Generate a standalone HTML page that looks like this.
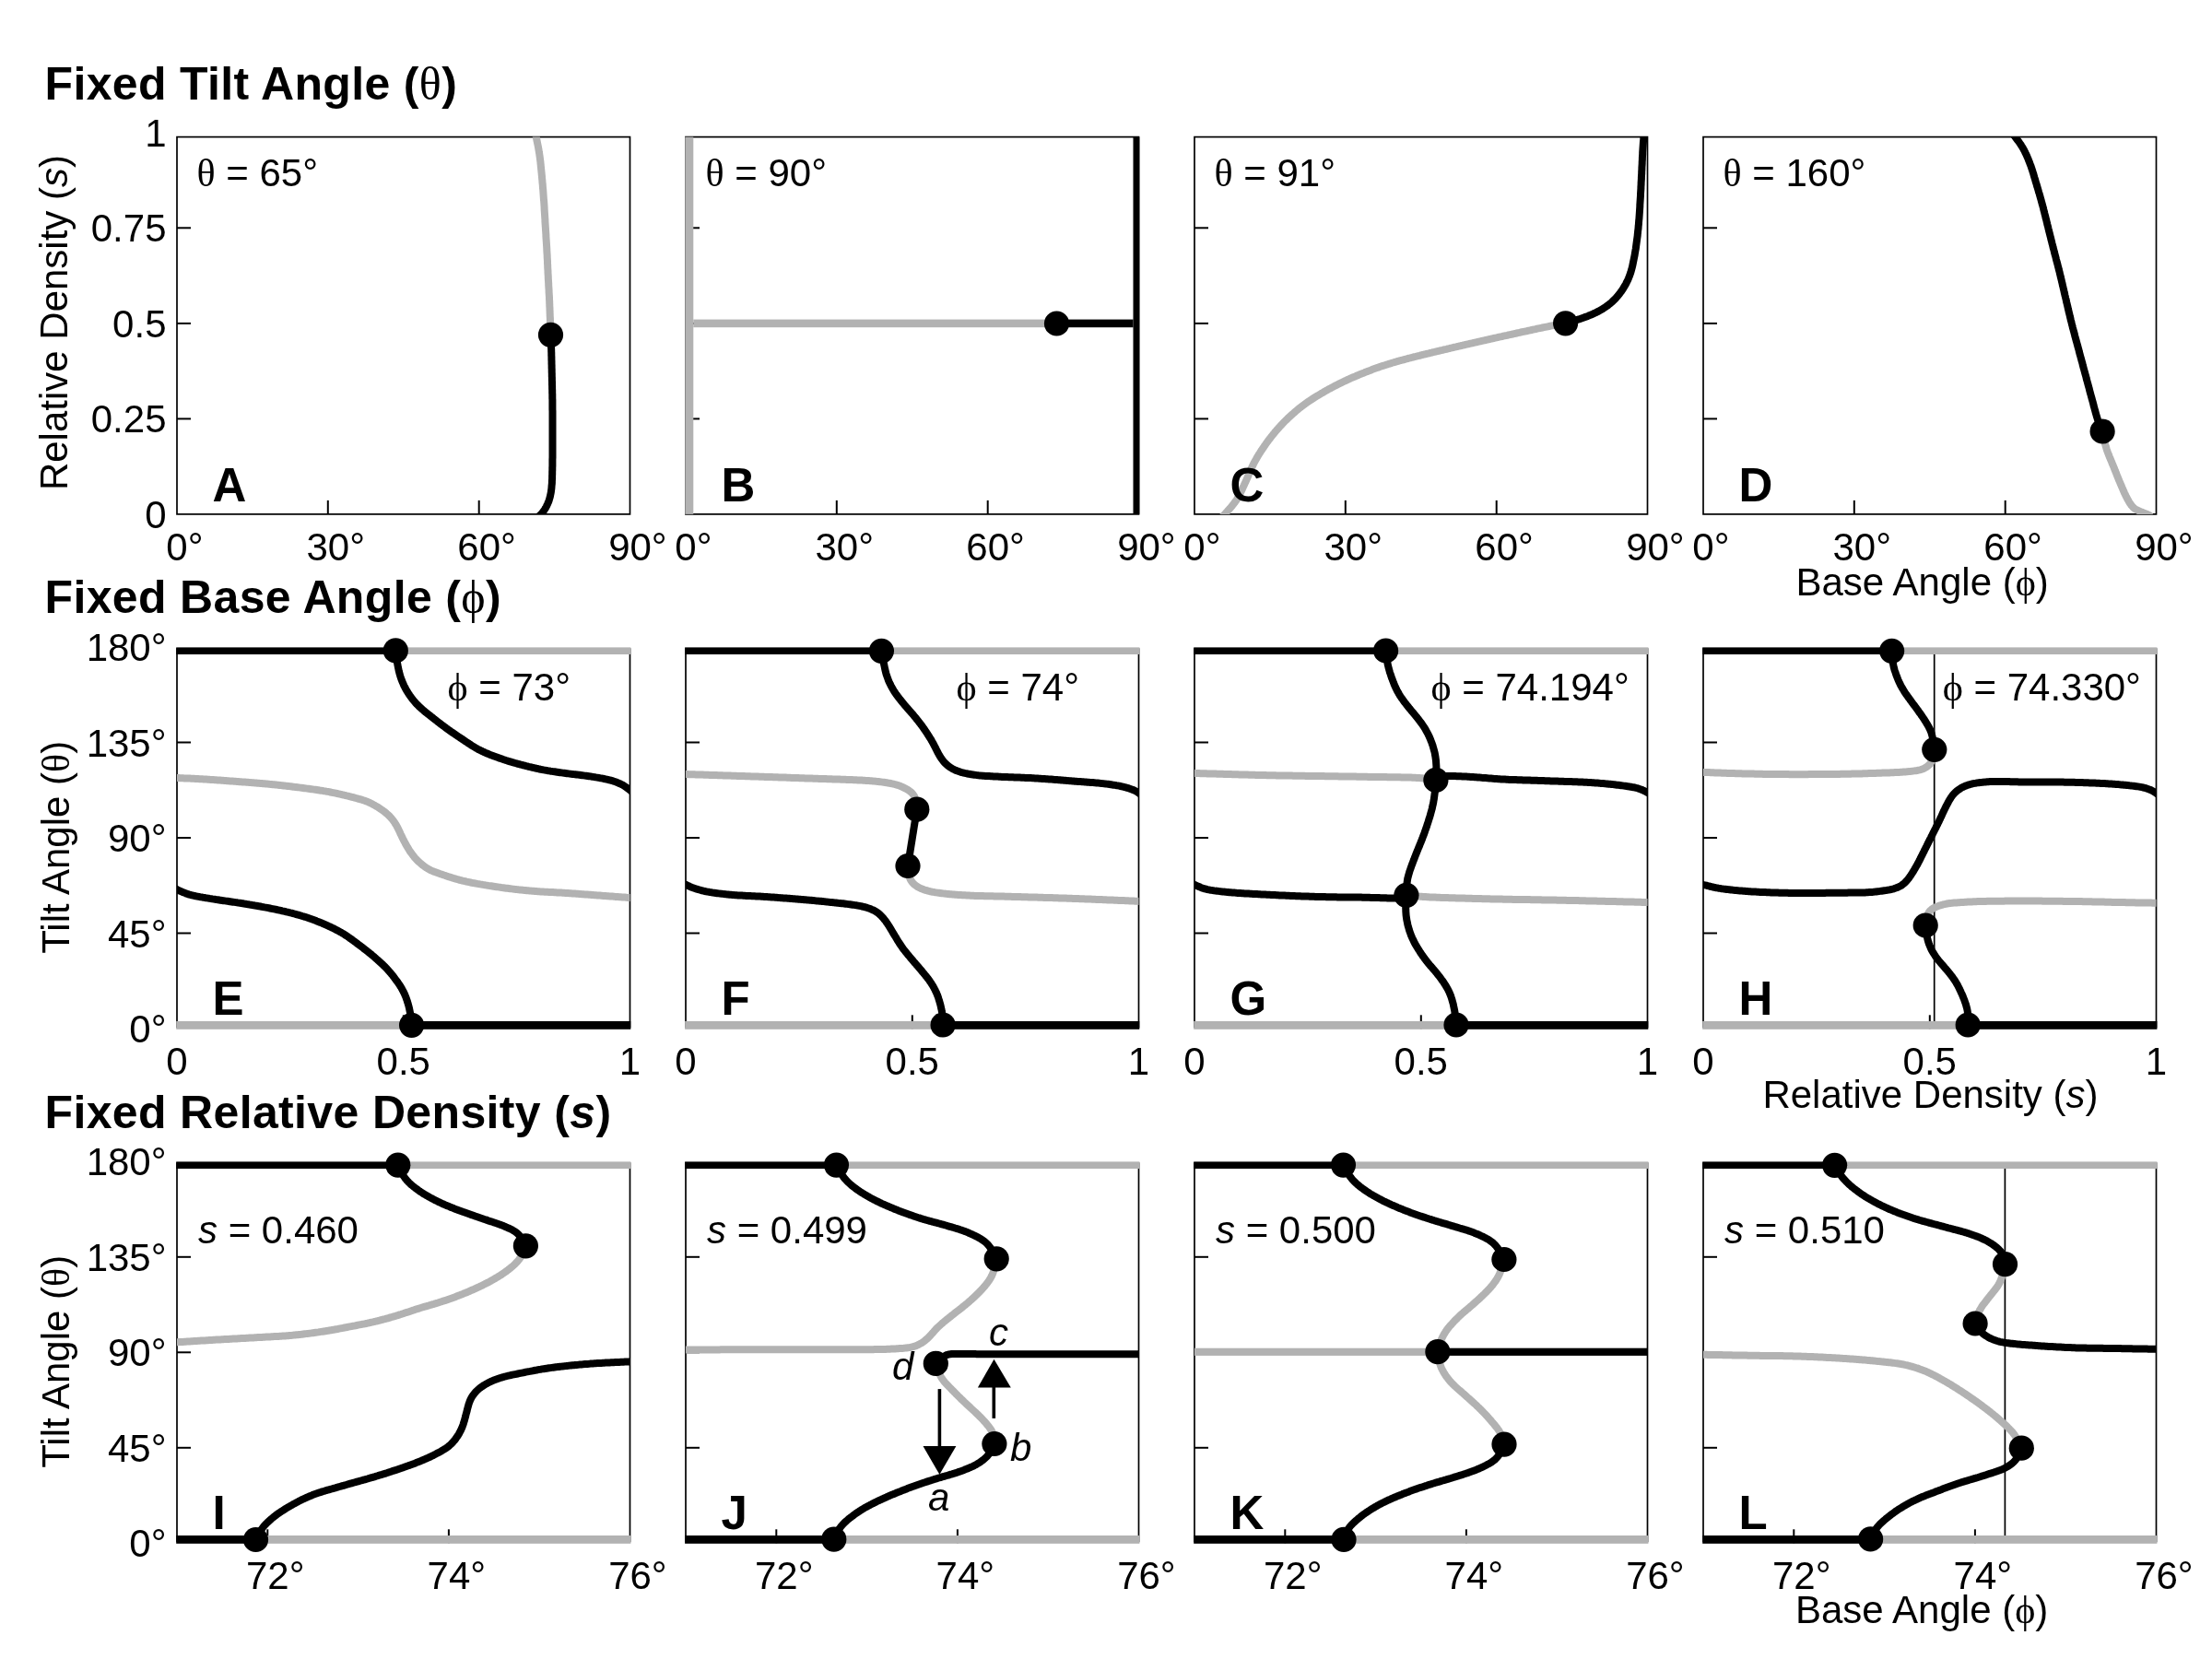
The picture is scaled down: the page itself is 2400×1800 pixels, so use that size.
<!DOCTYPE html><html><head><meta charset="utf-8"><style>html,body{margin:0;padding:0;background:#fff;overflow:hidden}svg{display:block;will-change:transform}</style></head><body>
<svg xmlns="http://www.w3.org/2000/svg" width="2400" height="1800" viewBox="0 0 2400 1800">
<rect width="2400" height="1800" fill="#fff"/>
<defs>
<clipPath id="c00"><rect x="192.0" y="148.6" width="491.5" height="409.3"/></clipPath>
<clipPath id="c01"><rect x="744.0" y="148.6" width="491.5" height="409.3"/></clipPath>
<clipPath id="c02"><rect x="1296.0" y="148.6" width="491.5" height="409.3"/></clipPath>
<clipPath id="c03"><rect x="1848.0" y="148.6" width="491.5" height="409.3"/></clipPath>
<clipPath id="c10"><rect x="192.0" y="702.3" width="491.5" height="414.0"/></clipPath>
<clipPath id="c11"><rect x="744.0" y="702.3" width="491.5" height="414.0"/></clipPath>
<clipPath id="c12"><rect x="1296.0" y="702.3" width="491.5" height="414.0"/></clipPath>
<clipPath id="c13"><rect x="1848.0" y="702.3" width="491.5" height="414.0"/></clipPath>
<clipPath id="c20"><rect x="192.0" y="1260.3" width="491.5" height="414.0"/></clipPath>
<clipPath id="c21"><rect x="744.0" y="1260.3" width="491.5" height="414.0"/></clipPath>
<clipPath id="c22"><rect x="1296.0" y="1260.3" width="491.5" height="414.0"/></clipPath>
<clipPath id="c23"><rect x="1848.0" y="1260.3" width="491.5" height="414.0"/></clipPath>
</defs>
<rect x="192.0" y="148.6" width="491.5" height="409.3" fill="none" stroke="#000" stroke-width="1.7"/>
<path d="M192.0,703.3 V1115.3 M683.5,703.3 V1115.3" fill="none" stroke="#000" stroke-width="1.7"/>
<path d="M192.0,1261.3 V1673.3 M683.5,1261.3 V1673.3" fill="none" stroke="#000" stroke-width="1.7"/>
<line x1="192.0" y1="247.3" x2="207.0" y2="247.3" stroke="#000" stroke-width="2"/>
<line x1="192.0" y1="350.9" x2="207.0" y2="350.9" stroke="#000" stroke-width="2"/>
<line x1="192.0" y1="454.4" x2="207.0" y2="454.4" stroke="#000" stroke-width="2"/>
<line x1="355.8" y1="542.9" x2="355.8" y2="557.9" stroke="#000" stroke-width="2"/>
<line x1="519.7" y1="542.9" x2="519.7" y2="557.9" stroke="#000" stroke-width="2"/>
<line x1="192.0" y1="805.5" x2="207.0" y2="805.5" stroke="#000" stroke-width="2"/>
<line x1="192.0" y1="909.0" x2="207.0" y2="909.0" stroke="#000" stroke-width="2"/>
<line x1="192.0" y1="1012.5" x2="207.0" y2="1012.5" stroke="#000" stroke-width="2"/>
<line x1="437.8" y1="1101.3" x2="437.8" y2="1116.3" stroke="#000" stroke-width="2"/>
<line x1="192.0" y1="1363.8" x2="207.0" y2="1363.8" stroke="#000" stroke-width="2"/>
<line x1="192.0" y1="1467.3" x2="207.0" y2="1467.3" stroke="#000" stroke-width="2"/>
<line x1="192.0" y1="1570.8" x2="207.0" y2="1570.8" stroke="#000" stroke-width="2"/>
<line x1="290.3" y1="1659.3" x2="290.3" y2="1674.3" stroke="#000" stroke-width="2"/>
<line x1="486.9" y1="1659.3" x2="486.9" y2="1674.3" stroke="#000" stroke-width="2"/>
<rect x="744.0" y="148.6" width="491.5" height="409.3" fill="none" stroke="#000" stroke-width="1.7"/>
<path d="M744.0,703.3 V1115.3 M1235.5,703.3 V1115.3" fill="none" stroke="#000" stroke-width="1.7"/>
<path d="M744.0,1261.3 V1673.3 M1235.5,1261.3 V1673.3" fill="none" stroke="#000" stroke-width="1.7"/>
<line x1="744.0" y1="247.3" x2="759.0" y2="247.3" stroke="#000" stroke-width="2"/>
<line x1="744.0" y1="350.9" x2="759.0" y2="350.9" stroke="#000" stroke-width="2"/>
<line x1="744.0" y1="454.4" x2="759.0" y2="454.4" stroke="#000" stroke-width="2"/>
<line x1="907.8" y1="542.9" x2="907.8" y2="557.9" stroke="#000" stroke-width="2"/>
<line x1="1071.7" y1="542.9" x2="1071.7" y2="557.9" stroke="#000" stroke-width="2"/>
<line x1="744.0" y1="805.5" x2="759.0" y2="805.5" stroke="#000" stroke-width="2"/>
<line x1="744.0" y1="909.0" x2="759.0" y2="909.0" stroke="#000" stroke-width="2"/>
<line x1="744.0" y1="1012.5" x2="759.0" y2="1012.5" stroke="#000" stroke-width="2"/>
<line x1="989.8" y1="1101.3" x2="989.8" y2="1116.3" stroke="#000" stroke-width="2"/>
<line x1="744.0" y1="1363.8" x2="759.0" y2="1363.8" stroke="#000" stroke-width="2"/>
<line x1="744.0" y1="1467.3" x2="759.0" y2="1467.3" stroke="#000" stroke-width="2"/>
<line x1="744.0" y1="1570.8" x2="759.0" y2="1570.8" stroke="#000" stroke-width="2"/>
<line x1="842.3" y1="1659.3" x2="842.3" y2="1674.3" stroke="#000" stroke-width="2"/>
<line x1="1038.9" y1="1659.3" x2="1038.9" y2="1674.3" stroke="#000" stroke-width="2"/>
<rect x="1296.0" y="148.6" width="491.5" height="409.3" fill="none" stroke="#000" stroke-width="1.7"/>
<path d="M1296.0,703.3 V1115.3 M1787.5,703.3 V1115.3" fill="none" stroke="#000" stroke-width="1.7"/>
<path d="M1296.0,1261.3 V1673.3 M1787.5,1261.3 V1673.3" fill="none" stroke="#000" stroke-width="1.7"/>
<line x1="1296.0" y1="247.3" x2="1311.0" y2="247.3" stroke="#000" stroke-width="2"/>
<line x1="1296.0" y1="350.9" x2="1311.0" y2="350.9" stroke="#000" stroke-width="2"/>
<line x1="1296.0" y1="454.4" x2="1311.0" y2="454.4" stroke="#000" stroke-width="2"/>
<line x1="1459.8" y1="542.9" x2="1459.8" y2="557.9" stroke="#000" stroke-width="2"/>
<line x1="1623.7" y1="542.9" x2="1623.7" y2="557.9" stroke="#000" stroke-width="2"/>
<line x1="1296.0" y1="805.5" x2="1311.0" y2="805.5" stroke="#000" stroke-width="2"/>
<line x1="1296.0" y1="909.0" x2="1311.0" y2="909.0" stroke="#000" stroke-width="2"/>
<line x1="1296.0" y1="1012.5" x2="1311.0" y2="1012.5" stroke="#000" stroke-width="2"/>
<line x1="1541.8" y1="1101.3" x2="1541.8" y2="1116.3" stroke="#000" stroke-width="2"/>
<line x1="1296.0" y1="1363.8" x2="1311.0" y2="1363.8" stroke="#000" stroke-width="2"/>
<line x1="1296.0" y1="1467.3" x2="1311.0" y2="1467.3" stroke="#000" stroke-width="2"/>
<line x1="1296.0" y1="1570.8" x2="1311.0" y2="1570.8" stroke="#000" stroke-width="2"/>
<line x1="1394.3" y1="1659.3" x2="1394.3" y2="1674.3" stroke="#000" stroke-width="2"/>
<line x1="1590.9" y1="1659.3" x2="1590.9" y2="1674.3" stroke="#000" stroke-width="2"/>
<rect x="1848.0" y="148.6" width="491.5" height="409.3" fill="none" stroke="#000" stroke-width="1.7"/>
<path d="M1848.0,703.3 V1115.3 M2339.5,703.3 V1115.3" fill="none" stroke="#000" stroke-width="1.7"/>
<path d="M1848.0,1261.3 V1673.3 M2339.5,1261.3 V1673.3" fill="none" stroke="#000" stroke-width="1.7"/>
<line x1="1848.0" y1="247.3" x2="1863.0" y2="247.3" stroke="#000" stroke-width="2"/>
<line x1="1848.0" y1="350.9" x2="1863.0" y2="350.9" stroke="#000" stroke-width="2"/>
<line x1="1848.0" y1="454.4" x2="1863.0" y2="454.4" stroke="#000" stroke-width="2"/>
<line x1="2011.8" y1="542.9" x2="2011.8" y2="557.9" stroke="#000" stroke-width="2"/>
<line x1="2175.7" y1="542.9" x2="2175.7" y2="557.9" stroke="#000" stroke-width="2"/>
<line x1="1848.0" y1="805.5" x2="1863.0" y2="805.5" stroke="#000" stroke-width="2"/>
<line x1="1848.0" y1="909.0" x2="1863.0" y2="909.0" stroke="#000" stroke-width="2"/>
<line x1="1848.0" y1="1012.5" x2="1863.0" y2="1012.5" stroke="#000" stroke-width="2"/>
<line x1="2093.8" y1="1101.3" x2="2093.8" y2="1116.3" stroke="#000" stroke-width="2"/>
<line x1="1848.0" y1="1363.8" x2="1863.0" y2="1363.8" stroke="#000" stroke-width="2"/>
<line x1="1848.0" y1="1467.3" x2="1863.0" y2="1467.3" stroke="#000" stroke-width="2"/>
<line x1="1848.0" y1="1570.8" x2="1863.0" y2="1570.8" stroke="#000" stroke-width="2"/>
<line x1="1946.3" y1="1659.3" x2="1946.3" y2="1674.3" stroke="#000" stroke-width="2"/>
<line x1="2142.9" y1="1659.3" x2="2142.9" y2="1674.3" stroke="#000" stroke-width="2"/>
<path d="M580.5,140.0 L580.7,141.5 L580.9,143.0 L581.2,144.5 L581.4,145.9 L581.6,147.4 L581.9,148.9 L582.1,150.4 L582.4,151.9 L582.7,153.4 L583.0,154.8 L583.3,156.3 L583.6,157.8 L583.9,159.3 L584.2,160.7 L584.4,162.2 L584.7,163.7 L584.9,165.2 L585.2,166.7 L585.4,168.2 L585.6,169.6 L585.8,171.1 L586.0,172.6 L586.2,174.1 L586.4,175.6 L586.5,177.1 L586.7,178.6 L586.8,180.1 L587.0,181.6 L587.1,183.1 L587.3,184.6 L587.4,186.1 L587.6,187.6 L587.7,189.1 L587.9,190.6 L588.0,192.1 L588.1,193.6 L588.3,195.1 L588.4,196.6 L588.5,198.1 L588.7,199.6 L588.8,201.1 L588.9,202.6 L589.0,204.1 L589.2,205.6 L589.3,207.1 L589.4,208.6 L589.5,210.1 L589.6,211.6 L589.7,213.1 L589.8,214.6 L589.9,216.1 L590.1,217.6 L590.2,219.1 L590.3,220.6 L590.4,222.1 L590.5,223.6 L590.6,225.1 L590.6,226.6 L590.7,228.1 L590.8,229.6 L590.9,231.1 L591.0,232.6 L591.1,234.1 L591.2,235.6 L591.3,237.1 L591.4,238.6 L591.4,240.1 L591.5,241.6 L591.6,243.1 L591.7,244.6 L591.8,246.1 L591.9,247.6 L592.0,249.1 L592.1,250.6 L592.2,252.1 L592.3,253.6 L592.4,255.1 L592.4,256.6 L592.5,258.1 L592.6,259.6 L592.7,261.1 L592.8,262.6 L592.9,264.1 L593.0,265.6 L593.1,267.1 L593.2,268.6 L593.3,270.1 L593.3,271.6 L593.4,273.1 L593.5,274.6 L593.6,276.1 L593.7,277.6 L593.7,279.1 L593.8,280.6 L593.9,282.1 L594.0,283.6 L594.0,285.1 L594.1,286.7 L594.2,288.2 L594.2,289.7 L594.3,291.2 L594.4,292.7 L594.5,294.2 L594.5,295.7 L594.6,297.2 L594.7,298.7 L594.8,300.2 L594.8,301.7 L594.9,303.2 L595.0,304.7 L595.1,306.2 L595.2,307.7 L595.2,309.2 L595.3,310.7 L595.4,312.2 L595.5,313.7 L595.6,315.2 L595.6,316.7 L595.7,318.2 L595.8,319.7 L595.9,321.2 L596.0,322.7 L596.0,324.2 L596.1,325.7 L596.2,327.2 L596.2,328.7 L596.3,330.2 L596.3,331.7 L596.4,333.2 L596.5,334.7 L596.5,336.2 L596.6,337.7 L596.6,339.2 L596.7,340.7 L596.7,342.3 L596.8,343.8 L596.9,345.3 L596.9,346.8 L597.0,348.3 L597.0,349.8 L597.1,351.3 L597.1,352.8 L597.2,354.3 L597.2,355.8 L597.3,357.3 L597.3,358.8 L597.4,360.3 L597.4,361.8 L597.5,363.3" fill="none" stroke="#b2b2b2" stroke-width="8.0" stroke-linejoin="round" stroke-linecap="round" clip-path="url(#c00)"/>
<path d="M597.5,363.3 L597.6,364.8 L597.6,366.3 L597.7,367.8 L597.8,369.3 L597.9,370.8 L597.9,372.3 L598.0,373.8 L598.0,375.3 L598.1,376.8 L598.1,378.3 L598.2,379.8 L598.2,381.3 L598.3,382.8 L598.3,384.3 L598.3,385.8 L598.4,387.3 L598.4,388.8 L598.4,390.3 L598.5,391.8 L598.5,393.3 L598.5,394.8 L598.6,396.3 L598.6,397.8 L598.6,399.3 L598.7,400.8 L598.7,402.3 L598.7,403.8 L598.8,405.3 L598.8,406.8 L598.8,408.3 L598.9,409.8 L598.9,411.3 L598.9,412.8 L599.0,414.3 L599.0,415.8 L599.0,417.3 L599.1,418.8 L599.1,420.3 L599.1,421.8 L599.2,423.3 L599.2,424.8 L599.2,426.3 L599.3,427.8 L599.3,429.3 L599.3,430.8 L599.3,432.3 L599.4,433.8 L599.4,435.3 L599.4,436.8 L599.4,438.3 L599.4,439.8 L599.4,441.3 L599.4,442.8 L599.4,444.3 L599.5,445.8 L599.5,447.3 L599.5,448.8 L599.5,450.3 L599.5,451.8 L599.5,453.3 L599.5,454.8 L599.5,456.3 L599.5,457.8 L599.5,459.3 L599.5,460.8 L599.5,462.3 L599.5,463.8 L599.5,465.3 L599.5,466.8 L599.5,468.3 L599.5,469.8 L599.5,471.3 L599.5,472.8 L599.5,474.3 L599.5,475.8 L599.5,477.3 L599.5,478.8 L599.5,480.3 L599.5,481.8 L599.5,483.3 L599.5,484.8 L599.5,486.3 L599.5,487.8 L599.5,489.3 L599.5,490.8 L599.5,492.3 L599.5,493.8 L599.5,495.3 L599.5,496.8 L599.4,498.3 L599.4,499.8 L599.4,501.3 L599.4,502.8 L599.4,504.3 L599.4,505.8 L599.3,507.3 L599.3,508.8 L599.3,510.3 L599.2,511.8 L599.2,513.3 L599.2,514.8 L599.1,516.3 L599.1,517.8 L599.1,519.3 L599.0,520.8 L598.9,522.3 L598.9,523.8 L598.8,525.3 L598.6,526.8 L598.5,528.2 L598.4,529.7 L598.2,531.2 L598.0,532.7 L597.8,534.2 L597.5,535.7 L597.2,537.1 L596.9,538.6 L596.5,540.1 L596.1,541.5 L595.7,542.9 L595.2,544.3 L594.6,545.7 L594.0,547.1 L593.4,548.4 L592.7,549.8 L592.0,551.1 L591.2,552.4 L590.4,553.6 L589.6,554.9 L588.7,556.0 L587.8,557.2 L586.7,558.2 L585.7,559.3 L584.5,560.2 L583.4,561.2 L582.2,562.1 L581.0,563.0" fill="none" stroke="#000" stroke-width="8.0" stroke-linejoin="round" stroke-linecap="round" clip-path="url(#c00)"/>
<circle cx="597.5" cy="363.3" r="13.6" fill="#000"/>
<rect x="743.3" y="148.6" width="9.0" height="409.3" fill="#b2b2b2"/>
<rect x="1229.5" y="148.6" width="6.8" height="409.3" fill="#000"/>
<rect x="752.3" y="346.6" width="394.2" height="8.6" fill="#b2b2b2"/>
<rect x="1146.5" y="346.6" width="83.0" height="8.6" fill="#000"/>
<circle cx="1146.5" cy="351.0" r="13.6" fill="#000"/>
<path d="M1325.0,562.0 L1326.0,560.9 L1327.1,559.8 L1328.1,558.7 L1329.1,557.6 L1330.1,556.5 L1331.1,555.4 L1332.1,554.3 L1333.1,553.1 L1334.1,552.0 L1335.1,550.9 L1336.1,549.7 L1337.0,548.6 L1337.9,547.4 L1338.9,546.2 L1339.8,545.0 L1340.6,543.8 L1341.5,542.6 L1342.3,541.3 L1343.0,540.0 L1343.8,538.7 L1344.5,537.4 L1345.2,536.1 L1345.9,534.7 L1346.5,533.4 L1347.2,532.0 L1347.8,530.7 L1348.4,529.3 L1349.1,527.9 L1349.7,526.6 L1350.3,525.2 L1350.9,523.8 L1351.6,522.5 L1352.2,521.1 L1352.8,519.7 L1353.4,518.3 L1354.0,517.0 L1354.6,515.6 L1355.1,514.2 L1355.7,512.8 L1356.3,511.4 L1356.9,510.1 L1357.6,508.7 L1358.2,507.3 L1358.8,506.0 L1359.5,504.6 L1360.1,503.3 L1360.8,501.9 L1361.5,500.6 L1362.2,499.3 L1363.0,498.0 L1363.7,496.7 L1364.5,495.4 L1365.2,494.1 L1366.0,492.8 L1366.8,491.6 L1367.6,490.3 L1368.4,489.0 L1369.3,487.8 L1370.1,486.5 L1371.0,485.3 L1371.8,484.0 L1372.7,482.8 L1373.5,481.6 L1374.4,480.4 L1375.3,479.2 L1376.2,477.9 L1377.1,476.7 L1378.0,475.6 L1378.9,474.4 L1379.8,473.2 L1380.8,472.0 L1381.7,470.9 L1382.7,469.7 L1383.6,468.5 L1384.6,467.4 L1385.6,466.3 L1386.6,465.1 L1387.6,464.0 L1388.6,462.9 L1389.6,461.8 L1390.6,460.7 L1391.6,459.6 L1392.7,458.5 L1393.7,457.4 L1394.8,456.4 L1395.9,455.3 L1396.9,454.3 L1398.0,453.2 L1399.1,452.2 L1400.2,451.2 L1401.3,450.2 L1402.4,449.2 L1403.6,448.2 L1404.7,447.2 L1405.8,446.2 L1407.0,445.2 L1408.1,444.3 L1409.3,443.3 L1410.5,442.4 L1411.7,441.5 L1412.8,440.6 L1414.0,439.7 L1415.3,438.8 L1416.5,437.9 L1417.7,437.0 L1418.9,436.2 L1420.2,435.3 L1421.4,434.5 L1422.7,433.7 L1423.9,432.8 L1425.2,432.0 L1426.5,431.2 L1427.7,430.4 L1429.0,429.6 L1430.3,428.9 L1431.6,428.1 L1432.9,427.3 L1434.2,426.6 L1435.5,425.8 L1436.8,425.0 L1438.1,424.3 L1439.4,423.6 L1440.7,422.8 L1442.0,422.1 L1443.3,421.4 L1444.6,420.7 L1446.0,420.0 L1447.3,419.3 L1448.6,418.6 L1450.0,417.9 L1451.3,417.2 L1452.6,416.5 L1454.0,415.9 L1455.3,415.2 L1456.7,414.6 L1458.0,413.9 L1459.4,413.3 L1460.8,412.6 L1462.1,412.0 L1463.5,411.4 L1464.9,410.8 L1466.2,410.1 L1467.6,409.5 L1469.0,408.9 L1470.4,408.4 L1471.7,407.8 L1473.1,407.2 L1474.5,406.6 L1475.9,406.0 L1477.3,405.5 L1478.7,404.9 L1480.1,404.4 L1481.5,403.8 L1482.9,403.3 L1484.3,402.7 L1485.7,402.2 L1487.1,401.7 L1488.5,401.1 L1489.9,400.6 L1491.3,400.1 L1492.7,399.6 L1494.1,399.1 L1495.6,398.6 L1497.0,398.1 L1498.4,397.6 L1499.8,397.1 L1501.2,396.7 L1502.7,396.2 L1504.1,395.7 L1505.5,395.3 L1507.0,394.8 L1508.4,394.4 L1509.8,393.9 L1511.3,393.5 L1512.7,393.1 L1514.1,392.7 L1515.6,392.2 L1517.0,391.8 L1518.5,391.4 L1519.9,391.0 L1521.4,390.7 L1522.8,390.3 L1524.3,389.9 L1525.7,389.5 L1527.2,389.1 L1528.6,388.7 L1530.1,388.4 L1531.5,388.0 L1533.0,387.6 L1534.5,387.2 L1535.9,386.9 L1537.4,386.5 L1538.8,386.1 L1540.3,385.8 L1541.7,385.4 L1543.2,385.0 L1544.6,384.7 L1546.1,384.3 L1547.6,384.0 L1549.0,383.6 L1550.5,383.3 L1551.9,382.9 L1553.4,382.6 L1554.9,382.2 L1556.3,381.9 L1557.8,381.5 L1559.2,381.2 L1560.7,380.8 L1562.2,380.5 L1563.6,380.1 L1565.1,379.8 L1566.6,379.4 L1568.0,379.1 L1569.5,378.8 L1570.9,378.4 L1572.4,378.1 L1573.9,377.7 L1575.3,377.4 L1576.8,377.0 L1578.2,376.7 L1579.7,376.4 L1581.2,376.0 L1582.6,375.7 L1584.1,375.3 L1585.6,375.0 L1587.0,374.7 L1588.5,374.3 L1589.9,374.0 L1591.4,373.6 L1592.9,373.3 L1594.3,373.0 L1595.8,372.6 L1597.3,372.3 L1598.7,372.0 L1600.2,371.6 L1601.7,371.3 L1603.1,371.0 L1604.6,370.6 L1606.0,370.3 L1607.5,370.0 L1609.0,369.6 L1610.4,369.3 L1611.9,369.0 L1613.4,368.7 L1614.8,368.3 L1616.3,368.0 L1617.8,367.7 L1619.2,367.3 L1620.7,367.0 L1622.2,366.7 L1623.6,366.4 L1625.1,366.0 L1626.6,365.7 L1628.0,365.4 L1629.5,365.1 L1631.0,364.7 L1632.4,364.4 L1633.9,364.1 L1635.4,363.8 L1636.8,363.4 L1638.3,363.1 L1639.8,362.8 L1641.2,362.5 L1642.7,362.2 L1644.2,361.8 L1645.6,361.5 L1647.1,361.2 L1648.6,360.9 L1650.0,360.5 L1651.5,360.2 L1653.0,359.9 L1654.4,359.6 L1655.9,359.3 L1657.4,359.0 L1658.8,358.6 L1660.3,358.3 L1661.8,358.0 L1663.2,357.7 L1664.7,357.4 L1666.2,357.1 L1667.6,356.7 L1669.1,356.4 L1670.6,356.1 L1672.0,355.8 L1673.5,355.5 L1675.0,355.2 L1676.5,354.9 L1677.9,354.6 L1679.4,354.3 L1680.9,354.0 L1682.3,353.7 L1683.8,353.4 L1685.3,353.1 L1686.8,352.8 L1688.2,352.6 L1689.7,352.3 L1691.2,352.1 L1692.7,351.8 L1694.2,351.5 L1695.6,351.3 L1697.1,351.0 L1698.6,350.8" fill="none" stroke="#b2b2b2" stroke-width="8.0" stroke-linejoin="round" stroke-linecap="round" clip-path="url(#c02)"/>
<path d="M1698.6,350.8 L1700.0,350.4 L1701.5,349.9 L1702.9,349.5 L1704.4,349.1 L1705.8,348.6 L1707.2,348.2 L1708.7,347.8 L1710.1,347.3 L1711.5,346.8 L1713.0,346.4 L1714.4,345.9 L1715.8,345.4 L1717.2,344.9 L1718.6,344.4 L1720.1,343.9 L1721.5,343.4 L1722.9,342.9 L1724.3,342.3 L1725.7,341.8 L1727.0,341.2 L1728.4,340.6 L1729.8,339.9 L1731.1,339.3 L1732.5,338.6 L1733.8,338.0 L1735.2,337.2 L1736.5,336.5 L1737.8,335.8 L1739.1,335.0 L1740.3,334.2 L1741.6,333.4 L1742.8,332.5 L1744.0,331.7 L1745.2,330.8 L1746.4,329.8 L1747.6,328.9 L1748.7,327.9 L1749.8,326.8 L1750.9,325.8 L1751.9,324.7 L1753.0,323.7 L1754.0,322.5 L1755.0,321.4 L1755.9,320.3 L1756.9,319.1 L1757.8,317.9 L1758.7,316.7 L1759.5,315.5 L1760.4,314.2 L1761.2,313.0 L1762.0,311.7 L1762.7,310.4 L1763.5,309.1 L1764.2,307.8 L1764.9,306.4 L1765.5,305.1 L1766.2,303.7 L1766.8,302.4 L1767.3,301.0 L1767.9,299.6 L1768.4,298.2 L1768.9,296.8 L1769.4,295.3 L1769.8,293.9 L1770.2,292.4 L1770.6,291.0 L1771.0,289.5 L1771.3,288.1 L1771.6,286.6 L1771.9,285.1 L1772.2,283.7 L1772.5,282.2 L1772.8,280.7 L1773.1,279.2 L1773.4,277.8 L1773.7,276.3 L1773.9,274.8 L1774.2,273.3 L1774.4,271.8 L1774.7,270.4 L1774.9,268.9 L1775.1,267.4 L1775.3,265.9 L1775.5,264.4 L1775.7,262.9 L1775.9,261.4 L1776.1,259.9 L1776.3,258.5 L1776.5,257.0 L1776.7,255.5 L1776.8,254.0 L1777.0,252.5 L1777.1,251.0 L1777.3,249.5 L1777.5,248.0 L1777.6,246.5 L1777.7,245.0 L1777.9,243.5 L1778.0,242.0 L1778.1,240.5 L1778.2,239.0 L1778.4,237.5 L1778.5,236.0 L1778.6,234.5 L1778.7,233.0 L1778.8,231.5 L1778.9,230.0 L1779.0,228.5 L1779.1,227.0 L1779.2,225.5 L1779.3,224.0 L1779.3,222.5 L1779.4,221.0 L1779.5,219.5 L1779.6,218.0 L1779.7,216.5 L1779.8,215.0 L1779.9,213.5 L1780.0,212.0 L1780.0,210.5 L1780.1,209.0 L1780.2,207.5 L1780.3,206.0 L1780.4,204.5 L1780.4,203.0 L1780.5,201.5 L1780.6,200.0 L1780.6,198.5 L1780.7,197.0 L1780.8,195.5 L1780.9,194.0 L1780.9,192.5 L1781.0,191.0 L1781.1,189.5 L1781.2,188.0 L1781.2,186.5 L1781.3,185.0 L1781.4,183.5 L1781.4,182.0 L1781.5,180.5 L1781.6,179.0 L1781.7,177.5 L1781.7,176.0 L1781.8,174.5 L1781.9,173.0 L1781.9,171.5 L1782.0,170.0 L1782.1,168.5 L1782.2,167.0 L1782.2,165.5 L1782.3,164.0 L1782.4,162.5 L1782.5,161.0 L1782.6,159.5 L1782.7,158.0 L1782.8,156.5 L1782.9,155.0 L1783.0,153.5 L1783.2,152.0 L1783.3,150.5 L1783.4,149.0 L1783.5,147.5 L1783.6,146.0 L1783.6,144.5 L1783.7,143.0 L1783.8,141.5 L1783.8,140.0" fill="none" stroke="#000" stroke-width="8.0" stroke-linejoin="round" stroke-linecap="round" clip-path="url(#c02)"/>
<circle cx="1698.6" cy="350.8" r="13.6" fill="#000"/>
<path d="M2281.1,468.0 L2281.4,469.5 L2281.7,471.0 L2282.0,472.5 L2282.3,474.0 L2282.6,475.4 L2282.9,476.9 L2283.3,478.4 L2283.6,479.9 L2284.0,481.4 L2284.3,482.8 L2284.7,484.3 L2285.2,485.8 L2285.6,487.2 L2286.1,488.7 L2286.6,490.1 L2287.1,491.5 L2287.7,492.9 L2288.2,494.3 L2288.8,495.8 L2289.4,497.2 L2290.0,498.6 L2290.6,500.0 L2291.2,501.4 L2291.7,502.8 L2292.3,504.2 L2292.9,505.6 L2293.5,507.0 L2294.0,508.4 L2294.6,509.8 L2295.1,511.2 L2295.7,512.6 L2296.3,514.1 L2296.8,515.5 L2297.4,516.9 L2298.0,518.3 L2298.5,519.7 L2299.1,521.1 L2299.7,522.5 L2300.3,523.9 L2300.9,525.3 L2301.5,526.7 L2302.1,528.1 L2302.7,529.5 L2303.3,530.9 L2303.9,532.3 L2304.5,533.7 L2305.1,535.1 L2305.8,536.4 L2306.4,537.8 L2307.1,539.2 L2307.8,540.5 L2308.5,541.9 L2309.3,543.2 L2310.0,544.5 L2310.8,545.8 L2311.7,547.0 L2312.5,548.3 L2313.5,549.4 L2314.5,550.5 L2315.6,551.5 L2316.8,552.3 L2318.1,553.1 L2319.4,553.8 L2320.8,554.4 L2322.1,555.0 L2323.6,555.6 L2325.0,556.1 L2326.4,556.7 L2327.8,557.3 L2329.2,557.8 L2330.6,558.4 L2332.0,559.0" fill="none" stroke="#b2b2b2" stroke-width="8.0" stroke-linejoin="round" stroke-linecap="round" clip-path="url(#c03)"/>
<path d="M2180.0,140.0 L2180.9,141.2 L2181.8,142.4 L2182.7,143.6 L2183.6,144.8 L2184.5,146.0 L2185.4,147.2 L2186.3,148.4 L2187.2,149.6 L2188.1,150.8 L2189.0,152.0 L2189.9,153.2 L2190.8,154.4 L2191.6,155.6 L2192.5,156.9 L2193.3,158.2 L2194.1,159.4 L2194.8,160.7 L2195.6,162.0 L2196.3,163.3 L2197.0,164.7 L2197.6,166.0 L2198.3,167.4 L2198.9,168.7 L2199.5,170.1 L2200.1,171.5 L2200.7,172.9 L2201.2,174.3 L2201.8,175.7 L2202.3,177.1 L2202.8,178.5 L2203.4,179.9 L2203.9,181.3 L2204.3,182.7 L2204.8,184.1 L2205.3,185.6 L2205.7,187.0 L2206.2,188.4 L2206.6,189.9 L2207.0,191.3 L2207.4,192.7 L2207.9,194.2 L2208.3,195.6 L2208.7,197.1 L2209.1,198.5 L2209.6,199.9 L2210.0,201.4 L2210.4,202.8 L2210.9,204.3 L2211.3,205.7 L2211.7,207.1 L2212.1,208.6 L2212.6,210.0 L2213.0,211.5 L2213.4,212.9 L2213.8,214.3 L2214.2,215.8 L2214.6,217.2 L2215.0,218.7 L2215.4,220.1 L2215.8,221.6 L2216.2,223.0 L2216.6,224.5 L2217.0,225.9 L2217.3,227.4 L2217.7,228.8 L2218.1,230.3 L2218.4,231.7 L2218.8,233.2 L2219.2,234.6 L2219.5,236.1 L2219.9,237.6 L2220.3,239.0 L2220.6,240.5 L2221.0,241.9 L2221.3,243.4 L2221.7,244.8 L2222.1,246.3 L2222.4,247.8 L2222.8,249.2 L2223.1,250.7 L2223.5,252.1 L2223.9,253.6 L2224.2,255.0 L2224.6,256.5 L2225.0,257.9 L2225.3,259.4 L2225.7,260.9 L2226.1,262.3 L2226.4,263.8 L2226.8,265.2 L2227.2,266.7 L2227.5,268.1 L2227.9,269.6 L2228.3,271.0 L2228.7,272.5 L2229.0,273.9 L2229.4,275.4 L2229.8,276.8 L2230.2,278.3 L2230.6,279.8 L2230.9,281.2 L2231.3,282.7 L2231.7,284.1 L2232.1,285.6 L2232.5,287.0 L2232.8,288.5 L2233.2,289.9 L2233.6,291.4 L2233.9,292.8 L2234.3,294.3 L2234.7,295.7 L2235.0,297.2 L2235.4,298.7 L2235.7,300.1 L2236.1,301.6 L2236.4,303.0 L2236.8,304.5 L2237.1,306.0 L2237.5,307.4 L2237.8,308.9 L2238.1,310.3 L2238.5,311.8 L2238.8,313.3 L2239.2,314.7 L2239.5,316.2 L2239.8,317.6 L2240.2,319.1 L2240.5,320.6 L2240.9,322.0 L2241.2,323.5 L2241.6,324.9 L2241.9,326.4 L2242.2,327.9 L2242.6,329.3 L2242.9,330.8 L2243.3,332.3 L2243.6,333.7 L2243.9,335.2 L2244.3,336.6 L2244.6,338.1 L2245.0,339.6 L2245.3,341.0 L2245.7,342.5 L2246.0,343.9 L2246.4,345.4 L2246.7,346.9 L2247.1,348.3 L2247.5,349.8 L2247.8,351.2 L2248.2,352.7 L2248.6,354.1 L2248.9,355.6 L2249.3,357.0 L2249.7,358.5 L2250.1,359.9 L2250.5,361.4 L2250.9,362.8 L2251.2,364.3 L2251.6,365.7 L2252.0,367.2 L2252.4,368.6 L2252.8,370.1 L2253.2,371.5 L2253.6,373.0 L2254.0,374.4 L2254.4,375.9 L2254.8,377.3 L2255.2,378.8 L2255.6,380.2 L2255.9,381.7 L2256.3,383.1 L2256.7,384.6 L2257.1,386.0 L2257.5,387.5 L2257.9,388.9 L2258.3,390.4 L2258.7,391.8 L2259.1,393.3 L2259.5,394.7 L2259.8,396.2 L2260.2,397.6 L2260.6,399.1 L2261.0,400.5 L2261.4,402.0 L2261.8,403.4 L2262.2,404.9 L2262.6,406.3 L2263.0,407.7 L2263.4,409.2 L2263.7,410.6 L2264.1,412.1 L2264.5,413.5 L2264.9,415.0 L2265.3,416.4 L2265.7,417.9 L2266.1,419.3 L2266.5,420.8 L2266.9,422.2 L2267.2,423.7 L2267.6,425.1 L2268.0,426.6 L2268.4,428.0 L2268.8,429.5 L2269.2,430.9 L2269.6,432.4 L2270.0,433.8 L2270.4,435.3 L2270.8,436.7 L2271.2,438.2 L2271.5,439.6 L2271.9,441.1 L2272.3,442.5 L2272.7,444.0 L2273.1,445.4 L2273.5,446.9 L2273.9,448.3 L2274.3,449.8 L2274.7,451.2 L2275.1,452.6 L2275.6,454.1 L2276.0,455.5 L2276.5,456.9 L2277.0,458.3 L2277.5,459.8 L2278.1,461.1 L2278.6,462.5 L2279.2,463.9 L2279.8,465.3 L2280.5,466.6 L2281.1,468.0" fill="none" stroke="#000" stroke-width="8.0" stroke-linejoin="round" stroke-linecap="round" clip-path="url(#c03)"/>
<circle cx="2281.1" cy="468.0" r="13.6" fill="#000"/>
<rect x="191.2" y="702.4" width="238.2" height="7.6" fill="#000"/>
<rect x="429.3" y="702.4" width="255.0" height="7.6" fill="#b2b2b2"/>
<rect x="191.2" y="1108.0" width="255.5" height="8.8" fill="#b2b2b2"/>
<rect x="446.6" y="1108.0" width="237.7" height="8.8" fill="#000"/>
<path d="M185.0,843.9 L186.5,843.9 L188.0,844.0 L189.5,844.0 L191.0,844.0 L192.5,844.1 L194.0,844.1 L195.5,844.2 L197.0,844.2 L198.5,844.3 L200.0,844.4 L201.5,844.4 L203.0,844.5 L204.5,844.6 L206.0,844.6 L207.5,844.7 L209.0,844.8 L210.5,844.8 L212.0,844.9 L213.5,845.0 L215.0,845.1 L216.5,845.2 L218.0,845.3 L219.5,845.3 L221.0,845.4 L222.5,845.5 L224.0,845.6 L225.5,845.7 L227.0,845.8 L228.5,845.9 L230.0,846.0 L231.5,846.1 L233.0,846.2 L234.5,846.3 L236.0,846.4 L237.5,846.5 L239.0,846.6 L240.5,846.7 L242.0,846.8 L243.5,846.9 L245.0,847.0 L246.5,847.2 L248.0,847.3 L249.5,847.4 L251.0,847.5 L252.5,847.6 L254.0,847.7 L255.5,847.8 L257.0,847.9 L258.5,848.0 L260.0,848.2 L261.5,848.3 L263.0,848.4 L264.5,848.5 L266.0,848.6 L267.5,848.7 L269.0,848.8 L270.5,848.9 L272.0,849.1 L273.5,849.2 L275.0,849.3 L276.5,849.4 L278.0,849.5 L279.5,849.7 L281.0,849.8 L282.5,849.9 L284.0,850.0 L285.5,850.2 L287.0,850.3 L288.5,850.5 L290.0,850.6 L291.5,850.7 L293.0,850.9 L294.5,851.0 L296.0,851.2 L297.5,851.3 L299.0,851.5 L300.5,851.6 L301.9,851.8 L303.4,852.0 L304.9,852.1 L306.4,852.3 L307.9,852.5 L309.4,852.6 L310.9,852.8 L312.4,853.0 L313.9,853.1 L315.4,853.3 L316.9,853.5 L318.4,853.7 L319.9,853.9 L321.4,854.0 L322.9,854.2 L324.3,854.4 L325.8,854.6 L327.3,854.8 L328.8,855.0 L330.3,855.2 L331.8,855.4 L333.3,855.6 L334.8,855.8 L336.3,856.0 L337.8,856.2 L339.2,856.4 L340.7,856.6 L342.2,856.8 L343.7,857.0 L345.2,857.2 L346.7,857.5 L348.2,857.7 L349.7,857.9 L351.1,858.2 L352.6,858.4 L354.1,858.7 L355.6,858.9 L357.1,859.2 L358.5,859.5 L360.0,859.8 L361.5,860.1 L363.0,860.4 L364.4,860.7 L365.9,861.0 L367.4,861.3 L368.8,861.6 L370.3,862.0 L371.8,862.3 L373.2,862.7 L374.7,863.0 L376.1,863.4 L377.6,863.7 L379.1,864.1 L380.5,864.5 L382.0,864.8 L383.4,865.2 L384.9,865.6 L386.3,866.0 L387.8,866.4 L389.2,866.8 L390.7,867.2 L392.1,867.6 L393.5,868.1 L395.0,868.5 L396.4,869.0 L397.8,869.6 L399.2,870.1 L400.6,870.7 L401.9,871.3 L403.3,872.0 L404.6,872.7 L405.9,873.4 L407.2,874.2 L408.5,874.9 L409.8,875.7 L411.1,876.5 L412.3,877.3 L413.6,878.2 L414.8,879.0 L416.0,879.9 L417.2,880.8 L418.4,881.7 L419.5,882.7 L420.7,883.7 L421.8,884.7 L422.8,885.8 L423.8,886.9 L424.8,888.0 L425.8,889.2 L426.7,890.4 L427.6,891.6 L428.4,892.8 L429.2,894.1 L430.0,895.4 L430.7,896.7 L431.4,898.0 L432.1,899.3 L432.7,900.7 L433.4,902.0 L434.0,903.4 L434.6,904.8 L435.3,906.1 L435.9,907.5 L436.6,908.8 L437.2,910.2 L437.9,911.5 L438.6,912.9 L439.3,914.2 L440.0,915.5 L440.7,916.8 L441.5,918.1 L442.2,919.4 L443.0,920.7 L443.8,922.0 L444.6,923.3 L445.5,924.5 L446.3,925.7 L447.2,926.9 L448.1,928.1 L449.1,929.3 L450.0,930.5 L451.0,931.6 L452.0,932.7 L453.1,933.8 L454.1,934.8 L455.2,935.8 L456.4,936.8 L457.5,937.8 L458.7,938.7 L459.9,939.6 L461.1,940.5 L462.3,941.3 L463.6,942.1 L464.9,942.9 L466.2,943.6 L467.6,944.3 L468.9,944.9 L470.3,945.5 L471.7,946.1 L473.1,946.6 L474.5,947.1 L475.9,947.6 L477.3,948.1 L478.8,948.5 L480.2,949.0 L481.6,949.5 L483.1,949.9 L484.5,950.4 L485.9,950.9 L487.3,951.4 L488.8,951.8 L490.2,952.3 L491.6,952.7 L493.1,953.2 L494.5,953.6 L495.9,954.0 L497.4,954.4 L498.8,954.8 L500.3,955.2 L501.8,955.6 L503.2,955.9 L504.7,956.2 L506.2,956.6 L507.6,956.9 L509.1,957.2 L510.6,957.5 L512.0,957.8 L513.5,958.1 L515.0,958.3 L516.5,958.6 L518.0,958.9 L519.4,959.1 L520.9,959.4 L522.4,959.6 L523.9,959.9 L525.4,960.1 L526.8,960.4 L528.3,960.6 L529.8,960.9 L531.3,961.1 L532.8,961.3 L534.3,961.5 L535.8,961.8 L537.2,962.0 L538.7,962.2 L540.2,962.4 L541.7,962.6 L543.2,962.8 L544.7,963.1 L546.2,963.3 L547.7,963.5 L549.2,963.7 L550.6,963.8 L552.1,964.0 L553.6,964.2 L555.1,964.4 L556.6,964.6 L558.1,964.8 L559.6,964.9 L561.1,965.1 L562.6,965.3 L564.1,965.4 L565.6,965.6 L567.1,965.7 L568.6,965.9 L570.1,966.0 L571.6,966.2 L573.1,966.3 L574.5,966.4 L576.0,966.6 L577.5,966.7 L579.0,966.8 L580.5,967.0 L582.0,967.1 L583.5,967.2 L585.0,967.3 L586.5,967.4 L588.0,967.5 L589.5,967.6 L591.0,967.7 L592.5,967.7 L594.0,967.8 L595.5,967.9 L597.0,968.0 L598.5,968.1 L600.0,968.1 L601.5,968.2 L603.0,968.3 L604.5,968.4 L606.0,968.5 L607.5,968.5 L609.0,968.6 L610.5,968.7 L612.0,968.8 L613.5,968.9 L615.0,969.0 L616.5,969.1 L618.0,969.2 L619.5,969.3 L621.0,969.4 L622.5,969.5 L624.0,969.6 L625.5,969.7 L627.0,969.8 L628.5,969.9 L630.0,970.1 L631.5,970.2 L633.0,970.3 L634.5,970.4 L636.0,970.5 L637.5,970.6 L639.0,970.7 L640.5,970.8 L642.0,971.0 L643.5,971.1 L645.0,971.2 L646.5,971.3 L648.0,971.4 L649.5,971.5 L651.0,971.6 L652.5,971.7 L654.0,971.9 L655.5,972.0 L657.0,972.1 L658.5,972.2 L660.0,972.3 L661.5,972.4 L663.0,972.5 L664.5,972.6 L666.0,972.7 L667.5,972.9 L669.0,973.0 L670.5,973.1 L672.0,973.2 L673.5,973.3 L675.0,973.4 L676.5,973.5 L678.0,973.6 L679.5,973.7 L681.0,973.9 L682.5,974.0 L684.0,974.1 L685.5,974.2 L687.0,974.3 L688.5,974.4 L690.0,974.5" fill="none" stroke="#b2b2b2" stroke-width="8.0" stroke-linejoin="round" stroke-linecap="round" clip-path="url(#c10)"/>
<path d="M429.3,705.9 L429.5,707.4 L429.6,708.9 L429.8,710.4 L430.0,711.9 L430.2,713.4 L430.4,714.9 L430.6,716.4 L430.8,717.9 L431.1,719.3 L431.3,720.8 L431.6,722.3 L431.9,723.8 L432.2,725.3 L432.5,726.7 L432.8,728.2 L433.2,729.6 L433.6,731.1 L434.0,732.5 L434.4,734.0 L434.9,735.4 L435.4,736.8 L435.9,738.2 L436.5,739.6 L437.1,741.0 L437.7,742.4 L438.3,743.8 L439.0,745.1 L439.7,746.5 L440.4,747.8 L441.1,749.1 L441.9,750.4 L442.7,751.7 L443.5,752.9 L444.3,754.2 L445.2,755.4 L446.1,756.6 L447.0,757.8 L447.9,759.0 L448.9,760.2 L449.8,761.3 L450.8,762.5 L451.8,763.6 L452.9,764.7 L453.9,765.7 L455.0,766.8 L456.1,767.8 L457.2,768.8 L458.3,769.8 L459.5,770.8 L460.6,771.8 L461.8,772.7 L463.0,773.6 L464.2,774.6 L465.4,775.5 L466.5,776.4 L467.7,777.4 L468.9,778.3 L470.1,779.2 L471.3,780.2 L472.5,781.1 L473.6,782.0 L474.8,783.0 L476.0,783.9 L477.2,784.8 L478.4,785.7 L479.6,786.6 L480.8,787.5 L482.0,788.4 L483.2,789.3 L484.4,790.2 L485.7,791.1 L486.9,792.0 L488.1,792.8 L489.3,793.7 L490.6,794.6 L491.8,795.4 L493.1,796.3 L494.3,797.1 L495.6,798.0 L496.8,798.8 L498.1,799.6 L499.3,800.5 L500.6,801.3 L501.8,802.2 L503.1,803.0 L504.3,803.8 L505.6,804.7 L506.8,805.5 L508.1,806.4 L509.3,807.2 L510.6,808.0 L511.8,808.8 L513.1,809.6 L514.4,810.4 L515.7,811.2 L517.0,811.9 L518.3,812.7 L519.6,813.4 L521.0,814.0 L522.3,814.7 L523.7,815.4 L525.1,816.0 L526.4,816.6 L527.8,817.2 L529.2,817.8 L530.6,818.4 L532.0,819.0 L533.4,819.5 L534.8,820.0 L536.2,820.6 L537.6,821.1 L539.0,821.6 L540.4,822.1 L541.9,822.6 L543.3,823.1 L544.7,823.6 L546.1,824.1 L547.6,824.5 L549.0,825.0 L550.5,825.4 L551.9,825.9 L553.3,826.3 L554.8,826.7 L556.2,827.2 L557.7,827.6 L559.1,828.0 L560.6,828.4 L562.0,828.8 L563.5,829.2 L564.9,829.6 L566.4,829.9 L567.8,830.3 L569.3,830.7 L570.8,831.1 L572.2,831.4 L573.7,831.8 L575.2,832.1 L576.6,832.5 L578.1,832.8 L579.5,833.2 L581.0,833.5 L582.5,833.8 L584.0,834.2 L585.4,834.5 L586.9,834.8 L588.4,835.1 L589.9,835.4 L591.3,835.6 L592.8,835.9 L594.3,836.2 L595.8,836.4 L597.3,836.7 L598.8,836.9 L600.3,837.1 L601.7,837.3 L603.2,837.5 L604.7,837.8 L606.2,838.0 L607.7,838.2 L609.2,838.4 L610.7,838.6 L612.2,838.8 L613.7,839.0 L615.2,839.2 L616.7,839.4 L618.2,839.6 L619.7,839.8 L621.1,839.9 L622.6,840.1 L624.1,840.3 L625.6,840.5 L627.1,840.6 L628.6,840.8 L630.1,841.0 L631.6,841.2 L633.1,841.4 L634.6,841.6 L636.1,841.8 L637.6,842.0 L639.1,842.2 L640.6,842.4 L642.1,842.7 L643.5,842.9 L645.0,843.1 L646.5,843.4 L648.0,843.6 L649.5,843.9 L651.0,844.2 L652.4,844.4 L653.9,844.7 L655.4,845.0 L656.9,845.3 L658.3,845.6 L659.8,846.0 L661.3,846.3 L662.7,846.7 L664.2,847.1 L665.6,847.6 L667.0,848.0 L668.5,848.5 L669.9,849.1 L671.2,849.7 L672.6,850.3 L674.0,850.9 L675.3,851.6 L676.6,852.3 L677.9,853.1 L679.1,854.0 L680.3,854.8 L681.5,855.7 L682.7,856.6 L683.9,857.6 L685.1,858.5 L686.3,859.4 L687.5,860.3 L688.8,861.1 L690.0,862.0" fill="none" stroke="#000" stroke-width="8.0" stroke-linejoin="round" stroke-linecap="round" clip-path="url(#c10)"/>
<path d="M185.0,961.0 L186.3,961.8 L187.6,962.6 L188.9,963.3 L190.2,964.1 L191.5,964.8 L192.8,965.5 L194.2,966.2 L195.5,966.8 L196.9,967.4 L198.3,968.0 L199.7,968.6 L201.1,969.1 L202.5,969.7 L203.9,970.1 L205.4,970.6 L206.8,971.0 L208.3,971.3 L209.7,971.7 L211.2,972.0 L212.7,972.3 L214.1,972.6 L215.6,972.9 L217.1,973.2 L218.6,973.4 L220.1,973.7 L221.6,973.9 L223.0,974.2 L224.5,974.4 L226.0,974.6 L227.5,974.9 L229.0,975.1 L230.5,975.4 L232.0,975.6 L233.5,975.8 L234.9,976.1 L236.4,976.3 L237.9,976.5 L239.4,976.8 L240.9,977.0 L242.4,977.2 L243.9,977.4 L245.4,977.6 L246.9,977.8 L248.4,978.0 L249.8,978.3 L251.3,978.5 L252.8,978.7 L254.3,978.9 L255.8,979.1 L257.3,979.3 L258.8,979.6 L260.3,979.8 L261.8,980.0 L263.3,980.2 L264.7,980.5 L266.2,980.7 L267.7,981.0 L269.2,981.2 L270.7,981.5 L272.2,981.7 L273.7,982.0 L275.1,982.2 L276.6,982.5 L278.1,982.7 L279.6,983.0 L281.1,983.3 L282.6,983.5 L284.0,983.8 L285.5,984.1 L287.0,984.4 L288.5,984.6 L290.0,984.9 L291.4,985.2 L292.9,985.5 L294.4,985.8 L295.9,986.1 L297.4,986.4 L298.8,986.7 L300.3,987.0 L301.8,987.3 L303.2,987.6 L304.7,987.9 L306.2,988.3 L307.7,988.6 L309.1,988.9 L310.6,989.3 L312.1,989.6 L313.5,990.0 L315.0,990.4 L316.4,990.7 L317.9,991.1 L319.4,991.5 L320.8,991.9 L322.3,992.3 L323.7,992.7 L325.2,993.1 L326.6,993.5 L328.0,994.0 L329.5,994.4 L330.9,994.8 L332.4,995.3 L333.8,995.8 L335.2,996.3 L336.6,996.8 L338.1,997.3 L339.5,997.8 L340.9,998.3 L342.3,998.8 L343.7,999.4 L345.1,999.9 L346.5,1000.5 L347.9,1001.1 L349.3,1001.6 L350.7,1002.2 L352.0,1002.8 L353.4,1003.4 L354.8,1004.0 L356.2,1004.7 L357.5,1005.3 L358.9,1005.9 L360.3,1006.6 L361.6,1007.2 L363.0,1007.9 L364.3,1008.6 L365.7,1009.3 L367.0,1010.0 L368.3,1010.7 L369.6,1011.4 L370.9,1012.2 L372.2,1012.9 L373.5,1013.7 L374.8,1014.6 L376.0,1015.4 L377.3,1016.2 L378.5,1017.1 L379.7,1018.0 L381.0,1018.8 L382.2,1019.7 L383.4,1020.6 L384.6,1021.5 L385.8,1022.4 L387.0,1023.3 L388.2,1024.2 L389.4,1025.1 L390.6,1026.0 L391.8,1026.9 L393.0,1027.8 L394.2,1028.8 L395.4,1029.7 L396.6,1030.6 L397.8,1031.5 L399.0,1032.5 L400.1,1033.4 L401.3,1034.4 L402.5,1035.3 L403.6,1036.3 L404.8,1037.3 L405.9,1038.2 L407.1,1039.2 L408.2,1040.2 L409.4,1041.2 L410.5,1042.2 L411.6,1043.2 L412.7,1044.2 L413.8,1045.2 L414.9,1046.2 L416.0,1047.3 L417.1,1048.4 L418.1,1049.4 L419.2,1050.5 L420.2,1051.6 L421.2,1052.7 L422.2,1053.9 L423.2,1055.0 L424.2,1056.1 L425.1,1057.3 L426.1,1058.5 L427.0,1059.7 L427.9,1060.9 L428.8,1062.1 L429.7,1063.3 L430.6,1064.5 L431.5,1065.7 L432.3,1066.9 L433.2,1068.2 L434.0,1069.5 L434.8,1070.7 L435.6,1072.0 L436.3,1073.3 L437.0,1074.6 L437.7,1076.0 L438.4,1077.3 L439.0,1078.7 L439.6,1080.1 L440.2,1081.5 L440.7,1082.9 L441.2,1084.3 L441.7,1085.7 L442.1,1087.2 L442.6,1088.6 L443.0,1090.0 L443.4,1091.5 L443.8,1093.0 L444.1,1094.4 L444.4,1095.9 L444.7,1097.4 L445.0,1098.8 L445.2,1100.3 L445.4,1101.8 L445.6,1103.3 L445.8,1104.8 L446.0,1106.3 L446.1,1107.8 L446.3,1109.3 L446.4,1110.8 L446.6,1112.3" fill="none" stroke="#000" stroke-width="8.0" stroke-linejoin="round" stroke-linecap="round" clip-path="url(#c10)"/>
<circle cx="429.3" cy="705.9" r="13.6" fill="#000"/>
<circle cx="446.6" cy="1112.3" r="13.6" fill="#000"/>
<rect x="743.1" y="702.4" width="213.2" height="7.6" fill="#000"/>
<rect x="956.4" y="702.4" width="280.0" height="7.6" fill="#b2b2b2"/>
<rect x="743.1" y="1108.0" width="280.0" height="8.8" fill="#b2b2b2"/>
<rect x="1023.1" y="1108.0" width="213.2" height="8.8" fill="#000"/>
<path d="M737.0,840.0 L738.5,840.0 L740.0,840.0 L741.5,840.1 L743.0,840.1 L744.5,840.1 L746.0,840.1 L747.5,840.2 L749.0,840.2 L750.5,840.2 L752.0,840.3 L753.5,840.3 L755.0,840.4 L756.5,840.4 L758.0,840.5 L759.5,840.5 L761.0,840.6 L762.5,840.6 L764.0,840.7 L765.5,840.7 L767.0,840.8 L768.5,840.8 L770.0,840.9 L771.5,840.9 L773.0,841.0 L774.5,841.0 L776.0,841.1 L777.5,841.1 L779.0,841.2 L780.5,841.2 L782.0,841.3 L783.5,841.3 L785.0,841.4 L786.5,841.4 L788.0,841.5 L789.5,841.5 L791.0,841.6 L792.5,841.6 L794.0,841.7 L795.5,841.7 L797.0,841.8 L798.5,841.8 L800.0,841.9 L801.5,841.9 L803.0,842.0 L804.5,842.0 L806.0,842.1 L807.5,842.1 L809.0,842.2 L810.5,842.2 L812.0,842.3 L813.5,842.3 L815.0,842.4 L816.5,842.4 L818.0,842.5 L819.5,842.5 L821.0,842.6 L822.5,842.6 L824.0,842.7 L825.5,842.7 L827.0,842.8 L828.5,842.8 L830.0,842.9 L831.6,842.9 L833.1,843.0 L834.6,843.0 L836.1,843.1 L837.6,843.1 L839.1,843.2 L840.6,843.2 L842.1,843.3 L843.6,843.3 L845.1,843.4 L846.6,843.4 L848.1,843.5 L849.6,843.5 L851.1,843.6 L852.6,843.6 L854.1,843.7 L855.6,843.7 L857.1,843.8 L858.6,843.9 L860.1,843.9 L861.6,844.0 L863.1,844.0 L864.6,844.1 L866.1,844.1 L867.6,844.2 L869.1,844.2 L870.6,844.3 L872.1,844.3 L873.6,844.4 L875.1,844.4 L876.6,844.5 L878.1,844.5 L879.6,844.6 L881.1,844.6 L882.6,844.7 L884.1,844.7 L885.6,844.8 L887.1,844.8 L888.6,844.9 L890.1,844.9 L891.6,845.0 L893.1,845.0 L894.6,845.1 L896.1,845.1 L897.6,845.2 L899.1,845.2 L900.6,845.3 L902.1,845.3 L903.6,845.4 L905.1,845.4 L906.6,845.5 L908.1,845.5 L909.6,845.6 L911.1,845.6 L912.6,845.7 L914.1,845.7 L915.6,845.8 L917.1,845.8 L918.6,845.9 L920.1,845.9 L921.6,846.0 L923.1,846.1 L924.6,846.1 L926.1,846.2 L927.6,846.2 L929.1,846.3 L930.6,846.4 L932.1,846.5 L933.6,846.5 L935.1,846.6 L936.6,846.7 L938.1,846.8 L939.6,846.9 L941.1,847.0 L942.6,847.1 L944.1,847.2 L945.6,847.3 L947.1,847.4 L948.6,847.6 L950.1,847.7 L951.6,847.9 L953.1,848.0 L954.5,848.2 L956.0,848.4 L957.5,848.6 L959.0,848.8 L960.5,849.0 L962.0,849.2 L963.5,849.5 L964.9,849.7 L966.4,850.0 L967.9,850.3 L969.3,850.6 L970.8,851.0 L972.2,851.4 L973.7,851.8 L975.1,852.3 L976.5,852.8 L977.9,853.4 L979.3,854.0 L980.6,854.6 L982.0,855.3 L983.3,856.0 L984.6,856.7 L985.8,857.5 L987.0,858.4 L988.2,859.3 L989.3,860.3 L990.3,861.4 L991.1,862.5 L991.9,863.7 L992.5,865.0 L993.0,866.4 L993.4,867.8 L993.7,869.3 L993.9,870.8 L994.1,872.2 L994.3,873.7 L994.5,875.2 L994.6,876.7 L994.8,878.2" fill="none" stroke="#b2b2b2" stroke-width="8.0" stroke-linejoin="round" stroke-linecap="round" clip-path="url(#c11)"/>
<path d="M985.0,939.5 L985.1,941.0 L985.3,942.5 L985.4,944.0 L985.6,945.5 L985.8,946.9 L986.0,948.4 L986.3,949.9 L986.7,951.3 L987.1,952.7 L987.7,954.0 L988.4,955.3 L989.2,956.5 L990.1,957.7 L991.1,958.7 L992.2,959.7 L993.4,960.6 L994.6,961.5 L995.8,962.3 L997.1,963.0 L998.5,963.7 L999.8,964.3 L1001.2,964.8 L1002.6,965.4 L1004.1,965.8 L1005.5,966.2 L1006.9,966.6 L1008.4,967.0 L1009.8,967.3 L1011.3,967.7 L1012.8,967.9 L1014.3,968.2 L1015.7,968.4 L1017.2,968.6 L1018.7,968.8 L1020.2,969.0 L1021.7,969.2 L1023.2,969.4 L1024.7,969.6 L1026.2,969.7 L1027.6,969.9 L1029.1,970.0 L1030.6,970.2 L1032.1,970.3 L1033.6,970.4 L1035.1,970.5 L1036.6,970.7 L1038.1,970.8 L1039.6,970.9 L1041.1,971.0 L1042.6,971.1 L1044.1,971.2 L1045.6,971.3 L1047.1,971.3 L1048.6,971.4 L1050.1,971.5 L1051.6,971.6 L1053.1,971.7 L1054.6,971.7 L1056.1,971.8 L1057.6,971.9 L1059.1,971.9 L1060.6,972.0 L1062.1,972.0 L1063.6,972.1 L1065.1,972.1 L1066.6,972.1 L1068.1,972.2 L1069.6,972.2 L1071.1,972.2 L1072.6,972.2 L1074.1,972.3 L1075.6,972.3 L1077.1,972.3 L1078.6,972.4 L1080.1,972.4 L1081.6,972.4 L1083.1,972.5 L1084.6,972.5 L1086.1,972.6 L1087.6,972.6 L1089.1,972.6 L1090.6,972.7 L1092.1,972.7 L1093.6,972.8 L1095.1,972.8 L1096.6,972.8 L1098.1,972.9 L1099.6,972.9 L1101.1,973.0 L1102.6,973.0 L1104.1,973.0 L1105.6,973.1 L1107.1,973.1 L1108.6,973.2 L1110.1,973.2 L1111.6,973.2 L1113.1,973.3 L1114.6,973.3 L1116.1,973.4 L1117.6,973.4 L1119.1,973.5 L1120.6,973.5 L1122.1,973.5 L1123.6,973.6 L1125.1,973.6 L1126.6,973.7 L1128.1,973.7 L1129.6,973.8 L1131.1,973.8 L1132.6,973.9 L1134.1,973.9 L1135.6,973.9 L1137.1,974.0 L1138.6,974.0 L1140.1,974.1 L1141.6,974.1 L1143.1,974.2 L1144.6,974.2 L1146.1,974.3 L1147.6,974.3 L1149.1,974.4 L1150.6,974.4 L1152.1,974.5 L1153.6,974.5 L1155.1,974.6 L1156.6,974.6 L1158.1,974.7 L1159.6,974.7 L1161.1,974.8 L1162.6,974.8 L1164.1,974.9 L1165.6,974.9 L1167.1,975.0 L1168.6,975.1 L1170.1,975.1 L1171.6,975.2 L1173.1,975.2 L1174.6,975.3 L1176.1,975.3 L1177.5,975.4 L1179.0,975.5 L1180.5,975.5 L1182.0,975.6 L1183.5,975.6 L1185.0,975.7 L1186.5,975.8 L1188.0,975.8 L1189.5,975.9 L1191.0,975.9 L1192.5,976.0 L1194.0,976.1 L1195.5,976.1 L1197.0,976.2 L1198.5,976.2 L1200.0,976.3 L1201.5,976.4 L1203.0,976.4 L1204.5,976.5 L1206.0,976.6 L1207.5,976.6 L1209.0,976.7 L1210.5,976.7 L1212.0,976.8 L1213.5,976.9 L1215.0,976.9 L1216.5,977.0 L1218.0,977.1 L1219.5,977.1 L1221.0,977.2 L1222.5,977.3 L1224.0,977.3 L1225.5,977.4 L1227.0,977.5 L1228.5,977.5 L1230.0,977.6 L1231.5,977.7 L1233.0,977.7 L1234.5,977.8 L1236.0,977.9 L1237.5,978.0 L1239.0,978.0 L1240.5,978.1 L1242.0,978.2" fill="none" stroke="#b2b2b2" stroke-width="8.0" stroke-linejoin="round" stroke-linecap="round" clip-path="url(#c11)"/>
<path d="M956.4,706.3 L956.7,707.8 L956.9,709.3 L957.2,710.7 L957.5,712.2 L957.7,713.7 L958.0,715.2 L958.3,716.6 L958.6,718.1 L958.9,719.6 L959.2,721.1 L959.5,722.5 L959.8,724.0 L960.1,725.5 L960.4,726.9 L960.8,728.4 L961.1,729.8 L961.5,731.3 L962.0,732.7 L962.5,734.1 L963.0,735.5 L963.5,736.9 L964.0,738.3 L964.6,739.7 L965.3,741.1 L965.9,742.4 L966.6,743.8 L967.3,745.1 L968.0,746.4 L968.7,747.7 L969.5,749.0 L970.3,750.3 L971.1,751.5 L972.0,752.8 L972.9,754.0 L973.7,755.2 L974.6,756.4 L975.6,757.6 L976.5,758.8 L977.4,759.9 L978.4,761.1 L979.3,762.3 L980.3,763.4 L981.2,764.6 L982.2,765.7 L983.2,766.9 L984.2,768.0 L985.1,769.1 L986.1,770.3 L987.1,771.4 L988.1,772.5 L989.1,773.6 L990.1,774.8 L991.1,775.9 L992.0,777.1 L993.0,778.2 L993.9,779.4 L994.9,780.6 L995.8,781.7 L996.7,782.9 L997.6,784.1 L998.6,785.3 L999.5,786.5 L1000.4,787.7 L1001.2,788.9 L1002.1,790.1 L1003.0,791.4 L1003.8,792.6 L1004.7,793.8 L1005.5,795.1 L1006.3,796.3 L1007.1,797.6 L1007.9,798.9 L1008.7,800.2 L1009.5,801.4 L1010.3,802.7 L1011.0,804.0 L1011.8,805.3 L1012.5,806.6 L1013.2,808.0 L1013.9,809.3 L1014.6,810.6 L1015.3,812.0 L1015.9,813.3 L1016.6,814.7 L1017.3,816.0 L1018.0,817.3 L1018.7,818.6 L1019.4,819.9 L1020.2,821.2 L1021.0,822.5 L1021.9,823.7 L1022.8,824.9 L1023.7,826.1 L1024.7,827.2 L1025.7,828.3 L1026.8,829.3 L1027.9,830.3 L1029.1,831.2 L1030.3,832.1 L1031.5,832.9 L1032.8,833.7 L1034.1,834.4 L1035.4,835.1 L1036.8,835.7 L1038.2,836.3 L1039.6,836.8 L1041.0,837.3 L1042.4,837.8 L1043.9,838.2 L1045.3,838.5 L1046.8,838.9 L1048.2,839.2 L1049.7,839.5 L1051.2,839.8 L1052.7,840.0 L1054.1,840.3 L1055.6,840.5 L1057.1,840.7 L1058.6,840.9 L1060.1,841.1 L1061.6,841.3 L1063.1,841.4 L1064.6,841.6 L1066.1,841.7 L1067.5,841.8 L1069.0,841.9 L1070.5,842.0 L1072.0,842.1 L1073.5,842.1 L1075.0,842.2 L1076.5,842.3 L1078.0,842.4 L1079.5,842.5 L1081.0,842.6 L1082.5,842.6 L1084.0,842.7 L1085.5,842.8 L1087.0,842.9 L1088.5,842.9 L1090.0,843.0 L1091.5,843.0 L1093.0,843.1 L1094.5,843.2 L1096.0,843.2 L1097.5,843.3 L1099.0,843.3 L1100.5,843.4 L1102.0,843.5 L1103.5,843.5 L1105.0,843.6 L1106.5,843.6 L1108.0,843.7 L1109.5,843.7 L1111.0,843.8 L1112.5,843.9 L1114.0,843.9 L1115.5,844.0 L1117.0,844.1 L1118.5,844.1 L1120.0,844.2 L1121.5,844.3 L1123.0,844.4 L1124.5,844.5 L1126.0,844.6 L1127.5,844.7 L1129.0,844.8 L1130.5,844.9 L1132.0,845.0 L1133.5,845.1 L1135.0,845.2 L1136.5,845.3 L1138.0,845.4 L1139.5,845.5 L1141.0,845.6 L1142.5,845.7 L1144.0,845.9 L1145.5,846.0 L1147.0,846.1 L1148.5,846.2 L1150.0,846.3 L1151.5,846.5 L1153.0,846.6 L1154.5,846.7 L1156.0,846.8 L1157.5,846.9 L1159.0,847.1 L1160.5,847.2 L1162.0,847.3 L1163.5,847.4 L1165.0,847.5 L1166.4,847.7 L1167.9,847.8 L1169.4,847.9 L1170.9,848.0 L1172.4,848.1 L1173.9,848.2 L1175.4,848.3 L1176.9,848.4 L1178.4,848.5 L1179.9,848.7 L1181.4,848.8 L1182.9,848.9 L1184.4,849.0 L1185.9,849.1 L1187.4,849.2 L1188.9,849.4 L1190.4,849.5 L1191.9,849.6 L1193.4,849.8 L1194.9,849.9 L1196.4,850.1 L1197.9,850.3 L1199.4,850.4 L1200.8,850.6 L1202.3,850.8 L1203.8,851.0 L1205.3,851.2 L1206.8,851.5 L1208.3,851.7 L1209.8,851.9 L1211.2,852.2 L1212.7,852.4 L1214.2,852.7 L1215.7,853.0 L1217.1,853.3 L1218.6,853.7 L1220.0,854.0 L1221.5,854.4 L1222.9,854.8 L1224.4,855.2 L1225.8,855.7 L1227.2,856.2 L1228.6,856.7 L1230.0,857.3 L1231.4,857.9 L1232.7,858.6 L1234.0,859.4 L1235.2,860.2 L1236.4,861.1 L1237.6,862.0 L1238.7,863.0 L1239.8,864.0 L1240.9,865.0 L1242.0,866.0" fill="none" stroke="#000" stroke-width="8.0" stroke-linejoin="round" stroke-linecap="round" clip-path="url(#c11)"/>
<path d="M737.0,956.0 L738.3,956.8 L739.6,957.5 L740.9,958.2 L742.2,959.0 L743.6,959.6 L744.9,960.3 L746.3,960.9 L747.7,961.5 L749.0,962.1 L750.4,962.7 L751.8,963.2 L753.3,963.7 L754.7,964.2 L756.1,964.7 L757.5,965.1 L759.0,965.5 L760.4,965.9 L761.9,966.3 L763.4,966.7 L764.8,967.0 L766.3,967.3 L767.8,967.6 L769.3,967.8 L770.7,968.1 L772.2,968.3 L773.7,968.6 L775.2,968.8 L776.7,969.0 L778.2,969.2 L779.7,969.4 L781.2,969.6 L782.7,969.7 L784.2,969.9 L785.6,970.1 L787.1,970.2 L788.6,970.4 L790.1,970.5 L791.6,970.7 L793.1,970.8 L794.6,970.9 L796.1,971.1 L797.6,971.2 L799.1,971.3 L800.6,971.4 L802.1,971.4 L803.6,971.5 L805.1,971.6 L806.6,971.7 L808.1,971.8 L809.6,971.9 L811.2,971.9 L812.7,972.0 L814.2,972.1 L815.7,972.2 L817.2,972.2 L818.7,972.3 L820.2,972.4 L821.7,972.5 L823.2,972.5 L824.7,972.6 L826.2,972.7 L827.7,972.8 L829.2,972.9 L830.7,973.0 L832.2,973.1 L833.7,973.2 L835.2,973.3 L836.7,973.4 L838.2,973.5 L839.7,973.6 L841.2,973.7 L842.7,973.8 L844.2,973.9 L845.7,974.1 L847.2,974.2 L848.7,974.3 L850.2,974.4 L851.7,974.5 L853.2,974.6 L854.7,974.7 L856.2,974.8 L857.7,975.0 L859.2,975.1 L860.7,975.2 L862.2,975.3 L863.7,975.4 L865.2,975.5 L866.7,975.7 L868.2,975.8 L869.7,975.9 L871.2,976.0 L872.7,976.2 L874.2,976.3 L875.7,976.4 L877.2,976.6 L878.7,976.7 L880.2,976.8 L881.7,977.0 L883.2,977.1 L884.7,977.3 L886.2,977.4 L887.7,977.6 L889.2,977.7 L890.7,977.8 L892.2,978.0 L893.7,978.1 L895.2,978.3 L896.7,978.4 L898.1,978.6 L899.6,978.8 L901.1,978.9 L902.6,979.1 L904.1,979.2 L905.6,979.4 L907.1,979.5 L908.6,979.7 L910.1,979.9 L911.6,980.0 L913.1,980.2 L914.6,980.3 L916.1,980.5 L917.6,980.7 L919.1,980.9 L920.6,981.1 L922.1,981.3 L923.6,981.5 L925.1,981.7 L926.5,981.9 L928.0,982.1 L929.5,982.3 L931.0,982.6 L932.5,982.9 L934.0,983.2 L935.4,983.5 L936.9,983.8 L938.3,984.2 L939.8,984.6 L941.2,985.1 L942.6,985.5 L944.1,986.0 L945.4,986.6 L946.8,987.2 L948.2,987.8 L949.5,988.5 L950.8,989.3 L952.0,990.1 L953.2,991.0 L954.3,992.0 L955.4,993.0 L956.5,994.1 L957.5,995.2 L958.5,996.3 L959.4,997.5 L960.4,998.6 L961.2,999.8 L962.1,1001.1 L963.0,1002.3 L963.8,1003.6 L964.6,1004.8 L965.4,1006.1 L966.1,1007.4 L966.9,1008.7 L967.7,1010.0 L968.5,1011.3 L969.2,1012.6 L970.0,1013.9 L970.8,1015.2 L971.6,1016.4 L972.3,1017.7 L973.1,1019.0 L973.9,1020.3 L974.7,1021.6 L975.5,1022.8 L976.3,1024.1 L977.2,1025.4 L978.0,1026.6 L978.9,1027.8 L979.7,1029.1 L980.6,1030.3 L981.6,1031.5 L982.5,1032.6 L983.4,1033.8 L984.4,1035.0 L985.3,1036.1 L986.3,1037.3 L987.3,1038.5 L988.2,1039.6 L989.2,1040.8 L990.2,1041.9 L991.1,1043.0 L992.1,1044.2 L993.1,1045.3 L994.1,1046.5 L995.1,1047.6 L996.1,1048.7 L997.0,1049.9 L998.0,1051.0 L999.0,1052.2 L1000.0,1053.3 L1000.9,1054.5 L1001.9,1055.6 L1002.8,1056.8 L1003.8,1058.0 L1004.7,1059.1 L1005.7,1060.3 L1006.6,1061.5 L1007.5,1062.7 L1008.4,1063.9 L1009.2,1065.2 L1010.1,1066.4 L1010.9,1067.7 L1011.7,1068.9 L1012.4,1070.2 L1013.2,1071.5 L1013.9,1072.9 L1014.6,1074.2 L1015.2,1075.5 L1015.9,1076.9 L1016.5,1078.3 L1017.0,1079.7 L1017.6,1081.1 L1018.1,1082.5 L1018.5,1083.9 L1019.0,1085.4 L1019.4,1086.8 L1019.8,1088.3 L1020.2,1089.7 L1020.6,1091.2 L1020.9,1092.6 L1021.2,1094.1 L1021.6,1095.6 L1021.8,1097.0 L1022.1,1098.5 L1022.3,1100.0 L1022.5,1101.5 L1022.7,1103.0 L1022.8,1104.5 L1022.9,1106.0 L1022.9,1107.5 L1023.0,1109.0 L1023.1,1110.5 L1023.1,1112.0" fill="none" stroke="#000" stroke-width="8.0" stroke-linejoin="round" stroke-linecap="round" clip-path="url(#c11)"/>
<line x1="994.8" y1="878.2" x2="985" y2="939.5" stroke="#000" stroke-width="8.0"/>
<circle cx="956.4" cy="706.3" r="13.6" fill="#000"/>
<circle cx="994.8" cy="878.2" r="13.6" fill="#000"/>
<circle cx="985.0" cy="939.5" r="13.6" fill="#000"/>
<circle cx="1023.1" cy="1112.0" r="13.6" fill="#000"/>
<rect x="1295.2" y="702.4" width="208.4" height="7.6" fill="#000"/>
<rect x="1503.6" y="702.4" width="284.8" height="7.6" fill="#b2b2b2"/>
<rect x="1295.2" y="1108.0" width="284.9" height="8.8" fill="#b2b2b2"/>
<rect x="1580.0" y="1108.0" width="208.3" height="8.8" fill="#000"/>
<path d="M1289.0,838.9 L1290.5,838.9 L1292.0,838.9 L1293.5,839.0 L1295.0,839.0 L1296.5,839.0 L1298.0,839.0 L1299.5,839.1 L1301.0,839.1 L1302.5,839.2 L1304.0,839.2 L1305.5,839.2 L1307.0,839.3 L1308.5,839.3 L1310.0,839.4 L1311.5,839.4 L1313.0,839.4 L1314.6,839.5 L1316.1,839.5 L1317.6,839.6 L1319.1,839.6 L1320.6,839.7 L1322.1,839.7 L1323.6,839.8 L1325.1,839.8 L1326.6,839.8 L1328.1,839.9 L1329.6,839.9 L1331.1,840.0 L1332.6,840.0 L1334.1,840.1 L1335.6,840.1 L1337.1,840.2 L1338.6,840.2 L1340.1,840.2 L1341.6,840.3 L1343.1,840.3 L1344.6,840.4 L1346.1,840.4 L1347.6,840.5 L1349.1,840.5 L1350.6,840.5 L1352.1,840.6 L1353.6,840.6 L1355.1,840.7 L1356.6,840.7 L1358.1,840.7 L1359.6,840.8 L1361.1,840.8 L1362.6,840.9 L1364.1,840.9 L1365.7,840.9 L1367.2,841.0 L1368.7,841.0 L1370.2,841.0 L1371.7,841.1 L1373.2,841.1 L1374.7,841.2 L1376.2,841.2 L1377.7,841.2 L1379.2,841.2 L1380.7,841.3 L1382.2,841.3 L1383.7,841.3 L1385.2,841.4 L1386.7,841.4 L1388.2,841.4 L1389.7,841.4 L1391.2,841.5 L1392.7,841.5 L1394.2,841.5 L1395.7,841.6 L1397.2,841.6 L1398.7,841.6 L1400.2,841.6 L1401.7,841.6 L1403.2,841.7 L1404.7,841.7 L1406.2,841.7 L1407.7,841.7 L1409.2,841.8 L1410.7,841.8 L1412.3,841.8 L1413.8,841.8 L1415.3,841.8 L1416.8,841.9 L1418.3,841.9 L1419.8,841.9 L1421.3,841.9 L1422.8,842.0 L1424.3,842.0 L1425.8,842.0 L1427.3,842.0 L1428.8,842.0 L1430.3,842.1 L1431.8,842.1 L1433.3,842.1 L1434.8,842.1 L1436.3,842.1 L1437.8,842.2 L1439.3,842.2 L1440.8,842.2 L1442.3,842.2 L1443.8,842.2 L1445.3,842.3 L1446.8,842.3 L1448.3,842.3 L1449.8,842.3 L1451.3,842.3 L1452.8,842.4 L1454.3,842.4 L1455.9,842.4 L1457.4,842.4 L1458.9,842.4 L1460.4,842.5 L1461.9,842.5 L1463.4,842.5 L1464.9,842.5 L1466.4,842.6 L1467.9,842.6 L1469.4,842.6 L1470.9,842.6 L1472.4,842.7 L1473.9,842.7 L1475.4,842.7 L1476.9,842.7 L1478.4,842.8 L1479.9,842.8 L1481.4,842.8 L1482.9,842.8 L1484.4,842.9 L1485.9,842.9 L1487.4,842.9 L1488.9,842.9 L1490.4,843.0 L1491.9,843.0 L1493.4,843.0 L1494.9,843.0 L1496.4,843.0 L1497.9,843.1 L1499.4,843.1 L1501.0,843.1 L1502.5,843.1 L1504.0,843.1 L1505.5,843.2 L1507.0,843.2 L1508.5,843.2 L1510.0,843.2 L1511.5,843.2 L1513.0,843.3 L1514.5,843.3 L1516.0,843.3 L1517.5,843.3 L1519.0,843.3 L1520.5,843.4 L1522.0,843.4 L1523.5,843.4 L1525.0,843.5 L1526.5,843.5 L1528.0,843.5 L1529.5,843.6 L1531.0,843.6 L1532.5,843.7 L1534.0,843.8 L1535.5,843.8 L1537.0,843.9 L1538.5,844.0 L1540.0,844.1 L1541.5,844.2 L1543.0,844.3 L1544.5,844.4 L1546.0,844.6 L1547.5,844.8 L1549.0,845.0 L1550.5,845.2 L1552.0,845.4 L1553.5,845.7 L1554.9,845.9 L1556.4,846.2 L1557.9,846.4" fill="none" stroke="#b2b2b2" stroke-width="8.0" stroke-linejoin="round" stroke-linecap="round" clip-path="url(#c12)"/>
<path d="M1525.9,971.3 L1527.4,971.5 L1528.9,971.6 L1530.4,971.8 L1531.9,971.9 L1533.4,972.1 L1534.9,972.2 L1536.4,972.4 L1537.9,972.5 L1539.4,972.6 L1540.9,972.7 L1542.4,972.8 L1543.9,972.9 L1545.4,973.0 L1546.9,973.1 L1548.4,973.2 L1549.9,973.3 L1551.4,973.4 L1552.9,973.4 L1554.4,973.5 L1555.9,973.6 L1557.4,973.6 L1558.9,973.7 L1560.4,973.7 L1561.9,973.8 L1563.4,973.9 L1564.9,973.9 L1566.4,974.0 L1567.9,974.0 L1569.4,974.1 L1570.9,974.1 L1572.4,974.2 L1573.9,974.2 L1575.4,974.2 L1576.9,974.3 L1578.4,974.3 L1579.9,974.4 L1581.4,974.4 L1583.0,974.5 L1584.5,974.5 L1586.0,974.6 L1587.5,974.6 L1589.0,974.6 L1590.5,974.7 L1592.0,974.7 L1593.5,974.8 L1595.0,974.8 L1596.5,974.8 L1598.0,974.9 L1599.5,974.9 L1601.0,975.0 L1602.5,975.0 L1604.0,975.0 L1605.5,975.1 L1607.0,975.1 L1608.5,975.2 L1610.0,975.2 L1611.5,975.2 L1613.0,975.3 L1614.5,975.3 L1616.0,975.3 L1617.5,975.4 L1619.0,975.4 L1620.5,975.5 L1622.1,975.5 L1623.6,975.5 L1625.1,975.5 L1626.6,975.6 L1628.1,975.6 L1629.6,975.6 L1631.1,975.7 L1632.6,975.7 L1634.1,975.7 L1635.6,975.7 L1637.1,975.8 L1638.6,975.8 L1640.1,975.8 L1641.6,975.9 L1643.1,975.9 L1644.6,975.9 L1646.1,975.9 L1647.6,976.0 L1649.1,976.0 L1650.6,976.0 L1652.1,976.0 L1653.6,976.0 L1655.1,976.1 L1656.6,976.1 L1658.1,976.1 L1659.7,976.1 L1661.2,976.2 L1662.7,976.2 L1664.2,976.2 L1665.7,976.2 L1667.2,976.3 L1668.7,976.3 L1670.2,976.3 L1671.7,976.3 L1673.2,976.4 L1674.7,976.4 L1676.2,976.4 L1677.7,976.4 L1679.2,976.5 L1680.7,976.5 L1682.2,976.5 L1683.7,976.5 L1685.2,976.6 L1686.7,976.6 L1688.2,976.6 L1689.7,976.7 L1691.2,976.7 L1692.7,976.7 L1694.2,976.7 L1695.7,976.8 L1697.3,976.8 L1698.8,976.8 L1700.3,976.9 L1701.8,976.9 L1703.3,976.9 L1704.8,977.0 L1706.3,977.0 L1707.8,977.0 L1709.3,977.1 L1710.8,977.1 L1712.3,977.1 L1713.8,977.2 L1715.3,977.2 L1716.8,977.3 L1718.3,977.3 L1719.8,977.3 L1721.3,977.4 L1722.8,977.4 L1724.3,977.4 L1725.8,977.5 L1727.3,977.5 L1728.8,977.5 L1730.3,977.6 L1731.8,977.6 L1733.3,977.7 L1734.8,977.7 L1736.4,977.7 L1737.9,977.8 L1739.4,977.8 L1740.9,977.8 L1742.4,977.9 L1743.9,977.9 L1745.4,978.0 L1746.9,978.0 L1748.4,978.0 L1749.9,978.1 L1751.4,978.1 L1752.9,978.1 L1754.4,978.2 L1755.9,978.2 L1757.4,978.3 L1758.9,978.3 L1760.4,978.3 L1761.9,978.4 L1763.4,978.4 L1764.9,978.4 L1766.4,978.5 L1767.9,978.5 L1769.4,978.6 L1770.9,978.6 L1772.4,978.6 L1773.9,978.7 L1775.5,978.7 L1777.0,978.7 L1778.5,978.8 L1780.0,978.8 L1781.5,978.9 L1783.0,978.9 L1784.5,978.9 L1786.0,979.0 L1787.5,979.0 L1789.0,979.1 L1790.5,979.1 L1792.0,979.1 L1793.5,979.2 L1795.0,979.2" fill="none" stroke="#b2b2b2" stroke-width="8.0" stroke-linejoin="round" stroke-linecap="round" clip-path="url(#c12)"/>
<path d="M1503.6,706.0 L1503.8,707.5 L1504.0,709.0 L1504.2,710.5 L1504.3,712.0 L1504.5,713.5 L1504.7,714.9 L1505.0,716.4 L1505.2,717.9 L1505.5,719.4 L1505.7,720.9 L1506.1,722.3 L1506.4,723.8 L1506.8,725.2 L1507.2,726.7 L1507.6,728.1 L1508.0,729.6 L1508.5,731.0 L1509.0,732.4 L1509.4,733.8 L1509.9,735.3 L1510.5,736.7 L1511.0,738.1 L1511.5,739.5 L1512.1,740.9 L1512.6,742.3 L1513.2,743.7 L1513.8,745.0 L1514.4,746.4 L1515.1,747.8 L1515.7,749.1 L1516.4,750.4 L1517.2,751.7 L1517.9,753.0 L1518.7,754.3 L1519.5,755.6 L1520.3,756.8 L1521.2,758.0 L1522.1,759.3 L1523.0,760.5 L1523.8,761.7 L1524.8,762.9 L1525.7,764.1 L1526.6,765.3 L1527.5,766.4 L1528.5,767.6 L1529.4,768.8 L1530.4,769.9 L1531.3,771.1 L1532.3,772.2 L1533.3,773.4 L1534.2,774.5 L1535.2,775.7 L1536.1,776.9 L1537.1,778.0 L1538.0,779.2 L1539.0,780.4 L1539.9,781.6 L1540.8,782.8 L1541.7,784.0 L1542.6,785.2 L1543.4,786.4 L1544.3,787.7 L1545.1,788.9 L1545.9,790.2 L1546.7,791.5 L1547.4,792.8 L1548.1,794.1 L1548.8,795.4 L1549.5,796.7 L1550.2,798.1 L1550.8,799.5 L1551.4,800.8 L1552.0,802.2 L1552.5,803.6 L1553.1,805.0 L1553.6,806.4 L1554.1,807.8 L1554.6,809.2 L1555.0,810.7 L1555.4,812.1 L1555.8,813.6 L1556.2,815.0 L1556.6,816.5 L1556.9,818.0 L1557.1,819.4 L1557.4,820.9 L1557.6,822.4 L1557.8,823.9 L1558.0,825.4 L1558.1,826.9 L1558.2,828.4 L1558.3,829.9 L1558.4,831.4 L1558.4,832.9 L1558.4,834.4 L1558.4,835.9 L1558.3,837.4 L1558.3,838.9 L1558.2,840.4 L1558.2,841.9 L1558.1,843.4 L1558.0,844.9 L1557.9,846.4 L1557.8,847.9 L1557.7,849.4 L1557.6,850.9 L1557.5,852.4 L1557.3,853.8 L1557.2,855.3 L1557.1,856.8 L1556.9,858.3 L1556.8,859.8 L1556.6,861.3 L1556.4,862.8 L1556.2,864.3 L1556.0,865.8 L1555.8,867.3 L1555.5,868.8 L1555.3,870.2 L1555.0,871.7 L1554.7,873.2 L1554.3,874.6 L1554.0,876.1 L1553.7,877.6 L1553.3,879.0 L1552.9,880.5 L1552.5,881.9 L1552.1,883.4 L1551.7,884.8 L1551.3,886.3 L1550.8,887.7 L1550.4,889.1 L1549.9,890.6 L1549.5,892.0 L1549.0,893.4 L1548.5,894.8 L1548.1,896.3 L1547.6,897.7 L1547.1,899.1 L1546.6,900.5 L1546.1,901.9 L1545.6,903.4 L1545.1,904.8 L1544.6,906.2 L1544.0,907.6 L1543.5,909.0 L1543.0,910.4 L1542.4,911.8 L1541.9,913.2 L1541.3,914.6 L1540.7,916.0 L1540.2,917.4 L1539.6,918.8 L1539.0,920.1 L1538.5,921.5 L1537.9,922.9 L1537.3,924.3 L1536.8,925.7 L1536.2,927.1 L1535.7,928.5 L1535.1,929.9 L1534.6,931.3 L1534.1,932.7 L1533.5,934.1 L1533.0,935.5 L1532.5,936.9 L1531.9,938.3 L1531.4,939.8 L1530.9,941.2 L1530.4,942.6 L1529.9,944.0 L1529.4,945.4 L1529.0,946.8 L1528.6,948.3 L1528.2,949.7 L1527.8,951.2 L1527.4,952.6 L1527.1,954.1 L1526.9,955.6 L1526.7,957.1 L1526.5,958.6 L1526.3,960.0 L1526.2,961.5 L1526.2,963.0 L1526.1,964.5 L1526.0,966.0 L1526.0,967.5 L1525.9,969.0 L1525.9,970.5 L1525.8,972.0 L1525.8,973.5 L1525.7,975.0 L1525.6,976.5 L1525.5,978.0 L1525.4,979.5 L1525.4,981.0 L1525.3,982.5 L1525.3,984.0 L1525.2,985.5 L1525.3,987.0 L1525.3,988.5 L1525.4,990.0 L1525.5,991.5 L1525.6,993.0 L1525.8,994.5 L1526.0,996.0 L1526.2,997.5 L1526.5,999.0 L1526.8,1000.4 L1527.1,1001.9 L1527.4,1003.4 L1527.8,1004.8 L1528.2,1006.3 L1528.6,1007.7 L1529.0,1009.2 L1529.5,1010.6 L1530.0,1012.0 L1530.5,1013.4 L1531.0,1014.8 L1531.6,1016.2 L1532.2,1017.6 L1532.8,1018.9 L1533.5,1020.3 L1534.1,1021.6 L1534.8,1023.0 L1535.5,1024.3 L1536.3,1025.6 L1537.0,1026.9 L1537.8,1028.2 L1538.6,1029.5 L1539.4,1030.7 L1540.2,1032.0 L1541.0,1033.3 L1541.8,1034.5 L1542.7,1035.8 L1543.5,1037.0 L1544.4,1038.2 L1545.3,1039.4 L1546.2,1040.7 L1547.1,1041.9 L1548.0,1043.0 L1548.9,1044.2 L1549.9,1045.4 L1550.8,1046.5 L1551.8,1047.7 L1552.8,1048.8 L1553.8,1049.9 L1554.8,1051.1 L1555.8,1052.2 L1556.7,1053.3 L1557.7,1054.5 L1558.7,1055.6 L1559.6,1056.8 L1560.5,1058.0 L1561.5,1059.2 L1562.4,1060.4 L1563.3,1061.6 L1564.1,1062.8 L1565.0,1064.0 L1565.9,1065.2 L1566.7,1066.5 L1567.5,1067.7 L1568.4,1069.0 L1569.1,1070.3 L1569.9,1071.6 L1570.6,1072.9 L1571.3,1074.2 L1572.0,1075.6 L1572.6,1076.9 L1573.2,1078.3 L1573.7,1079.7 L1574.3,1081.1 L1574.7,1082.5 L1575.2,1083.9 L1575.6,1085.4 L1576.0,1086.8 L1576.4,1088.3 L1576.8,1089.7 L1577.1,1091.2 L1577.4,1092.7 L1577.7,1094.1 L1578.0,1095.6 L1578.3,1097.1 L1578.5,1098.6 L1578.7,1100.1 L1578.9,1101.5 L1579.1,1103.0 L1579.2,1104.5 L1579.4,1106.0 L1579.6,1107.5 L1579.7,1109.0 L1579.9,1110.5 L1580.0,1112.0" fill="none" stroke="#000" stroke-width="8.0" stroke-linejoin="round" stroke-linecap="round" clip-path="url(#c12)"/>
<path d="M1555.0,842.5 L1556.5,842.5 L1558.0,842.4 L1559.5,842.4 L1561.0,842.3 L1562.5,842.2 L1564.0,842.2 L1565.5,842.2 L1567.0,842.1 L1568.5,842.1 L1570.0,842.1 L1571.5,842.0 L1573.0,842.0 L1574.5,842.0 L1576.0,842.1 L1577.5,842.1 L1579.0,842.1 L1580.5,842.2 L1582.0,842.2 L1583.5,842.3 L1585.0,842.3 L1586.5,842.4 L1588.0,842.5 L1589.5,842.6 L1591.0,842.6 L1592.5,842.7 L1594.0,842.8 L1595.5,842.9 L1597.0,843.0 L1598.5,843.1 L1600.0,843.2 L1601.5,843.3 L1603.0,843.4 L1604.5,843.5 L1606.0,843.6 L1607.5,843.8 L1609.0,843.9 L1610.5,844.0 L1612.0,844.1 L1613.5,844.2 L1615.0,844.4 L1616.5,844.5 L1618.0,844.6 L1619.5,844.7 L1621.0,844.9 L1622.5,845.0 L1624.0,845.1 L1625.5,845.2 L1627.0,845.3 L1628.5,845.4 L1630.0,845.5 L1631.5,845.6 L1633.0,845.6 L1634.5,845.7 L1636.0,845.8 L1637.5,845.9 L1639.0,845.9 L1640.5,846.0 L1642.0,846.0 L1643.5,846.1 L1645.0,846.1 L1646.5,846.2 L1648.0,846.2 L1649.5,846.3 L1651.0,846.3 L1652.5,846.4 L1654.0,846.4 L1655.5,846.5 L1657.0,846.5 L1658.5,846.6 L1660.0,846.6 L1661.5,846.7 L1663.0,846.7 L1664.5,846.7 L1666.0,846.8 L1667.5,846.8 L1669.0,846.9 L1670.5,846.9 L1672.0,847.0 L1673.5,847.0 L1675.0,847.1 L1676.5,847.2 L1678.0,847.2 L1679.5,847.3 L1681.0,847.3 L1682.5,847.4 L1684.0,847.4 L1685.5,847.5 L1687.0,847.5 L1688.5,847.6 L1690.0,847.6 L1691.5,847.7 L1693.0,847.7 L1694.5,847.8 L1696.0,847.8 L1697.5,847.9 L1699.0,847.9 L1700.5,848.0 L1702.0,848.0 L1703.5,848.1 L1705.0,848.1 L1706.6,848.2 L1708.1,848.2 L1709.6,848.3 L1711.1,848.3 L1712.6,848.4 L1714.1,848.5 L1715.6,848.5 L1717.1,848.6 L1718.6,848.7 L1720.1,848.8 L1721.6,848.8 L1723.1,848.9 L1724.6,849.0 L1726.1,849.1 L1727.6,849.2 L1729.1,849.3 L1730.6,849.4 L1732.1,849.5 L1733.5,849.6 L1735.0,849.7 L1736.5,849.9 L1738.0,850.0 L1739.5,850.1 L1741.0,850.2 L1742.5,850.4 L1744.0,850.5 L1745.5,850.7 L1747.0,850.8 L1748.5,851.0 L1750.0,851.1 L1751.5,851.3 L1753.0,851.5 L1754.5,851.7 L1756.0,851.8 L1757.5,852.0 L1759.0,852.2 L1760.4,852.4 L1761.9,852.6 L1763.4,852.8 L1764.9,853.0 L1766.4,853.3 L1767.9,853.5 L1769.4,853.7 L1770.8,854.0 L1772.3,854.2 L1773.8,854.5 L1775.2,854.9 L1776.7,855.2 L1778.1,855.7 L1779.5,856.2 L1780.9,856.7 L1782.3,857.3 L1783.6,857.9 L1785.0,858.6 L1786.3,859.3 L1787.6,860.1 L1788.9,860.8 L1790.2,861.6 L1791.5,862.4 L1792.7,863.2 L1794.0,864.0" fill="none" stroke="#000" stroke-width="8.0" stroke-linejoin="round" stroke-linecap="round" clip-path="url(#c12)"/>
<path d="M1289.0,957.0 L1290.4,957.6 L1291.8,958.1 L1293.2,958.7 L1294.6,959.3 L1296.0,959.9 L1297.3,960.5 L1298.7,961.1 L1300.1,961.7 L1301.5,962.3 L1302.9,962.9 L1304.3,963.4 L1305.7,963.9 L1307.1,964.3 L1308.6,964.7 L1310.0,965.1 L1311.5,965.4 L1313.0,965.7 L1314.4,965.9 L1315.9,966.1 L1317.4,966.4 L1318.9,966.6 L1320.4,966.7 L1321.9,966.9 L1323.4,967.1 L1324.9,967.3 L1326.4,967.4 L1327.9,967.6 L1329.4,967.7 L1330.9,967.9 L1332.4,968.0 L1333.9,968.2 L1335.4,968.3 L1336.9,968.4 L1338.4,968.5 L1339.9,968.6 L1341.4,968.8 L1342.9,968.9 L1344.4,969.0 L1345.9,969.1 L1347.4,969.2 L1348.9,969.3 L1350.4,969.4 L1351.9,969.4 L1353.4,969.5 L1354.9,969.6 L1356.4,969.7 L1357.9,969.8 L1359.4,969.9 L1360.9,970.0 L1362.4,970.0 L1363.9,970.1 L1365.4,970.2 L1366.9,970.3 L1368.4,970.4 L1370.0,970.4 L1371.5,970.5 L1373.0,970.6 L1374.5,970.7 L1376.0,970.8 L1377.5,970.8 L1379.0,970.9 L1380.5,971.0 L1382.0,971.1 L1383.5,971.1 L1385.0,971.2 L1386.5,971.3 L1388.0,971.4 L1389.5,971.4 L1391.0,971.5 L1392.5,971.6 L1394.0,971.6 L1395.5,971.7 L1397.0,971.8 L1398.5,971.8 L1400.0,971.9 L1401.5,972.0 L1403.0,972.0 L1404.6,972.1 L1406.1,972.2 L1407.6,972.2 L1409.1,972.3 L1410.6,972.3 L1412.1,972.4 L1413.6,972.4 L1415.1,972.5 L1416.6,972.5 L1418.1,972.6 L1419.6,972.6 L1421.1,972.7 L1422.6,972.7 L1424.1,972.8 L1425.6,972.8 L1427.1,972.9 L1428.6,972.9 L1430.1,973.0 L1431.6,973.0 L1433.1,973.0 L1434.7,973.1 L1436.2,973.1 L1437.7,973.1 L1439.2,973.2 L1440.7,973.2 L1442.2,973.2 L1443.7,973.3 L1445.2,973.3 L1446.7,973.3 L1448.2,973.3 L1449.7,973.3 L1451.2,973.4 L1452.7,973.4 L1454.2,973.4 L1455.7,973.4 L1457.2,973.4 L1458.7,973.4 L1460.2,973.4 L1461.8,973.5 L1463.3,973.5 L1464.8,973.5 L1466.3,973.5 L1467.8,973.5 L1469.3,973.5 L1470.8,973.6 L1472.3,973.6 L1473.8,973.6 L1475.3,973.6 L1476.8,973.6 L1478.3,973.7 L1479.8,973.7 L1481.3,973.7 L1482.8,973.8 L1484.3,973.8 L1485.8,973.8 L1487.4,973.9 L1488.9,973.9 L1490.4,974.0 L1491.9,974.0 L1493.4,974.0 L1494.9,974.1 L1496.4,974.1 L1497.9,974.2 L1499.4,974.2 L1500.9,974.3 L1502.4,974.3 L1503.9,974.3 L1505.4,974.4 L1506.9,974.4 L1508.4,974.5 L1509.9,974.5 L1511.4,974.5 L1512.9,974.6 L1514.4,974.6 L1516.0,974.6 L1517.5,974.6 L1519.0,974.7 L1520.5,974.7 L1522.0,974.7 L1523.5,974.7 L1525.0,974.8 L1526.5,974.8 L1528.0,974.8" fill="none" stroke="#000" stroke-width="8.0" stroke-linejoin="round" stroke-linecap="round" clip-path="url(#c12)"/>
<circle cx="1503.6" cy="706.0" r="13.6" fill="#000"/>
<circle cx="1557.9" cy="846.4" r="13.6" fill="#000"/>
<circle cx="1525.9" cy="971.3" r="13.6" fill="#000"/>
<circle cx="1580.0" cy="1112.0" r="13.6" fill="#000"/>
<rect x="1847.2" y="702.4" width="205.4" height="7.6" fill="#000"/>
<rect x="2052.6" y="702.4" width="287.8" height="7.6" fill="#b2b2b2"/>
<rect x="1847.2" y="1108.0" width="288.0" height="8.8" fill="#b2b2b2"/>
<rect x="2135.2" y="1108.0" width="205.2" height="8.8" fill="#000"/>
<line x1="2098.7" y1="710" x2="2098.7" y2="1108" stroke="#000" stroke-width="1.7"/>
<path d="M2098.8,813.3 L2098.6,814.8 L2098.4,816.3 L2098.2,817.8 L2098.0,819.2 L2097.7,820.7 L2097.3,822.1 L2096.9,823.6 L2096.3,824.9 L2095.7,826.2 L2094.9,827.5 L2094.1,828.7 L2093.1,829.8 L2092.0,830.8 L2090.9,831.7 L2089.7,832.6 L2088.4,833.3 L2087.1,834.0 L2085.7,834.5 L2084.3,835.0 L2082.9,835.4 L2081.5,835.7 L2080.0,836.0 L2078.5,836.2 L2077.0,836.4 L2075.5,836.6 L2074.0,836.8 L2072.5,836.9 L2071.0,837.1 L2069.5,837.2 L2068.0,837.4 L2066.5,837.5 L2065.0,837.6 L2063.5,837.7 L2062.0,837.8 L2060.5,837.9 L2059.0,838.0 L2057.5,838.1 L2056.0,838.1 L2054.5,838.2 L2053.0,838.3 L2051.5,838.3 L2050.0,838.4 L2048.5,838.4 L2047.0,838.5 L2045.5,838.5 L2044.0,838.6 L2042.5,838.6 L2041.0,838.7 L2039.5,838.7 L2038.0,838.8 L2036.5,838.8 L2035.0,838.9 L2033.5,838.9 L2032.0,839.0 L2030.5,839.0 L2029.0,839.1 L2027.5,839.1 L2026.0,839.2 L2024.5,839.2 L2023.0,839.3 L2021.5,839.3 L2020.0,839.4 L2018.4,839.4 L2016.9,839.4 L2015.4,839.5 L2013.9,839.5 L2012.4,839.6 L2010.9,839.6 L2009.4,839.6 L2007.9,839.7 L2006.4,839.7 L2004.9,839.7 L2003.4,839.7 L2001.9,839.8 L2000.4,839.8 L1998.9,839.8 L1997.4,839.8 L1995.9,839.9 L1994.4,839.9 L1992.9,839.9 L1991.4,839.9 L1989.9,839.9 L1988.4,840.0 L1986.9,840.0 L1985.4,840.0 L1983.9,840.0 L1982.4,840.0 L1980.9,840.0 L1979.3,840.0 L1977.8,840.1 L1976.3,840.1 L1974.8,840.1 L1973.3,840.1 L1971.8,840.1 L1970.3,840.1 L1968.8,840.1 L1967.3,840.1 L1965.8,840.1 L1964.3,840.1 L1962.8,840.1 L1961.3,840.2 L1959.8,840.2 L1958.3,840.2 L1956.8,840.2 L1955.3,840.2 L1953.8,840.2 L1952.3,840.2 L1950.8,840.2 L1949.3,840.2 L1947.8,840.2 L1946.3,840.2 L1944.8,840.2 L1943.2,840.2 L1941.7,840.2 L1940.2,840.1 L1938.7,840.1 L1937.2,840.1 L1935.7,840.1 L1934.2,840.1 L1932.7,840.1 L1931.2,840.1 L1929.7,840.1 L1928.2,840.1 L1926.7,840.0 L1925.2,840.0 L1923.7,840.0 L1922.2,840.0 L1920.7,840.0 L1919.2,839.9 L1917.7,839.9 L1916.2,839.9 L1914.7,839.9 L1913.2,839.9 L1911.7,839.8 L1910.2,839.8 L1908.7,839.8 L1907.2,839.7 L1905.6,839.7 L1904.1,839.7 L1902.6,839.6 L1901.1,839.6 L1899.6,839.6 L1898.1,839.5 L1896.6,839.5 L1895.1,839.5 L1893.6,839.4 L1892.1,839.4 L1890.6,839.4 L1889.1,839.3 L1887.6,839.3 L1886.1,839.2 L1884.6,839.2 L1883.1,839.2 L1881.6,839.1 L1880.1,839.1 L1878.6,839.0 L1877.1,839.0 L1875.6,838.9 L1874.1,838.9 L1872.6,838.8 L1871.1,838.8 L1869.6,838.7 L1868.1,838.7 L1866.6,838.6 L1865.1,838.5 L1863.6,838.5 L1862.0,838.4 L1860.5,838.4 L1859.0,838.3 L1857.5,838.2 L1856.0,838.2 L1854.5,838.1 L1853.0,838.1 L1851.5,838.0 L1850.0,838.0 L1848.5,837.9 L1847.0,837.9 L1845.5,837.9 L1844.0,837.8 L1842.5,837.8 L1841.0,837.8" fill="none" stroke="#b2b2b2" stroke-width="8.0" stroke-linejoin="round" stroke-linecap="round" clip-path="url(#c13)"/>
<path d="M2089.2,1004.0 L2089.4,1002.5 L2089.7,1001.0 L2089.9,999.5 L2090.2,998.1 L2090.4,996.6 L2090.7,995.1 L2091.1,993.7 L2091.6,992.3 L2092.1,991.0 L2092.9,989.7 L2093.7,988.6 L2094.7,987.6 L2095.8,986.6 L2097.0,985.8 L2098.3,985.1 L2099.6,984.5 L2101.0,983.9 L2102.4,983.3 L2103.8,982.8 L2105.2,982.3 L2106.7,981.9 L2108.1,981.4 L2109.6,981.1 L2111.0,980.8 L2112.5,980.5 L2114.0,980.2 L2115.5,980.0 L2117.0,979.9 L2118.5,979.7 L2120.0,979.6 L2121.5,979.5 L2123.0,979.4 L2124.5,979.3 L2126.0,979.2 L2127.5,979.1 L2129.0,979.0 L2130.5,978.9 L2132.0,978.8 L2133.5,978.7 L2135.0,978.6 L2136.5,978.5 L2138.0,978.5 L2139.5,978.4 L2141.0,978.3 L2142.5,978.2 L2144.1,978.2 L2145.6,978.1 L2147.1,978.1 L2148.6,978.0 L2150.1,978.0 L2151.6,977.9 L2153.1,977.9 L2154.6,977.9 L2156.1,977.8 L2157.6,977.8 L2159.1,977.8 L2160.6,977.8 L2162.1,977.8 L2163.6,977.7 L2165.1,977.7 L2166.7,977.7 L2168.2,977.7 L2169.7,977.7 L2171.2,977.7 L2172.7,977.7 L2174.2,977.7 L2175.7,977.6 L2177.2,977.6 L2178.7,977.6 L2180.2,977.6 L2181.7,977.6 L2183.2,977.6 L2184.7,977.6 L2186.3,977.6 L2187.8,977.6 L2189.3,977.6 L2190.8,977.6 L2192.3,977.6 L2193.8,977.6 L2195.3,977.6 L2196.8,977.6 L2198.3,977.6 L2199.8,977.6 L2201.3,977.6 L2202.8,977.6 L2204.3,977.6 L2205.8,977.6 L2207.4,977.6 L2208.9,977.6 L2210.4,977.6 L2211.9,977.6 L2213.4,977.6 L2214.9,977.6 L2216.4,977.7 L2217.9,977.7 L2219.4,977.7 L2220.9,977.7 L2222.4,977.7 L2223.9,977.7 L2225.4,977.7 L2226.9,977.7 L2228.5,977.7 L2230.0,977.8 L2231.5,977.8 L2233.0,977.8 L2234.5,977.8 L2236.0,977.8 L2237.5,977.8 L2239.0,977.9 L2240.5,977.9 L2242.0,977.9 L2243.5,977.9 L2245.0,977.9 L2246.5,978.0 L2248.0,978.0 L2249.6,978.0 L2251.1,978.0 L2252.6,978.0 L2254.1,978.1 L2255.6,978.1 L2257.1,978.1 L2258.6,978.1 L2260.1,978.2 L2261.6,978.2 L2263.1,978.2 L2264.6,978.2 L2266.1,978.3 L2267.6,978.3 L2269.1,978.3 L2270.7,978.4 L2272.2,978.4 L2273.7,978.4 L2275.2,978.5 L2276.7,978.5 L2278.2,978.5 L2279.7,978.6 L2281.2,978.6 L2282.7,978.6 L2284.2,978.7 L2285.7,978.7 L2287.2,978.8 L2288.7,978.8 L2290.2,978.8 L2291.7,978.9 L2293.3,978.9 L2294.8,978.9 L2296.3,979.0 L2297.8,979.0 L2299.3,979.0 L2300.8,979.1 L2302.3,979.1 L2303.8,979.1 L2305.3,979.1 L2306.8,979.2 L2308.3,979.2 L2309.8,979.2 L2311.3,979.3 L2312.8,979.3 L2314.4,979.3 L2315.9,979.3 L2317.4,979.4 L2318.9,979.4 L2320.4,979.4 L2321.9,979.4 L2323.4,979.5 L2324.9,979.5 L2326.4,979.5 L2327.9,979.5 L2329.4,979.6 L2330.9,979.6 L2332.4,979.6 L2333.9,979.6 L2335.5,979.7 L2337.0,979.7 L2338.5,979.7 L2340.0,979.7 L2341.5,979.7 L2343.0,979.8 L2344.5,979.8 L2346.0,979.8" fill="none" stroke="#b2b2b2" stroke-width="8.0" stroke-linejoin="round" stroke-linecap="round" clip-path="url(#c13)"/>
<path d="M2052.6,706.3 L2052.7,707.8 L2052.8,709.3 L2052.9,710.8 L2053.0,712.3 L2053.2,713.8 L2053.3,715.3 L2053.5,716.8 L2053.7,718.3 L2053.9,719.8 L2054.2,721.3 L2054.5,722.7 L2054.8,724.2 L2055.2,725.6 L2055.6,727.1 L2056.1,728.5 L2056.6,729.9 L2057.1,731.4 L2057.6,732.8 L2058.1,734.2 L2058.7,735.6 L2059.2,737.0 L2059.8,738.4 L2060.4,739.7 L2061.1,741.1 L2061.7,742.5 L2062.4,743.8 L2063.1,745.1 L2063.8,746.4 L2064.6,747.7 L2065.4,749.0 L2066.2,750.3 L2067.0,751.6 L2067.8,752.8 L2068.7,754.0 L2069.6,755.3 L2070.4,756.5 L2071.3,757.7 L2072.2,758.9 L2073.1,760.2 L2074.0,761.4 L2074.9,762.6 L2075.8,763.8 L2076.7,765.0 L2077.6,766.2 L2078.5,767.4 L2079.4,768.6 L2080.3,769.8 L2081.2,771.0 L2082.0,772.3 L2082.9,773.5 L2083.8,774.7 L2084.6,776.0 L2085.5,777.2 L2086.3,778.4 L2087.2,779.7 L2088.0,781.0 L2088.8,782.2 L2089.6,783.5 L2090.4,784.8 L2091.2,786.1 L2091.9,787.4 L2092.6,788.7 L2093.3,790.0 L2094.0,791.4 L2094.6,792.8 L2095.1,794.1 L2095.6,795.6 L2096.0,797.0 L2096.4,798.5 L2096.7,799.9 L2097.0,801.4 L2097.3,802.9 L2097.5,804.4 L2097.7,805.8 L2097.9,807.3 L2098.2,808.8 L2098.4,810.3 L2098.6,811.8 L2098.8,813.3" fill="none" stroke="#000" stroke-width="8.0" stroke-linejoin="round" stroke-linecap="round" clip-path="url(#c13)"/>
<path d="M1841.0,959.0 L1842.5,959.2 L1844.0,959.4 L1845.5,959.6 L1846.9,959.8 L1848.4,960.1 L1849.9,960.4 L1851.4,960.7 L1852.8,961.1 L1854.3,961.4 L1855.7,961.8 L1857.2,962.2 L1858.6,962.5 L1860.1,962.8 L1861.6,963.2 L1863.1,963.4 L1864.5,963.7 L1866.0,963.9 L1867.5,964.2 L1869.0,964.4 L1870.5,964.6 L1872.0,964.8 L1873.5,965.0 L1874.9,965.1 L1876.4,965.3 L1877.9,965.5 L1879.4,965.6 L1880.9,965.8 L1882.4,965.9 L1883.9,966.1 L1885.4,966.2 L1886.9,966.4 L1888.4,966.5 L1889.9,966.6 L1891.4,966.7 L1892.9,966.8 L1894.4,967.0 L1895.9,967.1 L1897.4,967.2 L1898.9,967.3 L1900.4,967.4 L1901.9,967.5 L1903.4,967.6 L1904.9,967.6 L1906.4,967.7 L1907.9,967.8 L1909.4,967.9 L1910.9,967.9 L1912.4,968.0 L1913.9,968.1 L1915.4,968.1 L1916.9,968.2 L1918.4,968.3 L1919.9,968.3 L1921.4,968.4 L1922.9,968.4 L1924.4,968.5 L1925.9,968.5 L1927.4,968.6 L1928.9,968.6 L1930.4,968.7 L1931.9,968.7 L1933.4,968.7 L1934.9,968.8 L1936.4,968.8 L1937.9,968.8 L1939.4,968.8 L1940.9,968.9 L1942.4,968.9 L1944.0,968.9 L1945.5,968.9 L1947.0,968.9 L1948.5,968.9 L1950.0,968.9 L1951.5,968.9 L1953.0,969.0 L1954.5,969.0 L1956.0,969.0 L1957.5,969.0 L1959.0,969.0 L1960.5,969.0 L1962.0,969.0 L1963.5,968.9 L1965.0,968.9 L1966.5,968.9 L1968.0,968.9 L1969.5,968.9 L1971.0,968.9 L1972.5,968.9 L1974.0,968.9 L1975.5,968.9 L1977.0,968.9 L1978.5,968.9 L1980.0,968.9 L1981.5,968.8 L1983.0,968.8 L1984.5,968.8 L1986.0,968.8 L1987.5,968.8 L1989.0,968.8 L1990.5,968.8 L1992.0,968.7 L1993.5,968.7 L1995.0,968.7 L1996.6,968.7 L1998.1,968.7 L1999.6,968.7 L2001.1,968.7 L2002.6,968.7 L2004.1,968.7 L2005.6,968.6 L2007.1,968.6 L2008.6,968.6 L2010.1,968.6 L2011.6,968.6 L2013.1,968.6 L2014.6,968.6 L2016.1,968.5 L2017.6,968.5 L2019.1,968.5 L2020.6,968.5 L2022.1,968.4 L2023.6,968.4 L2025.1,968.3 L2026.6,968.2 L2028.1,968.1 L2029.6,968.0 L2031.1,967.9 L2032.6,967.8 L2034.1,967.6 L2035.6,967.5 L2037.1,967.3 L2038.6,967.1 L2040.1,966.9 L2041.5,966.7 L2043.0,966.5 L2044.5,966.3 L2046.0,966.1 L2047.5,965.8 L2049.0,965.6 L2050.4,965.3 L2051.9,965.0 L2053.4,964.7 L2054.8,964.3 L2056.2,963.8 L2057.6,963.3 L2059.0,962.7 L2060.4,962.1 L2061.7,961.4 L2063.0,960.7 L2064.2,959.8 L2065.4,958.9 L2066.5,958.0 L2067.6,956.9 L2068.6,955.8 L2069.5,954.7 L2070.5,953.5 L2071.4,952.3 L2072.2,951.1 L2073.1,949.9 L2073.9,948.6 L2074.7,947.4 L2075.5,946.1 L2076.3,944.8 L2077.1,943.5 L2077.9,942.2 L2078.6,940.9 L2079.3,939.6 L2080.1,938.3 L2080.8,937.0 L2081.5,935.6 L2082.2,934.3 L2082.9,933.0 L2083.6,931.6 L2084.2,930.3 L2084.9,928.9 L2085.6,927.6 L2086.2,926.3 L2086.9,924.9 L2087.6,923.6 L2088.2,922.2 L2088.9,920.9 L2089.6,919.5 L2090.3,918.2 L2090.9,916.8 L2091.6,915.5 L2092.3,914.1 L2092.9,912.8 L2093.6,911.5 L2094.3,910.1 L2095.0,908.8 L2095.6,907.4 L2096.3,906.1 L2097.0,904.7 L2097.7,903.4 L2098.3,902.1 L2099.0,900.7 L2099.7,899.4 L2100.4,898.0 L2101.0,896.7 L2101.7,895.3 L2102.4,894.0 L2103.0,892.6 L2103.7,891.3 L2104.3,889.9 L2105.0,888.6 L2105.6,887.2 L2106.3,885.9 L2106.9,884.5 L2107.5,883.1 L2108.1,881.8 L2108.8,880.4 L2109.4,879.0 L2110.1,877.7 L2110.7,876.3 L2111.4,875.0 L2112.1,873.6 L2112.8,872.3 L2113.5,871.0 L2114.2,869.7 L2114.9,868.4 L2115.7,867.1 L2116.5,865.8 L2117.3,864.6 L2118.2,863.4 L2119.1,862.2 L2120.1,861.1 L2121.2,860.0 L2122.3,859.0 L2123.4,858.0 L2124.6,857.1 L2125.8,856.3 L2127.1,855.5 L2128.3,854.7 L2129.7,854.0 L2131.0,853.4 L2132.4,852.8 L2133.8,852.2 L2135.2,851.7 L2136.6,851.3 L2138.1,850.9 L2139.5,850.5 L2141.0,850.2 L2142.5,849.9 L2143.9,849.7 L2145.4,849.4 L2146.9,849.2 L2148.4,849.0 L2149.9,848.9 L2151.4,848.7 L2152.9,848.6 L2154.4,848.4 L2155.9,848.3 L2157.4,848.2 L2158.9,848.1 L2160.4,848.1 L2161.9,848.0 L2163.4,848.0 L2164.9,848.0 L2166.4,848.0 L2167.9,848.0 L2169.4,848.0 L2170.9,848.0 L2172.4,848.0 L2173.9,848.0 L2175.4,848.0 L2176.9,848.1 L2178.4,848.1 L2179.9,848.1 L2181.4,848.2 L2182.9,848.2 L2184.4,848.2 L2185.9,848.3 L2187.4,848.3 L2188.9,848.3 L2190.4,848.4 L2191.9,848.4 L2193.4,848.4 L2194.9,848.4 L2196.4,848.5 L2197.9,848.5 L2199.4,848.5 L2200.9,848.5 L2202.4,848.5 L2203.9,848.5 L2205.4,848.5 L2207.0,848.5 L2208.5,848.5 L2210.0,848.5 L2211.5,848.5 L2213.0,848.5 L2214.5,848.5 L2216.0,848.5 L2217.5,848.5 L2219.0,848.5 L2220.5,848.5 L2222.0,848.5 L2223.5,848.6 L2225.0,848.6 L2226.5,848.6 L2228.0,848.6 L2229.5,848.6 L2231.0,848.6 L2232.5,848.6 L2234.0,848.6 L2235.5,848.6 L2237.0,848.6 L2238.5,848.6 L2240.0,848.7 L2241.5,848.7 L2243.0,848.7 L2244.5,848.7 L2246.0,848.8 L2247.5,848.8 L2249.0,848.8 L2250.5,848.8 L2252.0,848.9 L2253.5,848.9 L2255.0,849.0 L2256.5,849.0 L2258.0,849.1 L2259.5,849.1 L2261.0,849.2 L2262.6,849.2 L2264.1,849.3 L2265.6,849.3 L2267.1,849.4 L2268.6,849.4 L2270.1,849.5 L2271.6,849.5 L2273.1,849.6 L2274.6,849.7 L2276.1,849.7 L2277.6,849.8 L2279.1,849.9 L2280.6,850.0 L2282.1,850.0 L2283.6,850.1 L2285.1,850.2 L2286.6,850.3 L2288.1,850.4 L2289.6,850.5 L2291.1,850.6 L2292.6,850.7 L2294.1,850.8 L2295.6,850.9 L2297.1,851.0 L2298.6,851.1 L2300.1,851.3 L2301.6,851.4 L2303.1,851.5 L2304.6,851.7 L2306.0,851.8 L2307.5,852.0 L2309.0,852.1 L2310.5,852.3 L2312.0,852.4 L2313.5,852.6 L2315.0,852.8 L2316.5,853.0 L2318.0,853.2 L2319.5,853.4 L2321.0,853.6 L2322.4,853.9 L2323.9,854.2 L2325.4,854.5 L2326.8,854.8 L2328.3,855.2 L2329.7,855.7 L2331.1,856.2 L2332.5,856.7 L2333.9,857.3 L2335.2,858.0 L2336.5,858.7 L2337.8,859.5 L2339.1,860.3 L2340.3,861.2 L2341.5,862.1 L2342.6,863.0 L2343.7,864.0 L2344.9,865.0 L2346.0,866.0" fill="none" stroke="#000" stroke-width="8.0" stroke-linejoin="round" stroke-linecap="round" clip-path="url(#c13)"/>
<path d="M2089.2,1004.0 L2089.4,1005.5 L2089.6,1007.0 L2089.7,1008.5 L2089.9,1010.0 L2090.1,1011.5 L2090.3,1013.0 L2090.5,1014.5 L2090.8,1016.0 L2091.1,1017.4 L2091.4,1018.9 L2091.8,1020.4 L2092.2,1021.8 L2092.6,1023.2 L2093.1,1024.6 L2093.7,1026.1 L2094.3,1027.4 L2094.9,1028.8 L2095.5,1030.2 L2096.2,1031.5 L2097.0,1032.8 L2097.8,1034.1 L2098.6,1035.4 L2099.4,1036.6 L2100.2,1037.9 L2101.1,1039.1 L2102.0,1040.3 L2102.9,1041.5 L2103.9,1042.7 L2104.8,1043.8 L2105.8,1045.0 L2106.8,1046.1 L2107.8,1047.3 L2108.8,1048.4 L2109.7,1049.5 L2110.7,1050.7 L2111.7,1051.8 L2112.7,1053.0 L2113.7,1054.1 L2114.6,1055.3 L2115.6,1056.5 L2116.5,1057.7 L2117.4,1058.8 L2118.3,1060.0 L2119.2,1061.3 L2120.1,1062.5 L2120.9,1063.8 L2121.7,1065.0 L2122.5,1066.3 L2123.2,1067.6 L2124.0,1068.9 L2124.7,1070.3 L2125.4,1071.6 L2126.0,1073.0 L2126.7,1074.3 L2127.3,1075.7 L2127.9,1077.1 L2128.6,1078.4 L2129.2,1079.8 L2129.7,1081.2 L2130.3,1082.6 L2130.9,1084.0 L2131.4,1085.4 L2131.9,1086.8 L2132.4,1088.3 L2132.9,1089.7 L2133.3,1091.1 L2133.7,1092.6 L2134.1,1094.0 L2134.4,1095.5 L2134.7,1097.0 L2134.9,1098.5 L2135.1,1100.0 L2135.2,1101.5 L2135.3,1103.0 L2135.3,1104.5 L2135.3,1106.0 L2135.3,1107.5 L2135.3,1109.0 L2135.2,1110.5 L2135.2,1112.0" fill="none" stroke="#000" stroke-width="8.0" stroke-linejoin="round" stroke-linecap="round" clip-path="url(#c13)"/>
<circle cx="2052.6" cy="706.3" r="13.6" fill="#000"/>
<circle cx="2098.8" cy="813.3" r="13.6" fill="#000"/>
<circle cx="2089.2" cy="1004.0" r="13.6" fill="#000"/>
<circle cx="2135.2" cy="1112.0" r="13.6" fill="#000"/>
<rect x="191.2" y="1260.4" width="240.7" height="7.6" fill="#000"/>
<rect x="431.8" y="1260.4" width="252.5" height="7.6" fill="#b2b2b2"/>
<rect x="191.2" y="1666.0" width="86.3" height="8.8" fill="#000"/>
<rect x="277.5" y="1666.0" width="406.9" height="8.8" fill="#b2b2b2"/>
<path d="M570.4,1351.8 L569.8,1353.2 L569.3,1354.6 L568.7,1356.0 L568.2,1357.4 L567.6,1358.8 L567.0,1360.1 L566.3,1361.5 L565.6,1362.8 L564.9,1364.1 L564.0,1365.3 L563.2,1366.5 L562.2,1367.7 L561.3,1368.8 L560.2,1369.9 L559.2,1371.0 L558.1,1372.1 L557.0,1373.1 L555.9,1374.1 L554.7,1375.0 L553.6,1376.0 L552.4,1376.9 L551.2,1377.9 L550.0,1378.8 L548.8,1379.7 L547.6,1380.5 L546.4,1381.4 L545.1,1382.2 L543.8,1383.1 L542.6,1383.9 L541.3,1384.7 L540.0,1385.5 L538.7,1386.2 L537.4,1387.0 L536.1,1387.8 L534.8,1388.5 L533.5,1389.2 L532.2,1390.0 L530.9,1390.7 L529.6,1391.4 L528.2,1392.1 L526.9,1392.8 L525.5,1393.4 L524.2,1394.1 L522.8,1394.8 L521.5,1395.4 L520.1,1396.1 L518.8,1396.7 L517.4,1397.3 L516.0,1398.0 L514.7,1398.6 L513.3,1399.2 L511.9,1399.8 L510.5,1400.4 L509.2,1401.0 L507.8,1401.6 L506.4,1402.2 L505.0,1402.8 L503.6,1403.3 L502.2,1403.9 L500.8,1404.4 L499.4,1405.0 L498.0,1405.5 L496.6,1406.1 L495.2,1406.6 L493.8,1407.2 L492.4,1407.7 L491.0,1408.2 L489.6,1408.7 L488.1,1409.2 L486.7,1409.7 L485.3,1410.2 L483.9,1410.7 L482.5,1411.2 L481.0,1411.6 L479.6,1412.1 L478.2,1412.5 L476.7,1413.0 L475.3,1413.5 L473.9,1413.9 L472.4,1414.3 L471.0,1414.8 L469.5,1415.2 L468.1,1415.6 L466.7,1416.0 L465.2,1416.5 L463.8,1416.9 L462.3,1417.3 L460.9,1417.7 L459.4,1418.1 L458.0,1418.5 L456.5,1419.0 L455.1,1419.4 L453.7,1419.9 L452.2,1420.3 L450.8,1420.8 L449.4,1421.3 L447.9,1421.7 L446.5,1422.2 L445.1,1422.7 L443.7,1423.2 L442.2,1423.7 L440.8,1424.1 L439.4,1424.6 L438.0,1425.1 L436.5,1425.5 L435.1,1426.0 L433.7,1426.4 L432.2,1426.9 L430.8,1427.3 L429.3,1427.8 L427.9,1428.2 L426.5,1428.6 L425.0,1429.0 L423.6,1429.4 L422.1,1429.9 L420.7,1430.3 L419.2,1430.7 L417.8,1431.1 L416.3,1431.4 L414.9,1431.8 L413.4,1432.2 L412.0,1432.6 L410.5,1433.0 L409.0,1433.3 L407.6,1433.7 L406.1,1434.0 L404.6,1434.4 L403.2,1434.7 L401.7,1435.0 L400.2,1435.3 L398.8,1435.7 L397.3,1436.0 L395.8,1436.3 L394.3,1436.6 L392.9,1436.8 L391.4,1437.1 L389.9,1437.4 L388.4,1437.7 L387.0,1438.0 L385.5,1438.3 L384.0,1438.6 L382.5,1438.8 L381.1,1439.1 L379.6,1439.4 L378.1,1439.7 L376.6,1440.0 L375.1,1440.3 L373.7,1440.5 L372.2,1440.8 L370.7,1441.1 L369.2,1441.4 L367.8,1441.7 L366.3,1442.0 L364.8,1442.2 L363.3,1442.5 L361.8,1442.8 L360.4,1443.0 L358.9,1443.3 L357.4,1443.5 L355.9,1443.8 L354.4,1444.0 L352.9,1444.3 L351.5,1444.5 L350.0,1444.7 L348.5,1444.9 L347.0,1445.1 L345.5,1445.4 L344.0,1445.6 L342.5,1445.8 L341.0,1446.0 L339.5,1446.2 L338.1,1446.4 L336.6,1446.6 L335.1,1446.8 L333.6,1446.9 L332.1,1447.1 L330.6,1447.3 L329.1,1447.5 L327.6,1447.7 L326.1,1447.9 L324.6,1448.0 L323.1,1448.2 L321.6,1448.3 L320.1,1448.5 L318.6,1448.6 L317.1,1448.8 L315.6,1448.9 L314.1,1449.0 L312.6,1449.2 L311.1,1449.3 L309.6,1449.4 L308.1,1449.5 L306.6,1449.6 L305.1,1449.7 L303.6,1449.8 L302.1,1449.9 L300.6,1450.0 L299.1,1450.0 L297.6,1450.1 L296.1,1450.2 L294.6,1450.3 L293.1,1450.4 L291.6,1450.5 L290.1,1450.6 L288.6,1450.6 L287.1,1450.7 L285.6,1450.8 L284.1,1450.9 L282.6,1451.0 L281.1,1451.1 L279.6,1451.1 L278.1,1451.2 L276.6,1451.3 L275.1,1451.4 L273.6,1451.5 L272.1,1451.6 L270.6,1451.6 L269.1,1451.7 L267.6,1451.8 L266.1,1451.9 L264.6,1452.0 L263.1,1452.1 L261.6,1452.1 L260.1,1452.2 L258.6,1452.3 L257.1,1452.4 L255.6,1452.5 L254.1,1452.6 L252.6,1452.6 L251.1,1452.7 L249.6,1452.8 L248.1,1452.9 L246.6,1453.0 L245.1,1453.0 L243.6,1453.1 L242.1,1453.2 L240.6,1453.3 L239.1,1453.4 L237.6,1453.5 L236.1,1453.5 L234.5,1453.6 L233.0,1453.7 L231.5,1453.8 L230.0,1453.9 L228.5,1454.0 L227.0,1454.1 L225.5,1454.2 L224.0,1454.3 L222.5,1454.4 L221.0,1454.4 L219.5,1454.5 L218.0,1454.6 L216.5,1454.7 L215.0,1454.8 L213.5,1454.9 L212.0,1455.0 L210.5,1455.1 L209.0,1455.2 L207.5,1455.3 L206.0,1455.4 L204.5,1455.5 L203.0,1455.6 L201.5,1455.7 L200.0,1455.8 L198.5,1455.9 L197.0,1456.0 L195.5,1456.1 L194.0,1456.1 L192.5,1456.2 L191.0,1456.3 L189.5,1456.4 L188.0,1456.5 L186.5,1456.5 L185.0,1456.6" fill="none" stroke="#b2b2b2" stroke-width="8.0" stroke-linejoin="round" stroke-linecap="round" clip-path="url(#c20)"/>
<path d="M431.8,1264.2 L432.5,1265.6 L433.1,1266.9 L433.8,1268.3 L434.4,1269.6 L435.1,1271.0 L435.8,1272.3 L436.5,1273.6 L437.2,1274.9 L438.0,1276.2 L438.9,1277.4 L439.7,1278.6 L440.7,1279.8 L441.6,1280.9 L442.7,1282.0 L443.7,1283.1 L444.8,1284.1 L445.9,1285.2 L447.1,1286.1 L448.2,1287.1 L449.4,1288.0 L450.6,1289.0 L451.8,1289.9 L453.0,1290.7 L454.2,1291.6 L455.4,1292.5 L456.7,1293.3 L458.0,1294.1 L459.2,1295.0 L460.5,1295.8 L461.8,1296.5 L463.1,1297.3 L464.4,1298.0 L465.7,1298.8 L467.0,1299.5 L468.3,1300.2 L469.7,1300.9 L471.0,1301.6 L472.4,1302.3 L473.7,1302.9 L475.0,1303.6 L476.4,1304.3 L477.8,1304.9 L479.1,1305.6 L480.5,1306.2 L481.9,1306.8 L483.2,1307.4 L484.6,1308.0 L486.0,1308.6 L487.4,1309.1 L488.8,1309.7 L490.2,1310.3 L491.6,1310.8 L493.0,1311.4 L494.4,1311.9 L495.8,1312.4 L497.2,1313.0 L498.6,1313.5 L500.0,1314.0 L501.4,1314.5 L502.9,1315.1 L504.3,1315.6 L505.7,1316.1 L507.1,1316.6 L508.5,1317.1 L509.9,1317.6 L511.4,1318.1 L512.8,1318.6 L514.2,1319.1 L515.6,1319.6 L517.1,1320.0 L518.5,1320.5 L519.9,1321.0 L521.3,1321.5 L522.8,1322.0 L524.2,1322.5 L525.6,1323.0 L527.0,1323.4 L528.5,1323.9 L529.9,1324.4 L531.3,1324.9 L532.7,1325.3 L534.2,1325.8 L535.6,1326.3 L537.0,1326.7 L538.5,1327.2 L539.9,1327.7 L541.3,1328.2 L542.7,1328.7 L544.1,1329.3 L545.5,1329.8 L546.9,1330.4 L548.3,1331.0 L549.7,1331.6 L551.0,1332.2 L552.4,1332.8 L553.8,1333.4 L555.1,1334.1 L556.4,1334.8 L557.7,1335.6 L559.0,1336.4 L560.2,1337.3 L561.3,1338.2 L562.4,1339.2 L563.4,1340.3 L564.3,1341.5 L565.2,1342.7 L566.0,1343.9 L566.8,1345.2 L567.5,1346.5 L568.2,1347.8 L569.0,1349.2 L569.7,1350.5 L570.4,1351.8" fill="none" stroke="#000" stroke-width="8.0" stroke-linejoin="round" stroke-linecap="round" clip-path="url(#c20)"/>
<path d="M277.5,1670.5 L278.2,1669.2 L278.9,1667.8 L279.5,1666.5 L280.2,1665.2 L280.9,1663.8 L281.7,1662.5 L282.4,1661.2 L283.2,1660.0 L284.1,1658.8 L285.0,1657.6 L285.9,1656.4 L286.9,1655.3 L287.9,1654.1 L288.9,1653.1 L290.0,1652.0 L291.1,1651.0 L292.2,1650.0 L293.3,1649.0 L294.4,1648.0 L295.6,1647.0 L296.7,1646.1 L297.9,1645.1 L299.1,1644.2 L300.3,1643.3 L301.5,1642.4 L302.7,1641.6 L304.0,1640.7 L305.2,1639.9 L306.5,1639.1 L307.7,1638.3 L309.0,1637.5 L310.3,1636.7 L311.6,1635.9 L312.9,1635.1 L314.2,1634.4 L315.5,1633.6 L316.8,1632.9 L318.1,1632.1 L319.4,1631.4 L320.7,1630.7 L322.0,1630.0 L323.4,1629.3 L324.7,1628.6 L326.0,1627.9 L327.4,1627.3 L328.7,1626.6 L330.1,1626.0 L331.5,1625.3 L332.8,1624.7 L334.2,1624.1 L335.6,1623.5 L337.0,1622.9 L338.3,1622.4 L339.7,1621.8 L341.1,1621.3 L342.6,1620.8 L344.0,1620.3 L345.4,1619.8 L346.8,1619.3 L348.2,1618.9 L349.7,1618.4 L351.1,1618.0 L352.6,1617.6 L354.0,1617.1 L355.4,1616.7 L356.9,1616.3 L358.3,1615.9 L359.8,1615.5 L361.2,1615.1 L362.7,1614.7 L364.1,1614.3 L365.5,1613.8 L367.0,1613.4 L368.4,1613.0 L369.9,1612.6 L371.3,1612.2 L372.8,1611.8 L374.2,1611.4 L375.6,1611.0 L377.1,1610.5 L378.5,1610.1 L380.0,1609.7 L381.4,1609.3 L382.9,1608.9 L384.3,1608.5 L385.8,1608.1 L387.2,1607.7 L388.6,1607.3 L390.1,1606.9 L391.5,1606.5 L393.0,1606.1 L394.4,1605.7 L395.9,1605.3 L397.3,1604.9 L398.8,1604.5 L400.2,1604.0 L401.6,1603.6 L403.1,1603.2 L404.5,1602.8 L406.0,1602.4 L407.4,1601.9 L408.8,1601.5 L410.3,1601.1 L411.7,1600.6 L413.2,1600.2 L414.6,1599.8 L416.0,1599.3 L417.5,1598.9 L418.9,1598.4 L420.3,1598.0 L421.7,1597.5 L423.2,1597.0 L424.6,1596.6 L426.0,1596.1 L427.5,1595.6 L428.9,1595.2 L430.3,1594.7 L431.7,1594.2 L433.1,1593.7 L434.6,1593.2 L436.0,1592.7 L437.4,1592.3 L438.8,1591.8 L440.2,1591.3 L441.6,1590.8 L443.1,1590.3 L444.5,1589.7 L445.9,1589.2 L447.3,1588.7 L448.7,1588.2 L450.1,1587.7 L451.5,1587.1 L452.9,1586.6 L454.3,1586.0 L455.7,1585.5 L457.1,1584.9 L458.5,1584.3 L459.8,1583.7 L461.2,1583.1 L462.6,1582.5 L464.0,1581.9 L465.3,1581.3 L466.7,1580.7 L468.0,1580.0 L469.4,1579.4 L470.7,1578.7 L472.1,1578.0 L473.4,1577.3 L474.7,1576.6 L476.1,1575.9 L477.4,1575.2 L478.7,1574.5 L480.0,1573.7 L481.3,1572.9 L482.5,1572.1 L483.8,1571.3 L485.0,1570.5 L486.2,1569.6 L487.4,1568.6 L488.5,1567.6 L489.6,1566.6 L490.6,1565.6 L491.6,1564.5 L492.6,1563.3 L493.6,1562.2 L494.5,1561.0 L495.3,1559.7 L496.2,1558.5 L497.0,1557.3 L497.8,1556.0 L498.5,1554.7 L499.2,1553.3 L499.9,1552.0 L500.5,1550.7 L501.1,1549.3 L501.7,1547.9 L502.2,1546.5 L502.7,1545.1 L503.1,1543.6 L503.6,1542.2 L504.0,1540.8 L504.4,1539.3 L504.8,1537.9 L505.2,1536.4 L505.5,1535.0 L505.9,1533.5 L506.3,1532.1 L506.7,1530.6 L507.0,1529.2 L507.4,1527.7 L507.8,1526.2 L508.2,1524.8 L508.6,1523.4 L509.1,1522.0 L509.6,1520.6 L510.2,1519.2 L510.8,1517.8 L511.5,1516.5 L512.3,1515.2 L513.1,1514.0 L514.0,1512.8 L514.9,1511.6 L515.9,1510.5 L516.9,1509.4 L518.0,1508.4 L519.1,1507.4 L520.2,1506.4 L521.4,1505.5 L522.6,1504.6 L523.8,1503.8 L525.1,1502.9 L526.4,1502.2 L527.7,1501.4 L529.0,1500.7 L530.3,1500.0 L531.7,1499.3 L533.0,1498.7 L534.4,1498.1 L535.8,1497.5 L537.2,1497.0 L538.6,1496.5 L540.0,1496.0 L541.4,1495.5 L542.8,1495.0 L544.3,1494.6 L545.7,1494.2 L547.2,1493.7 L548.6,1493.4 L550.1,1493.0 L551.5,1492.6 L553.0,1492.3 L554.4,1492.0 L555.9,1491.7 L557.4,1491.4 L558.9,1491.1 L560.3,1490.8 L561.8,1490.5 L563.3,1490.2 L564.7,1489.9 L566.2,1489.6 L567.7,1489.3 L569.2,1489.0 L570.6,1488.7 L572.1,1488.4 L573.6,1488.1 L575.0,1487.9 L576.5,1487.6 L578.0,1487.3 L579.5,1487.0 L580.9,1486.7 L582.4,1486.5 L583.9,1486.2 L585.4,1485.9 L586.9,1485.7 L588.3,1485.4 L589.8,1485.2 L591.3,1485.0 L592.8,1484.8 L594.3,1484.5 L595.8,1484.3 L597.2,1484.1 L598.7,1483.9 L600.2,1483.7 L601.7,1483.5 L603.2,1483.3 L604.7,1483.1 L606.2,1483.0 L607.7,1482.8 L609.2,1482.6 L610.6,1482.4 L612.1,1482.3 L613.6,1482.1 L615.1,1481.9 L616.6,1481.8 L618.1,1481.6 L619.6,1481.5 L621.1,1481.3 L622.6,1481.2 L624.1,1481.0 L625.6,1480.9 L627.1,1480.8 L628.6,1480.6 L630.1,1480.5 L631.6,1480.4 L633.0,1480.2 L634.5,1480.1 L636.0,1480.0 L637.5,1479.9 L639.0,1479.8 L640.5,1479.6 L642.0,1479.5 L643.5,1479.4 L645.0,1479.3 L646.5,1479.2 L648.0,1479.1 L649.5,1479.1 L651.0,1479.0 L652.5,1478.9 L654.0,1478.8 L655.5,1478.7 L657.0,1478.6 L658.5,1478.6 L660.0,1478.5 L661.5,1478.4 L663.0,1478.3 L664.5,1478.2 L666.0,1478.2 L667.5,1478.1 L669.0,1478.0 L670.5,1478.0 L672.0,1477.9 L673.5,1477.8 L675.0,1477.8 L676.5,1477.7 L678.0,1477.6 L679.5,1477.6 L681.0,1477.5 L682.5,1477.4 L684.0,1477.4 L685.5,1477.3 L687.0,1477.3 L688.5,1477.2 L690.0,1477.2" fill="none" stroke="#000" stroke-width="8.0" stroke-linejoin="round" stroke-linecap="round" clip-path="url(#c20)"/>
<circle cx="431.8" cy="1264.2" r="13.6" fill="#000"/>
<circle cx="570.4" cy="1351.8" r="13.6" fill="#000"/>
<circle cx="277.5" cy="1670.5" r="13.6" fill="#000"/>
<rect x="743.1" y="1260.4" width="164.3" height="7.6" fill="#000"/>
<rect x="907.5" y="1260.4" width="328.9" height="7.6" fill="#b2b2b2"/>
<rect x="743.1" y="1666.0" width="161.6" height="8.8" fill="#000"/>
<rect x="904.8" y="1666.0" width="331.6" height="8.8" fill="#b2b2b2"/>
<path d="M1081.2,1365.8 L1080.9,1367.3 L1080.5,1368.7 L1080.2,1370.2 L1079.9,1371.7 L1079.6,1373.1 L1079.2,1374.6 L1078.9,1376.1 L1078.5,1377.5 L1078.1,1378.9 L1077.6,1380.4 L1077.1,1381.8 L1076.5,1383.2 L1075.9,1384.5 L1075.2,1385.8 L1074.5,1387.1 L1073.7,1388.4 L1072.9,1389.7 L1072.0,1390.9 L1071.1,1392.1 L1070.2,1393.3 L1069.2,1394.5 L1068.3,1395.6 L1067.3,1396.8 L1066.3,1397.9 L1065.3,1399.0 L1064.3,1400.1 L1063.2,1401.2 L1062.2,1402.3 L1061.1,1403.3 L1060.0,1404.4 L1059.0,1405.4 L1057.9,1406.5 L1056.8,1407.5 L1055.7,1408.5 L1054.6,1409.5 L1053.5,1410.5 L1052.3,1411.5 L1051.2,1412.5 L1050.1,1413.5 L1048.9,1414.5 L1047.8,1415.4 L1046.6,1416.4 L1045.4,1417.3 L1044.3,1418.3 L1043.1,1419.2 L1041.9,1420.1 L1040.7,1421.1 L1039.5,1422.0 L1038.3,1422.9 L1037.1,1423.8 L1036.0,1424.7 L1034.8,1425.7 L1033.6,1426.6 L1032.4,1427.5 L1031.3,1428.5 L1030.1,1429.4 L1028.9,1430.4 L1027.7,1431.3 L1026.6,1432.2 L1025.4,1433.2 L1024.2,1434.1 L1023.1,1435.1 L1021.9,1436.1 L1020.8,1437.1 L1019.7,1438.1 L1018.6,1439.1 L1017.5,1440.1 L1016.4,1441.2 L1015.4,1442.3 L1014.4,1443.4 L1013.4,1444.5 L1012.4,1445.7 L1011.4,1446.8 L1010.4,1447.9 L1009.4,1449.0 L1008.4,1450.1 L1007.3,1451.2 L1006.2,1452.2 L1005.1,1453.2 L1004.0,1454.1 L1002.8,1455.1 L1001.6,1456.0 L1000.4,1456.8 L999.1,1457.6 L997.8,1458.3 L996.5,1459.0 L995.1,1459.6 L993.7,1460.2 L992.3,1460.7 L990.9,1461.1 L989.4,1461.5 L988.0,1461.8 L986.5,1462.1 L985.0,1462.3 L983.5,1462.5 L982.0,1462.6 L980.5,1462.8 L979.0,1462.9 L977.5,1463.0 L976.0,1463.1 L974.5,1463.2 L973.0,1463.3 L971.5,1463.4 L970.0,1463.5 L968.5,1463.6 L967.0,1463.6 L965.5,1463.7 L964.0,1463.8 L962.5,1463.8 L961.0,1463.9 L959.5,1464.0 L958.0,1464.0 L956.5,1464.0 L955.0,1464.1 L953.5,1464.1 L952.0,1464.1 L950.5,1464.1 L949.0,1464.1 L947.5,1464.2 L946.0,1464.2 L944.5,1464.2 L943.0,1464.2 L941.5,1464.2 L940.0,1464.2 L938.5,1464.2 L937.0,1464.2 L935.5,1464.2 L934.0,1464.2 L932.5,1464.2 L931.0,1464.2 L929.5,1464.2 L928.0,1464.2 L926.4,1464.2 L924.9,1464.2 L923.4,1464.2 L921.9,1464.2 L920.4,1464.2 L918.9,1464.2 L917.4,1464.2 L915.9,1464.2 L914.4,1464.2 L912.9,1464.2 L911.4,1464.2 L909.9,1464.2 L908.4,1464.2 L906.9,1464.2 L905.4,1464.2 L903.9,1464.2 L902.4,1464.2 L900.9,1464.2 L899.4,1464.2 L897.9,1464.2 L896.4,1464.2 L894.9,1464.2 L893.4,1464.2 L891.9,1464.2 L890.4,1464.2 L888.9,1464.2 L887.4,1464.2 L885.9,1464.2 L884.3,1464.2 L882.8,1464.2 L881.3,1464.2 L879.8,1464.2 L878.3,1464.2 L876.8,1464.2 L875.3,1464.2 L873.8,1464.2 L872.3,1464.2 L870.8,1464.2 L869.3,1464.2 L867.8,1464.2 L866.3,1464.2 L864.8,1464.2 L863.3,1464.2 L861.8,1464.2 L860.3,1464.2 L858.8,1464.2 L857.3,1464.2 L855.8,1464.2 L854.3,1464.2 L852.8,1464.2 L851.3,1464.2 L849.8,1464.2 L848.3,1464.2 L846.8,1464.3 L845.3,1464.3 L843.8,1464.3 L842.2,1464.3 L840.7,1464.3 L839.2,1464.3 L837.7,1464.3 L836.2,1464.3 L834.7,1464.3 L833.2,1464.3 L831.7,1464.3 L830.2,1464.3 L828.7,1464.3 L827.2,1464.3 L825.7,1464.3 L824.2,1464.3 L822.7,1464.3 L821.2,1464.3 L819.7,1464.3 L818.2,1464.3 L816.7,1464.3 L815.2,1464.3 L813.7,1464.3 L812.2,1464.3 L810.7,1464.3 L809.2,1464.3 L807.7,1464.3 L806.2,1464.3 L804.7,1464.3 L803.2,1464.3 L801.7,1464.3 L800.1,1464.3 L798.6,1464.3 L797.1,1464.3 L795.6,1464.3 L794.1,1464.3 L792.6,1464.3 L791.1,1464.3 L789.6,1464.3 L788.1,1464.3 L786.6,1464.3 L785.1,1464.3 L783.6,1464.3 L782.1,1464.3 L780.6,1464.4 L779.1,1464.4 L777.6,1464.4 L776.1,1464.4 L774.6,1464.4 L773.1,1464.4 L771.6,1464.4 L770.1,1464.4 L768.6,1464.4 L767.1,1464.4 L765.6,1464.4 L764.1,1464.4 L762.6,1464.4 L761.1,1464.4 L759.6,1464.4 L758.0,1464.4 L756.5,1464.4 L755.0,1464.4 L753.5,1464.4 L752.0,1464.4 L750.5,1464.4 L749.0,1464.4 L747.5,1464.4 L746.0,1464.4 L744.5,1464.4 L743.0,1464.4 L741.5,1464.4 L740.0,1464.4 L738.5,1464.4 L737.0,1464.4" fill="none" stroke="#b2b2b2" stroke-width="8.0" stroke-linejoin="round" stroke-linecap="round" clip-path="url(#c21)"/>
<path d="M1015.3,1479.4 L1015.8,1480.8 L1016.3,1482.2 L1016.8,1483.7 L1017.3,1485.1 L1017.8,1486.5 L1018.3,1487.9 L1018.8,1489.3 L1019.4,1490.7 L1020.0,1492.0 L1020.7,1493.4 L1021.4,1494.7 L1022.2,1495.9 L1023.1,1497.1 L1024.0,1498.3 L1024.9,1499.5 L1025.9,1500.6 L1026.9,1501.7 L1028.0,1502.8 L1029.0,1503.9 L1030.1,1505.0 L1031.1,1506.0 L1032.2,1507.1 L1033.2,1508.2 L1034.3,1509.2 L1035.3,1510.3 L1036.4,1511.4 L1037.4,1512.5 L1038.5,1513.5 L1039.5,1514.6 L1040.6,1515.6 L1041.7,1516.7 L1042.8,1517.8 L1043.8,1518.8 L1044.9,1519.8 L1046.0,1520.9 L1047.1,1521.9 L1048.2,1523.0 L1049.3,1524.0 L1050.4,1525.0 L1051.5,1526.0 L1052.6,1527.0 L1053.7,1528.1 L1054.8,1529.1 L1055.9,1530.1 L1057.0,1531.1 L1058.1,1532.1 L1059.2,1533.2 L1060.3,1534.2 L1061.4,1535.2 L1062.4,1536.3 L1063.5,1537.4 L1064.5,1538.4 L1065.6,1539.5 L1066.6,1540.6 L1067.6,1541.7 L1068.6,1542.8 L1069.6,1543.9 L1070.6,1545.1 L1071.5,1546.3 L1072.5,1547.4 L1073.4,1548.6 L1074.2,1549.8 L1075.1,1551.1 L1075.9,1552.3 L1076.6,1553.6 L1077.3,1554.9 L1077.8,1556.3 L1078.3,1557.7 L1078.6,1559.1 L1078.8,1560.6 L1078.9,1562.0 L1079.0,1563.5 L1078.9,1565.0 L1078.9,1566.5" fill="none" stroke="#b2b2b2" stroke-width="8.0" stroke-linejoin="round" stroke-linecap="round" clip-path="url(#c21)"/>
<path d="M907.5,1264.1 L908.2,1265.4 L908.9,1266.7 L909.7,1268.0 L910.4,1269.4 L911.1,1270.7 L911.9,1272.0 L912.6,1273.3 L913.4,1274.5 L914.3,1275.8 L915.1,1277.0 L916.0,1278.2 L917.0,1279.3 L918.0,1280.4 L919.0,1281.5 L920.1,1282.6 L921.2,1283.6 L922.3,1284.6 L923.4,1285.6 L924.6,1286.6 L925.7,1287.5 L926.9,1288.4 L928.1,1289.3 L929.3,1290.2 L930.5,1291.1 L931.8,1291.9 L933.0,1292.8 L934.3,1293.6 L935.5,1294.4 L936.8,1295.2 L938.1,1296.0 L939.4,1296.7 L940.7,1297.5 L942.0,1298.2 L943.3,1299.0 L944.6,1299.7 L945.9,1300.4 L947.2,1301.1 L948.6,1301.8 L949.9,1302.5 L951.2,1303.2 L952.6,1303.8 L953.9,1304.5 L955.3,1305.1 L956.7,1305.8 L958.0,1306.4 L959.4,1307.0 L960.8,1307.6 L962.1,1308.2 L963.5,1308.8 L964.9,1309.4 L966.3,1310.0 L967.7,1310.6 L969.0,1311.1 L970.4,1311.7 L971.8,1312.3 L973.2,1312.8 L974.6,1313.4 L976.0,1313.9 L977.4,1314.5 L978.8,1315.0 L980.2,1315.6 L981.6,1316.1 L983.0,1316.6 L984.4,1317.1 L985.8,1317.6 L987.3,1318.1 L988.7,1318.6 L990.1,1319.1 L991.5,1319.6 L992.9,1320.0 L994.4,1320.5 L995.8,1321.0 L997.2,1321.4 L998.7,1321.9 L1000.1,1322.3 L1001.5,1322.8 L1003.0,1323.2 L1004.4,1323.6 L1005.8,1324.0 L1007.3,1324.4 L1008.7,1324.8 L1010.2,1325.2 L1011.6,1325.6 L1013.1,1326.0 L1014.5,1326.3 L1016.0,1326.7 L1017.4,1327.1 L1018.9,1327.5 L1020.3,1327.9 L1021.8,1328.3 L1023.2,1328.7 L1024.7,1329.1 L1026.1,1329.5 L1027.6,1329.9 L1029.0,1330.4 L1030.4,1330.8 L1031.9,1331.2 L1033.3,1331.6 L1034.8,1332.0 L1036.2,1332.5 L1037.6,1332.9 L1039.1,1333.3 L1040.5,1333.8 L1041.9,1334.3 L1043.4,1334.7 L1044.8,1335.2 L1046.2,1335.7 L1047.6,1336.3 L1049.0,1336.8 L1050.4,1337.4 L1051.7,1338.0 L1053.1,1338.6 L1054.5,1339.2 L1055.8,1339.8 L1057.2,1340.5 L1058.5,1341.1 L1059.9,1341.8 L1061.2,1342.5 L1062.5,1343.3 L1063.8,1344.0 L1065.1,1344.8 L1066.3,1345.6 L1067.5,1346.5 L1068.7,1347.4 L1069.8,1348.4 L1070.9,1349.4 L1071.9,1350.5 L1072.9,1351.6 L1073.8,1352.8 L1074.7,1354.0 L1075.5,1355.3 L1076.2,1356.5 L1077.0,1357.9 L1077.7,1359.2 L1078.4,1360.5 L1079.1,1361.8 L1079.8,1363.1 L1080.5,1364.5 L1081.2,1365.8" fill="none" stroke="#000" stroke-width="8.0" stroke-linejoin="round" stroke-linecap="round" clip-path="url(#c21)"/>
<path d="M1015.3,1479.4 L1016.4,1478.4 L1017.5,1477.3 L1018.6,1476.3 L1019.7,1475.3 L1020.8,1474.2 L1021.9,1473.3 L1023.1,1472.4 L1024.3,1471.6 L1025.6,1470.8 L1026.9,1470.2 L1028.3,1469.8 L1029.7,1469.4 L1031.2,1469.2 L1032.6,1469.0 L1034.1,1469.0 L1035.6,1468.9 L1037.1,1468.9 L1038.6,1468.9 L1040.1,1468.9 L1041.6,1468.9 L1043.2,1468.9 L1044.7,1468.9 L1046.2,1468.9 L1047.7,1468.9 L1049.2,1469.0 L1050.7,1469.0 L1052.2,1469.0 L1053.7,1469.1 L1055.2,1469.1 L1056.7,1469.1 L1058.2,1469.1 L1059.7,1469.2 L1061.2,1469.2 L1062.7,1469.2 L1064.2,1469.2 L1065.7,1469.2 L1067.3,1469.2 L1068.8,1469.2 L1070.3,1469.2 L1071.8,1469.2 L1073.3,1469.2 L1074.8,1469.2 L1076.3,1469.2 L1077.8,1469.2 L1079.3,1469.2 L1080.8,1469.2 L1082.3,1469.2 L1083.8,1469.2 L1085.3,1469.2 L1086.8,1469.2 L1088.3,1469.2 L1089.9,1469.2 L1091.4,1469.2 L1092.9,1469.2 L1094.4,1469.2 L1095.9,1469.2 L1097.4,1469.2 L1098.9,1469.2 L1100.4,1469.2 L1101.9,1469.2 L1103.4,1469.2 L1104.9,1469.2 L1106.4,1469.2 L1107.9,1469.2 L1109.4,1469.2 L1110.9,1469.2 L1112.4,1469.2 L1114.0,1469.2 L1115.5,1469.2 L1117.0,1469.2 L1118.5,1469.2 L1120.0,1469.2 L1121.5,1469.2 L1123.0,1469.2 L1124.5,1469.2 L1126.0,1469.2 L1127.5,1469.2 L1129.0,1469.2 L1130.5,1469.2 L1132.0,1469.2 L1133.5,1469.2 L1135.0,1469.2 L1136.6,1469.2 L1138.1,1469.2 L1139.6,1469.2 L1141.1,1469.2 L1142.6,1469.2 L1144.1,1469.2 L1145.6,1469.2 L1147.1,1469.2 L1148.6,1469.2 L1150.1,1469.2 L1151.6,1469.2 L1153.1,1469.2 L1154.6,1469.2 L1156.1,1469.2 L1157.6,1469.2 L1159.1,1469.2 L1160.7,1469.2 L1162.2,1469.2 L1163.7,1469.2 L1165.2,1469.2 L1166.7,1469.2 L1168.2,1469.2 L1169.7,1469.2 L1171.2,1469.2 L1172.7,1469.2 L1174.2,1469.2 L1175.7,1469.2 L1177.2,1469.2 L1178.7,1469.2 L1180.2,1469.2 L1181.7,1469.2 L1183.2,1469.2 L1184.8,1469.2 L1186.3,1469.2 L1187.8,1469.2 L1189.3,1469.2 L1190.8,1469.2 L1192.3,1469.2 L1193.8,1469.2 L1195.3,1469.2 L1196.8,1469.2 L1198.3,1469.2 L1199.8,1469.2 L1201.3,1469.2 L1202.8,1469.2 L1204.3,1469.2 L1205.8,1469.2 L1207.4,1469.2 L1208.9,1469.2 L1210.4,1469.2 L1211.9,1469.2 L1213.4,1469.2 L1214.9,1469.2 L1216.4,1469.2 L1217.9,1469.2 L1219.4,1469.2 L1220.9,1469.2 L1222.4,1469.2 L1223.9,1469.2 L1225.4,1469.2 L1226.9,1469.2 L1228.4,1469.2 L1229.9,1469.2 L1231.5,1469.2 L1233.0,1469.2 L1234.5,1469.2 L1236.0,1469.2 L1237.5,1469.2 L1239.0,1469.2 L1240.5,1469.2 L1242.0,1469.2" fill="none" stroke="#000" stroke-width="8.0" stroke-linejoin="round" stroke-linecap="round" clip-path="url(#c21)"/>
<path d="M1078.9,1566.5 L1078.3,1567.9 L1077.7,1569.3 L1077.1,1570.6 L1076.4,1572.0 L1075.8,1573.3 L1075.0,1574.6 L1074.3,1575.9 L1073.4,1577.2 L1072.5,1578.3 L1071.5,1579.5 L1070.5,1580.6 L1069.4,1581.6 L1068.3,1582.6 L1067.2,1583.6 L1066.0,1584.5 L1064.8,1585.4 L1063.6,1586.3 L1062.3,1587.1 L1061.0,1587.9 L1059.7,1588.7 L1058.4,1589.4 L1057.1,1590.1 L1055.7,1590.8 L1054.4,1591.4 L1053.0,1592.0 L1051.6,1592.6 L1050.2,1593.2 L1048.8,1593.8 L1047.4,1594.3 L1046.0,1594.9 L1044.6,1595.4 L1043.2,1595.9 L1041.8,1596.4 L1040.3,1596.9 L1038.9,1597.4 L1037.5,1597.9 L1036.0,1598.4 L1034.6,1598.8 L1033.2,1599.3 L1031.7,1599.7 L1030.3,1600.1 L1028.8,1600.6 L1027.4,1601.0 L1025.9,1601.4 L1024.5,1601.8 L1023.0,1602.2 L1021.6,1602.6 L1020.1,1603.1 L1018.7,1603.5 L1017.2,1603.9 L1015.8,1604.4 L1014.3,1604.8 L1012.9,1605.3 L1011.5,1605.7 L1010.0,1606.2 L1008.6,1606.7 L1007.2,1607.1 L1005.7,1607.6 L1004.3,1608.1 L1002.9,1608.5 L1001.4,1609.0 L1000.0,1609.5 L998.6,1610.0 L997.1,1610.5 L995.7,1611.0 L994.3,1611.5 L992.9,1612.0 L991.5,1612.5 L990.0,1613.0 L988.6,1613.5 L987.2,1614.1 L985.8,1614.6 L984.4,1615.1 L983.0,1615.7 L981.6,1616.2 L980.2,1616.8 L978.8,1617.3 L977.4,1617.9 L976.0,1618.4 L974.5,1619.0 L973.1,1619.5 L971.8,1620.1 L970.4,1620.7 L969.0,1621.3 L967.6,1621.8 L966.2,1622.4 L964.8,1623.0 L963.4,1623.6 L962.0,1624.2 L960.7,1624.9 L959.3,1625.5 L957.9,1626.1 L956.5,1626.7 L955.2,1627.4 L953.8,1628.0 L952.4,1628.6 L951.1,1629.3 L949.7,1630.0 L948.4,1630.6 L947.0,1631.3 L945.7,1632.0 L944.3,1632.7 L943.0,1633.4 L941.7,1634.1 L940.3,1634.8 L939.0,1635.6 L937.7,1636.3 L936.4,1637.1 L935.1,1637.9 L933.9,1638.7 L932.6,1639.5 L931.3,1640.3 L930.1,1641.2 L928.8,1642.0 L927.6,1642.9 L926.4,1643.8 L925.2,1644.7 L924.0,1645.6 L922.8,1646.5 L921.6,1647.4 L920.4,1648.4 L919.3,1649.4 L918.2,1650.4 L917.0,1651.4 L916.0,1652.4 L914.9,1653.5 L913.9,1654.6 L912.9,1655.7 L912.0,1656.9 L911.1,1658.1 L910.2,1659.4 L909.4,1660.6 L908.7,1662.0 L908.0,1663.3 L907.3,1664.6 L906.7,1666.0 L906.1,1667.4 L905.4,1668.7 L904.8,1670.1" fill="none" stroke="#000" stroke-width="8.0" stroke-linejoin="round" stroke-linecap="round" clip-path="url(#c21)"/>
<circle cx="907.5" cy="1264.1" r="13.6" fill="#000"/>
<circle cx="1081.2" cy="1365.8" r="13.6" fill="#000"/>
<circle cx="1015.3" cy="1479.4" r="13.6" fill="#000"/>
<circle cx="1078.9" cy="1566.5" r="13.6" fill="#000"/>
<circle cx="904.8" cy="1670.1" r="13.6" fill="#000"/>
<line x1="1019.4" y1="1507.1" x2="1019.4" y2="1571" stroke="#000" stroke-width="3.6"/>
<polygon points="1001.5,1569.1 1037.4,1569.1 1019.4,1599.8" fill="#000"/>
<line x1="1078.3" y1="1538.9" x2="1078.3" y2="1503.6" stroke="#000" stroke-width="3.6"/>
<polygon points="1060.9,1505.6 1096.8,1505.6 1078.5,1474.8" fill="#000"/>
<rect x="1295.2" y="1260.4" width="162.3" height="7.6" fill="#000"/>
<rect x="1457.5" y="1260.4" width="330.9" height="7.6" fill="#b2b2b2"/>
<rect x="1295.2" y="1666.0" width="162.8" height="8.8" fill="#000"/>
<rect x="1458.0" y="1666.0" width="330.4" height="8.8" fill="#b2b2b2"/>
<rect x="1296.0" y="1462.7" width="263.9" height="8.2" fill="#b2b2b2"/>
<rect x="1559.9" y="1462.7" width="227.6" height="8.2" fill="#000"/>
<path d="M1631.9,1366.5 L1631.5,1367.9 L1631.1,1369.4 L1630.7,1370.8 L1630.3,1372.3 L1629.9,1373.7 L1629.5,1375.2 L1629.0,1376.6 L1628.6,1378.0 L1628.1,1379.4 L1627.5,1380.8 L1627.0,1382.2 L1626.3,1383.6 L1625.7,1384.9 L1625.0,1386.2 L1624.2,1387.5 L1623.4,1388.8 L1622.6,1390.0 L1621.7,1391.2 L1620.8,1392.4 L1619.9,1393.6 L1619.0,1394.8 L1618.0,1395.9 L1617.0,1397.1 L1616.0,1398.2 L1615.0,1399.3 L1613.9,1400.4 L1612.9,1401.5 L1611.8,1402.5 L1610.8,1403.6 L1609.7,1404.6 L1608.6,1405.7 L1607.5,1406.7 L1606.5,1407.7 L1605.4,1408.8 L1604.3,1409.8 L1603.2,1410.8 L1602.0,1411.8 L1600.9,1412.8 L1599.8,1413.8 L1598.7,1414.8 L1597.6,1415.8 L1596.4,1416.8 L1595.3,1417.7 L1594.1,1418.7 L1593.0,1419.7 L1591.8,1420.6 L1590.7,1421.6 L1589.5,1422.6 L1588.4,1423.5 L1587.3,1424.5 L1586.1,1425.5 L1585.0,1426.5 L1583.9,1427.5 L1582.8,1428.6 L1581.7,1429.6 L1580.7,1430.7 L1579.6,1431.7 L1578.5,1432.8 L1577.5,1433.9 L1576.5,1435.0 L1575.5,1436.1 L1574.5,1437.2 L1573.5,1438.3 L1572.5,1439.4 L1571.6,1440.6 L1570.6,1441.8 L1569.8,1443.0 L1568.9,1444.2 L1568.1,1445.5 L1567.3,1446.8 L1566.5,1448.0 L1565.8,1449.4 L1565.1,1450.7 L1564.5,1452.0 L1563.8,1453.4 L1563.2,1454.8 L1562.7,1456.2 L1562.2,1457.6 L1561.7,1459.0 L1561.3,1460.4 L1560.9,1461.8 L1560.6,1463.3 L1560.4,1464.8 L1560.2,1466.2 L1560.2,1467.7 L1560.2,1469.2 L1560.3,1470.7 L1560.5,1472.2 L1560.7,1473.7 L1561.0,1475.1 L1561.4,1476.6 L1561.7,1478.0 L1562.2,1479.5 L1562.7,1480.9 L1563.2,1482.3 L1563.7,1483.7 L1564.3,1485.0 L1565.0,1486.4 L1565.7,1487.7 L1566.4,1489.0 L1567.2,1490.3 L1568.0,1491.5 L1568.8,1492.8 L1569.7,1494.0 L1570.6,1495.2 L1571.5,1496.4 L1572.5,1497.6 L1573.4,1498.7 L1574.4,1499.8 L1575.5,1500.9 L1576.5,1502.0 L1577.6,1503.0 L1578.7,1504.1 L1579.8,1505.1 L1580.9,1506.1 L1582.0,1507.1 L1583.1,1508.1 L1584.3,1509.0 L1585.4,1510.0 L1586.5,1511.0 L1587.7,1512.0 L1588.8,1513.0 L1589.9,1514.0 L1591.0,1515.0 L1592.1,1516.0 L1593.3,1517.0 L1594.4,1518.0 L1595.5,1519.0 L1596.6,1520.0 L1597.7,1521.0 L1598.8,1522.0 L1599.9,1523.0 L1601.1,1524.0 L1602.2,1525.1 L1603.2,1526.1 L1604.3,1527.1 L1605.4,1528.2 L1606.5,1529.2 L1607.5,1530.3 L1608.6,1531.4 L1609.6,1532.5 L1610.6,1533.5 L1611.7,1534.6 L1612.7,1535.7 L1613.7,1536.8 L1614.7,1538.0 L1615.7,1539.1 L1616.7,1540.2 L1617.7,1541.3 L1618.6,1542.5 L1619.6,1543.6 L1620.6,1544.8 L1621.5,1545.9 L1622.5,1547.1 L1623.4,1548.3 L1624.4,1549.4 L1625.2,1550.6 L1626.1,1551.9 L1626.9,1553.1 L1627.6,1554.4 L1628.3,1555.7 L1628.9,1557.1 L1629.5,1558.5 L1630.0,1559.9 L1630.4,1561.3 L1630.8,1562.8 L1631.2,1564.2 L1631.6,1565.6 L1632.0,1567.1" fill="none" stroke="#b2b2b2" stroke-width="8.0" stroke-linejoin="round" stroke-linecap="round" clip-path="url(#c22)"/>
<path d="M1457.5,1264.1 L1458.2,1265.4 L1458.9,1266.7 L1459.7,1268.1 L1460.4,1269.4 L1461.1,1270.7 L1461.9,1272.0 L1462.7,1273.3 L1463.5,1274.6 L1464.3,1275.8 L1465.2,1277.0 L1466.1,1278.2 L1467.0,1279.4 L1468.0,1280.5 L1469.1,1281.6 L1470.1,1282.6 L1471.2,1283.7 L1472.4,1284.7 L1473.5,1285.7 L1474.6,1286.6 L1475.8,1287.6 L1477.0,1288.5 L1478.2,1289.4 L1479.4,1290.3 L1480.6,1291.2 L1481.9,1292.0 L1483.1,1292.9 L1484.4,1293.7 L1485.7,1294.5 L1486.9,1295.3 L1488.2,1296.1 L1489.5,1296.8 L1490.8,1297.6 L1492.1,1298.3 L1493.5,1299.1 L1494.8,1299.8 L1496.1,1300.5 L1497.4,1301.2 L1498.8,1301.9 L1500.1,1302.6 L1501.5,1303.3 L1502.8,1303.9 L1504.2,1304.6 L1505.5,1305.2 L1506.9,1305.9 L1508.3,1306.5 L1509.6,1307.1 L1511.0,1307.7 L1512.4,1308.3 L1513.8,1308.9 L1515.2,1309.5 L1516.5,1310.1 L1517.9,1310.7 L1519.3,1311.3 L1520.7,1311.8 L1522.1,1312.4 L1523.5,1313.0 L1524.9,1313.5 L1526.3,1314.1 L1527.7,1314.6 L1529.1,1315.1 L1530.5,1315.7 L1532.0,1316.2 L1533.4,1316.7 L1534.8,1317.2 L1536.2,1317.7 L1537.6,1318.2 L1539.1,1318.7 L1540.5,1319.2 L1541.9,1319.7 L1543.3,1320.1 L1544.8,1320.6 L1546.2,1321.1 L1547.6,1321.6 L1549.1,1322.0 L1550.5,1322.5 L1551.9,1322.9 L1553.4,1323.4 L1554.8,1323.8 L1556.3,1324.3 L1557.7,1324.7 L1559.1,1325.2 L1560.6,1325.6 L1562.0,1326.0 L1563.5,1326.4 L1564.9,1326.9 L1566.4,1327.3 L1567.8,1327.7 L1569.3,1328.1 L1570.7,1328.6 L1572.1,1329.0 L1573.6,1329.4 L1575.0,1329.9 L1576.5,1330.3 L1577.9,1330.7 L1579.4,1331.2 L1580.8,1331.6 L1582.2,1332.0 L1583.7,1332.5 L1585.1,1332.9 L1586.6,1333.3 L1588.0,1333.7 L1589.5,1334.2 L1590.9,1334.6 L1592.3,1335.1 L1593.8,1335.6 L1595.2,1336.1 L1596.6,1336.6 L1598.0,1337.1 L1599.4,1337.6 L1600.8,1338.2 L1602.2,1338.7 L1603.6,1339.3 L1605.0,1339.9 L1606.4,1340.6 L1607.7,1341.2 L1609.1,1341.8 L1610.4,1342.5 L1611.8,1343.2 L1613.1,1343.9 L1614.4,1344.6 L1615.7,1345.4 L1616.9,1346.3 L1618.1,1347.1 L1619.3,1348.0 L1620.4,1349.0 L1621.5,1350.1 L1622.5,1351.1 L1623.5,1352.3 L1624.4,1353.5 L1625.3,1354.7 L1626.1,1356.0 L1626.8,1357.3 L1627.6,1358.6 L1628.3,1359.9 L1629.0,1361.2 L1629.7,1362.5 L1630.5,1363.9 L1631.2,1365.2 L1631.9,1366.5" fill="none" stroke="#000" stroke-width="8.0" stroke-linejoin="round" stroke-linecap="round" clip-path="url(#c22)"/>
<path d="M1632.0,1567.1 L1631.4,1568.5 L1630.8,1569.8 L1630.2,1571.2 L1629.5,1572.6 L1628.9,1573.9 L1628.2,1575.3 L1627.5,1576.6 L1626.8,1577.9 L1626.0,1579.1 L1625.1,1580.3 L1624.1,1581.5 L1623.1,1582.5 L1622.0,1583.6 L1620.9,1584.5 L1619.7,1585.4 L1618.5,1586.3 L1617.2,1587.1 L1615.9,1587.9 L1614.6,1588.6 L1613.3,1589.3 L1612.0,1590.0 L1610.6,1590.7 L1609.3,1591.3 L1607.9,1592.0 L1606.5,1592.6 L1605.2,1593.2 L1603.8,1593.8 L1602.4,1594.4 L1601.0,1595.0 L1599.6,1595.5 L1598.2,1596.1 L1596.8,1596.6 L1595.4,1597.1 L1594.0,1597.6 L1592.5,1598.1 L1591.1,1598.5 L1589.7,1599.0 L1588.2,1599.4 L1586.8,1599.9 L1585.4,1600.4 L1583.9,1600.8 L1582.5,1601.3 L1581.1,1601.7 L1579.6,1602.2 L1578.2,1602.6 L1576.8,1603.1 L1575.3,1603.5 L1573.9,1604.0 L1572.4,1604.4 L1571.0,1604.8 L1569.6,1605.2 L1568.1,1605.7 L1566.7,1606.1 L1565.2,1606.5 L1563.8,1606.9 L1562.3,1607.4 L1560.9,1607.8 L1559.4,1608.2 L1558.0,1608.6 L1556.6,1609.1 L1555.1,1609.5 L1553.7,1609.9 L1552.3,1610.4 L1550.8,1610.8 L1549.4,1611.3 L1548.0,1611.8 L1546.5,1612.2 L1545.1,1612.7 L1543.7,1613.2 L1542.2,1613.7 L1540.8,1614.1 L1539.4,1614.6 L1538.0,1615.1 L1536.5,1615.6 L1535.1,1616.1 L1533.7,1616.6 L1532.3,1617.1 L1530.9,1617.6 L1529.5,1618.1 L1528.1,1618.7 L1526.6,1619.2 L1525.2,1619.7 L1523.8,1620.3 L1522.4,1620.8 L1521.0,1621.4 L1519.7,1621.9 L1518.3,1622.5 L1516.9,1623.1 L1515.5,1623.6 L1514.1,1624.2 L1512.7,1624.8 L1511.3,1625.4 L1509.9,1626.0 L1508.6,1626.6 L1507.2,1627.2 L1505.8,1627.8 L1504.5,1628.5 L1503.1,1629.1 L1501.7,1629.8 L1500.4,1630.4 L1499.1,1631.1 L1497.7,1631.8 L1496.4,1632.5 L1495.1,1633.2 L1493.8,1634.0 L1492.5,1634.7 L1491.2,1635.5 L1489.9,1636.3 L1488.6,1637.0 L1487.3,1637.8 L1486.0,1638.7 L1484.8,1639.5 L1483.5,1640.3 L1482.3,1641.2 L1481.1,1642.0 L1479.8,1642.9 L1478.6,1643.8 L1477.4,1644.7 L1476.3,1645.6 L1475.1,1646.6 L1473.9,1647.5 L1472.8,1648.5 L1471.6,1649.5 L1470.5,1650.5 L1469.4,1651.5 L1468.3,1652.5 L1467.2,1653.6 L1466.2,1654.6 L1465.2,1655.8 L1464.3,1656.9 L1463.4,1658.1 L1462.6,1659.4 L1461.8,1660.7 L1461.1,1662.0 L1460.5,1663.3 L1460.0,1664.7 L1459.4,1666.1 L1458.9,1667.5 L1458.5,1669.0 L1458.0,1670.4" fill="none" stroke="#000" stroke-width="8.0" stroke-linejoin="round" stroke-linecap="round" clip-path="url(#c22)"/>
<circle cx="1457.5" cy="1264.1" r="13.6" fill="#000"/>
<circle cx="1631.9" cy="1366.5" r="13.6" fill="#000"/>
<circle cx="1559.9" cy="1466.7" r="13.6" fill="#000"/>
<circle cx="1632.0" cy="1567.1" r="13.6" fill="#000"/>
<circle cx="1458.0" cy="1670.4" r="13.6" fill="#000"/>
<rect x="1847.2" y="1260.4" width="143.4" height="7.6" fill="#000"/>
<rect x="1990.6" y="1260.4" width="349.8" height="7.6" fill="#b2b2b2"/>
<rect x="1847.2" y="1666.0" width="182.4" height="8.8" fill="#000"/>
<rect x="2029.6" y="1666.0" width="310.8" height="8.8" fill="#b2b2b2"/>
<line x1="2175.4" y1="1268" x2="2175.4" y2="1666" stroke="#000" stroke-width="1.7"/>
<path d="M2175.5,1371.7 L2175.1,1373.2 L2174.8,1374.7 L2174.4,1376.2 L2174.1,1377.6 L2173.7,1379.1 L2173.4,1380.6 L2173.0,1382.1 L2172.6,1383.6 L2172.2,1385.0 L2171.7,1386.5 L2171.2,1387.9 L2170.7,1389.3 L2170.0,1390.7 L2169.4,1392.1 L2168.6,1393.4 L2167.9,1394.7 L2167.0,1396.0 L2166.2,1397.2 L2165.3,1398.4 L2164.3,1399.6 L2163.4,1400.8 L2162.4,1402.0 L2161.5,1403.2 L2160.5,1404.4 L2159.5,1405.6 L2158.6,1406.8 L2157.6,1408.0 L2156.7,1409.2 L2155.8,1410.4 L2154.8,1411.6 L2153.9,1412.8 L2153.0,1414.0 L2152.0,1415.2 L2151.1,1416.4 L2150.3,1417.7 L2149.5,1419.0 L2148.7,1420.3 L2147.9,1421.6 L2147.3,1423.0 L2146.7,1424.4 L2146.1,1425.8 L2145.6,1427.2 L2145.1,1428.7 L2144.7,1430.1 L2144.3,1431.6 L2143.9,1433.1 L2143.5,1434.5 L2143.1,1436.0" fill="none" stroke="#b2b2b2" stroke-width="8.0" stroke-linejoin="round" stroke-linecap="round" clip-path="url(#c23)"/>
<path d="M1841.0,1469.7 L1842.5,1469.7 L1844.0,1469.7 L1845.5,1469.8 L1847.0,1469.8 L1848.5,1469.8 L1850.0,1469.8 L1851.5,1469.8 L1853.0,1469.9 L1854.5,1469.9 L1856.0,1469.9 L1857.5,1469.9 L1859.0,1470.0 L1860.5,1470.0 L1862.0,1470.0 L1863.5,1470.0 L1865.0,1470.1 L1866.5,1470.1 L1868.0,1470.1 L1869.5,1470.2 L1871.0,1470.2 L1872.5,1470.2 L1874.0,1470.2 L1875.5,1470.3 L1877.0,1470.3 L1878.5,1470.3 L1880.0,1470.4 L1881.5,1470.4 L1883.0,1470.4 L1884.5,1470.4 L1886.0,1470.5 L1887.5,1470.5 L1889.0,1470.5 L1890.5,1470.5 L1892.0,1470.6 L1893.5,1470.6 L1895.0,1470.6 L1896.5,1470.7 L1898.0,1470.7 L1899.5,1470.7 L1901.0,1470.7 L1902.5,1470.7 L1904.0,1470.8 L1905.5,1470.8 L1907.0,1470.8 L1908.5,1470.8 L1910.0,1470.9 L1911.5,1470.9 L1913.0,1470.9 L1914.5,1470.9 L1916.0,1470.9 L1917.5,1470.9 L1919.0,1471.0 L1920.5,1471.0 L1922.0,1471.0 L1923.5,1471.0 L1925.0,1471.0 L1926.5,1471.0 L1928.0,1471.1 L1929.5,1471.1 L1931.0,1471.1 L1932.5,1471.1 L1934.0,1471.1 L1935.5,1471.2 L1937.0,1471.2 L1938.5,1471.2 L1940.0,1471.3 L1941.5,1471.3 L1943.0,1471.3 L1944.5,1471.3 L1946.0,1471.4 L1947.5,1471.4 L1949.0,1471.5 L1950.5,1471.5 L1952.0,1471.6 L1953.5,1471.6 L1955.0,1471.7 L1956.5,1471.7 L1958.0,1471.8 L1959.5,1471.8 L1961.0,1471.9 L1962.5,1471.9 L1964.0,1472.0 L1965.5,1472.1 L1967.0,1472.1 L1968.5,1472.2 L1970.0,1472.3 L1971.5,1472.3 L1973.0,1472.4 L1974.5,1472.5 L1976.0,1472.5 L1977.5,1472.6 L1979.0,1472.7 L1980.5,1472.8 L1982.0,1472.9 L1983.5,1472.9 L1985.0,1473.0 L1986.5,1473.1 L1988.0,1473.2 L1989.5,1473.3 L1991.0,1473.3 L1992.4,1473.4 L1993.9,1473.5 L1995.4,1473.6 L1996.9,1473.7 L1998.4,1473.8 L1999.9,1473.9 L2001.4,1474.0 L2002.9,1474.1 L2004.4,1474.2 L2005.9,1474.3 L2007.4,1474.4 L2008.9,1474.5 L2010.4,1474.6 L2011.9,1474.7 L2013.4,1474.8 L2014.9,1474.9 L2016.4,1475.0 L2017.9,1475.2 L2019.4,1475.3 L2020.9,1475.4 L2022.4,1475.5 L2023.9,1475.6 L2025.4,1475.8 L2026.9,1475.9 L2028.4,1476.0 L2029.8,1476.2 L2031.3,1476.3 L2032.8,1476.5 L2034.3,1476.6 L2035.8,1476.8 L2037.3,1476.9 L2038.8,1477.1 L2040.3,1477.2 L2041.8,1477.4 L2043.3,1477.5 L2044.8,1477.7 L2046.3,1477.9 L2047.8,1478.0 L2049.2,1478.2 L2050.7,1478.3 L2052.2,1478.5 L2053.7,1478.7 L2055.2,1478.9 L2056.7,1479.1 L2058.2,1479.3 L2059.7,1479.5 L2061.1,1479.7 L2062.6,1480.0 L2064.1,1480.3 L2065.6,1480.5 L2067.0,1480.9 L2068.5,1481.2 L2070.0,1481.5 L2071.4,1481.9 L2072.9,1482.3 L2074.3,1482.7 L2075.7,1483.1 L2077.2,1483.5 L2078.6,1484.0 L2080.0,1484.4 L2081.5,1484.9 L2082.9,1485.4 L2084.3,1485.9 L2085.7,1486.5 L2087.1,1487.0 L2088.5,1487.6 L2089.9,1488.1 L2091.2,1488.7 L2092.6,1489.3 L2094.0,1490.0 L2095.3,1490.6 L2096.7,1491.3 L2098.0,1491.9 L2099.3,1492.6 L2100.7,1493.3 L2102.0,1494.0 L2103.3,1494.7 L2104.6,1495.5 L2105.9,1496.2 L2107.2,1496.9 L2108.6,1497.7 L2109.9,1498.4 L2111.2,1499.2 L2112.5,1499.9 L2113.7,1500.7 L2115.0,1501.4 L2116.3,1502.2 L2117.6,1503.0 L2118.9,1503.8 L2120.2,1504.6 L2121.4,1505.4 L2122.7,1506.2 L2124.0,1507.0 L2125.2,1507.8 L2126.5,1508.6 L2127.7,1509.4 L2129.0,1510.2 L2130.2,1511.1 L2131.5,1511.9 L2132.7,1512.7 L2134.0,1513.6 L2135.2,1514.4 L2136.5,1515.3 L2137.7,1516.1 L2138.9,1517.0 L2140.2,1517.8 L2141.4,1518.7 L2142.6,1519.5 L2143.8,1520.4 L2145.1,1521.3 L2146.3,1522.1 L2147.5,1523.0 L2148.7,1523.9 L2149.9,1524.8 L2151.1,1525.7 L2152.3,1526.6 L2153.5,1527.5 L2154.7,1528.4 L2155.9,1529.3 L2157.1,1530.2 L2158.3,1531.1 L2159.5,1532.1 L2160.6,1533.0 L2161.8,1534.0 L2163.0,1534.9 L2164.1,1535.9 L2165.3,1536.8 L2166.4,1537.8 L2167.6,1538.7 L2168.7,1539.7 L2169.8,1540.7 L2171.0,1541.7 L2172.1,1542.7 L2173.2,1543.7 L2174.3,1544.7 L2175.4,1545.7 L2176.5,1546.8 L2177.6,1547.8 L2178.6,1548.9 L2179.7,1549.9 L2180.7,1551.0 L2181.8,1552.1 L2182.8,1553.2 L2183.8,1554.3 L2184.7,1555.5 L2185.6,1556.7 L2186.4,1557.9 L2187.3,1559.2 L2188.0,1560.4 L2188.8,1561.7 L2189.5,1563.1 L2190.1,1564.4 L2190.8,1565.8 L2191.4,1567.1 L2192.0,1568.5 L2192.7,1569.8 L2193.3,1571.2" fill="none" stroke="#b2b2b2" stroke-width="8.0" stroke-linejoin="round" stroke-linecap="round" clip-path="url(#c23)"/>
<path d="M1990.6,1264.3 L1991.4,1265.6 L1992.1,1266.9 L1992.9,1268.2 L1993.7,1269.5 L1994.4,1270.8 L1995.2,1272.1 L1996.1,1273.3 L1996.9,1274.6 L1997.8,1275.8 L1998.7,1277.0 L1999.6,1278.2 L2000.6,1279.3 L2001.6,1280.4 L2002.7,1281.5 L2003.7,1282.6 L2004.8,1283.6 L2005.9,1284.7 L2007.0,1285.7 L2008.2,1286.7 L2009.3,1287.7 L2010.5,1288.6 L2011.6,1289.6 L2012.8,1290.5 L2014.0,1291.4 L2015.2,1292.3 L2016.4,1293.2 L2017.7,1294.1 L2018.9,1295.0 L2020.1,1295.8 L2021.4,1296.6 L2022.7,1297.5 L2023.9,1298.3 L2025.2,1299.1 L2026.5,1299.9 L2027.8,1300.6 L2029.1,1301.4 L2030.4,1302.1 L2031.7,1302.9 L2033.0,1303.6 L2034.4,1304.3 L2035.7,1305.1 L2037.0,1305.8 L2038.4,1306.5 L2039.7,1307.1 L2041.0,1307.8 L2042.4,1308.5 L2043.8,1309.1 L2045.1,1309.8 L2046.5,1310.4 L2047.9,1311.0 L2049.2,1311.6 L2050.6,1312.3 L2052.0,1312.8 L2053.4,1313.4 L2054.8,1314.0 L2056.2,1314.6 L2057.6,1315.1 L2059.0,1315.7 L2060.4,1316.2 L2061.8,1316.8 L2063.2,1317.3 L2064.6,1317.8 L2066.1,1318.3 L2067.5,1318.8 L2068.9,1319.3 L2070.3,1319.8 L2071.8,1320.3 L2073.2,1320.8 L2074.6,1321.3 L2076.0,1321.8 L2077.5,1322.2 L2078.9,1322.7 L2080.4,1323.1 L2081.8,1323.6 L2083.2,1324.0 L2084.7,1324.4 L2086.1,1324.8 L2087.6,1325.2 L2089.1,1325.6 L2090.5,1326.0 L2092.0,1326.4 L2093.4,1326.8 L2094.9,1327.2 L2096.3,1327.6 L2097.8,1328.0 L2099.3,1328.4 L2100.7,1328.7 L2102.2,1329.1 L2103.6,1329.5 L2105.1,1329.9 L2106.5,1330.3 L2108.0,1330.7 L2109.5,1331.1 L2110.9,1331.5 L2112.4,1331.9 L2113.8,1332.3 L2115.3,1332.6 L2116.7,1333.0 L2118.2,1333.4 L2119.7,1333.8 L2121.1,1334.2 L2122.6,1334.5 L2124.0,1334.9 L2125.5,1335.3 L2127.0,1335.7 L2128.4,1336.1 L2129.9,1336.5 L2131.3,1336.9 L2132.8,1337.3 L2134.2,1337.8 L2135.7,1338.2 L2137.1,1338.7 L2138.5,1339.2 L2139.9,1339.7 L2141.4,1340.2 L2142.8,1340.7 L2144.2,1341.2 L2145.6,1341.8 L2147.0,1342.3 L2148.4,1342.9 L2149.8,1343.5 L2151.1,1344.1 L2152.5,1344.8 L2153.9,1345.4 L2155.2,1346.1 L2156.5,1346.8 L2157.8,1347.6 L2159.1,1348.4 L2160.4,1349.1 L2161.7,1350.0 L2162.9,1350.8 L2164.1,1351.7 L2165.3,1352.6 L2166.5,1353.6 L2167.6,1354.5 L2168.7,1355.6 L2169.7,1356.7 L2170.7,1357.8 L2171.5,1359.0 L2172.3,1360.3 L2172.9,1361.6 L2173.5,1363.0 L2173.9,1364.4 L2174.3,1365.8 L2174.7,1367.3 L2175.0,1368.7 L2175.2,1370.2 L2175.5,1371.7" fill="none" stroke="#000" stroke-width="8.0" stroke-linejoin="round" stroke-linecap="round" clip-path="url(#c23)"/>
<path d="M2143.1,1436.0 L2143.9,1437.3 L2144.8,1438.5 L2145.6,1439.8 L2146.4,1441.0 L2147.3,1442.2 L2148.2,1443.4 L2149.2,1444.6 L2150.2,1445.7 L2151.3,1446.7 L2152.4,1447.7 L2153.6,1448.6 L2154.8,1449.4 L2156.1,1450.2 L2157.4,1451.0 L2158.7,1451.7 L2160.1,1452.3 L2161.4,1452.9 L2162.8,1453.5 L2164.2,1454.0 L2165.6,1454.5 L2167.1,1455.0 L2168.5,1455.4 L2170.0,1455.8 L2171.4,1456.1 L2172.9,1456.4 L2174.4,1456.7 L2175.9,1456.9 L2177.4,1457.1 L2178.9,1457.3 L2180.4,1457.5 L2181.9,1457.7 L2183.4,1457.8 L2184.9,1458.0 L2186.4,1458.1 L2187.9,1458.3 L2189.4,1458.4 L2190.9,1458.6 L2192.4,1458.7 L2193.9,1458.9 L2195.4,1459.0 L2196.9,1459.1 L2198.4,1459.2 L2199.9,1459.3 L2201.4,1459.4 L2202.9,1459.5 L2204.4,1459.6 L2205.9,1459.7 L2207.4,1459.8 L2208.9,1460.0 L2210.4,1460.1 L2211.9,1460.2 L2213.4,1460.3 L2214.9,1460.4 L2216.4,1460.5 L2217.9,1460.6 L2219.4,1460.7 L2220.9,1460.8 L2222.4,1460.9 L2223.9,1460.9 L2225.4,1461.0 L2227.0,1461.1 L2228.5,1461.2 L2230.0,1461.3 L2231.5,1461.4 L2233.0,1461.5 L2234.5,1461.6 L2236.0,1461.6 L2237.5,1461.7 L2239.0,1461.8 L2240.5,1461.9 L2242.0,1461.9 L2243.5,1462.0 L2245.0,1462.1 L2246.5,1462.1 L2248.0,1462.2 L2249.5,1462.3 L2251.0,1462.3 L2252.5,1462.4 L2254.1,1462.4 L2255.6,1462.5 L2257.1,1462.5 L2258.6,1462.5 L2260.1,1462.6 L2261.6,1462.6 L2263.1,1462.6 L2264.6,1462.7 L2266.1,1462.7 L2267.6,1462.7 L2269.1,1462.7 L2270.6,1462.7 L2272.1,1462.8 L2273.6,1462.8 L2275.2,1462.8 L2276.7,1462.8 L2278.2,1462.8 L2279.7,1462.8 L2281.2,1462.8 L2282.7,1462.9 L2284.2,1462.9 L2285.7,1462.9 L2287.2,1462.9 L2288.7,1462.9 L2290.2,1463.0 L2291.7,1463.0 L2293.2,1463.0 L2294.8,1463.0 L2296.3,1463.0 L2297.8,1463.1 L2299.3,1463.1 L2300.8,1463.1 L2302.3,1463.2 L2303.8,1463.2 L2305.3,1463.2 L2306.8,1463.2 L2308.3,1463.3 L2309.8,1463.3 L2311.3,1463.3 L2312.8,1463.3 L2314.3,1463.4 L2315.9,1463.4 L2317.4,1463.4 L2318.9,1463.4 L2320.4,1463.5 L2321.9,1463.5 L2323.4,1463.5 L2324.9,1463.6 L2326.4,1463.6 L2327.9,1463.6 L2329.4,1463.6 L2330.9,1463.7 L2332.4,1463.7 L2333.9,1463.7 L2335.4,1463.7 L2337.0,1463.8 L2338.5,1463.8 L2340.0,1463.8 L2341.5,1463.8 L2343.0,1463.9 L2344.5,1463.9 L2346.0,1463.9" fill="none" stroke="#000" stroke-width="8.0" stroke-linejoin="round" stroke-linecap="round" clip-path="url(#c23)"/>
<path d="M2193.3,1571.2 L2192.7,1572.6 L2192.2,1574.0 L2191.6,1575.4 L2191.0,1576.8 L2190.4,1578.1 L2189.7,1579.5 L2189.0,1580.8 L2188.3,1582.0 L2187.4,1583.3 L2186.5,1584.4 L2185.5,1585.5 L2184.4,1586.6 L2183.3,1587.6 L2182.2,1588.5 L2181.0,1589.4 L2179.7,1590.3 L2178.5,1591.1 L2177.2,1591.8 L2175.9,1592.5 L2174.5,1593.2 L2173.2,1593.9 L2171.8,1594.5 L2170.4,1595.0 L2169.0,1595.5 L2167.6,1596.0 L2166.2,1596.5 L2164.7,1597.0 L2163.3,1597.5 L2161.9,1597.9 L2160.5,1598.4 L2159.0,1598.8 L2157.6,1599.3 L2156.2,1599.8 L2154.7,1600.3 L2153.3,1600.7 L2151.9,1601.2 L2150.4,1601.6 L2149.0,1602.1 L2147.6,1602.5 L2146.1,1603.0 L2144.7,1603.4 L2143.2,1603.8 L2141.8,1604.2 L2140.4,1604.7 L2138.9,1605.1 L2137.5,1605.5 L2136.0,1605.9 L2134.6,1606.4 L2133.1,1606.8 L2131.7,1607.2 L2130.3,1607.7 L2128.8,1608.1 L2127.4,1608.6 L2126.0,1609.0 L2124.5,1609.5 L2123.1,1610.0 L2121.7,1610.5 L2120.3,1611.0 L2118.9,1611.5 L2117.4,1612.0 L2116.0,1612.5 L2114.6,1613.0 L2113.2,1613.5 L2111.8,1614.0 L2110.4,1614.6 L2109.0,1615.1 L2107.6,1615.6 L2106.2,1616.2 L2104.8,1616.7 L2103.4,1617.3 L2102.0,1617.8 L2100.5,1618.3 L2099.1,1618.9 L2097.7,1619.4 L2096.3,1619.9 L2094.9,1620.5 L2093.5,1621.0 L2092.1,1621.5 L2090.7,1622.1 L2089.3,1622.6 L2087.9,1623.2 L2086.5,1623.7 L2085.1,1624.3 L2083.7,1624.9 L2082.4,1625.5 L2081.0,1626.1 L2079.6,1626.8 L2078.3,1627.4 L2076.9,1628.1 L2075.6,1628.7 L2074.2,1629.4 L2072.9,1630.1 L2071.6,1630.8 L2070.3,1631.5 L2068.9,1632.3 L2067.6,1633.0 L2066.3,1633.8 L2065.0,1634.5 L2063.7,1635.3 L2062.5,1636.1 L2061.2,1636.9 L2059.9,1637.7 L2058.7,1638.5 L2057.4,1639.4 L2056.2,1640.2 L2055.0,1641.1 L2053.8,1642.0 L2052.5,1642.9 L2051.3,1643.8 L2050.2,1644.7 L2049.0,1645.6 L2047.8,1646.6 L2046.6,1647.5 L2045.5,1648.5 L2044.3,1649.5 L2043.2,1650.5 L2042.1,1651.5 L2041.0,1652.5 L2039.9,1653.5 L2038.9,1654.6 L2037.9,1655.7 L2036.9,1656.9 L2036.0,1658.0 L2035.1,1659.3 L2034.3,1660.5 L2033.6,1661.8 L2032.9,1663.1 L2032.2,1664.5 L2031.5,1665.8 L2030.9,1667.2 L2030.2,1668.5 L2029.6,1669.9" fill="none" stroke="#000" stroke-width="8.0" stroke-linejoin="round" stroke-linecap="round" clip-path="url(#c23)"/>
<circle cx="1990.6" cy="1264.3" r="13.6" fill="#000"/>
<circle cx="2175.5" cy="1371.7" r="13.6" fill="#000"/>
<circle cx="2143.1" cy="1436.0" r="13.6" fill="#000"/>
<circle cx="2193.3" cy="1571.2" r="13.6" fill="#000"/>
<circle cx="2029.6" cy="1669.9" r="13.6" fill="#000"/>
<text x="48.5" y="108.2" font-family="Liberation Sans" font-size="50.0" font-weight="bold" font-style="normal" text-anchor="start" letter-spacing="0.35">Fixed Tilt Angle (<tspan font-family="Liberation Serif" font-weight="normal">θ</tspan>)</text>
<text x="48.5" y="664.9" font-family="Liberation Sans" font-size="50.0" font-weight="bold" font-style="normal" text-anchor="start" letter-spacing="0.35">Fixed Base Angle (<tspan font-family="Liberation Serif" font-weight="normal">ϕ</tspan>)</text>
<text x="48.5" y="1224.4" font-family="Liberation Sans" font-size="50.0" font-weight="bold" font-style="normal" text-anchor="start" letter-spacing="0.35">Fixed Relative Density (<tspan font-style="italic">s</tspan>)</text>
<text x="180.5" y="158.9" font-family="Liberation Sans" font-size="42.0" font-weight="normal" font-style="normal" text-anchor="end" >1</text>
<text x="180.5" y="262.4" font-family="Liberation Sans" font-size="42.0" font-weight="normal" font-style="normal" text-anchor="end" >0.75</text>
<text x="180.5" y="365.9" font-family="Liberation Sans" font-size="42.0" font-weight="normal" font-style="normal" text-anchor="end" >0.5</text>
<text x="180.5" y="469.4" font-family="Liberation Sans" font-size="42.0" font-weight="normal" font-style="normal" text-anchor="end" >0.25</text>
<text x="180.5" y="572.9" font-family="Liberation Sans" font-size="42.0" font-weight="normal" font-style="normal" text-anchor="end" >0</text>
<text x="180.5" y="717.3" font-family="Liberation Sans" font-size="42.0" font-weight="normal" font-style="normal" text-anchor="end" >180°</text>
<text x="180.5" y="820.8" font-family="Liberation Sans" font-size="42.0" font-weight="normal" font-style="normal" text-anchor="end" >135°</text>
<text x="180.5" y="924.3" font-family="Liberation Sans" font-size="42.0" font-weight="normal" font-style="normal" text-anchor="end" >90°</text>
<text x="180.5" y="1027.8" font-family="Liberation Sans" font-size="42.0" font-weight="normal" font-style="normal" text-anchor="end" >45°</text>
<text x="180.5" y="1131.3" font-family="Liberation Sans" font-size="42.0" font-weight="normal" font-style="normal" text-anchor="end" >0°</text>
<text x="180.5" y="1275.3" font-family="Liberation Sans" font-size="42.0" font-weight="normal" font-style="normal" text-anchor="end" >180°</text>
<text x="180.5" y="1378.8" font-family="Liberation Sans" font-size="42.0" font-weight="normal" font-style="normal" text-anchor="end" >135°</text>
<text x="180.5" y="1482.3" font-family="Liberation Sans" font-size="42.0" font-weight="normal" font-style="normal" text-anchor="end" >90°</text>
<text x="180.5" y="1585.8" font-family="Liberation Sans" font-size="42.0" font-weight="normal" font-style="normal" text-anchor="end" >45°</text>
<text x="180.5" y="1689.3" font-family="Liberation Sans" font-size="42.0" font-weight="normal" font-style="normal" text-anchor="end" >0°</text>
<text x="192.0" y="608.3" font-family="Liberation Sans" font-size="42.0" font-weight="normal" font-style="normal" text-anchor="middle" dx="8.4">0°</text>
<text x="355.8" y="608.3" font-family="Liberation Sans" font-size="42.0" font-weight="normal" font-style="normal" text-anchor="middle" dx="8.4">30°</text>
<text x="519.7" y="608.3" font-family="Liberation Sans" font-size="42.0" font-weight="normal" font-style="normal" text-anchor="middle" dx="8.4">60°</text>
<text x="683.5" y="608.3" font-family="Liberation Sans" font-size="42.0" font-weight="normal" font-style="normal" text-anchor="middle" dx="8.4">90°</text>
<text x="744.0" y="608.3" font-family="Liberation Sans" font-size="42.0" font-weight="normal" font-style="normal" text-anchor="middle" dx="8.4">0°</text>
<text x="907.8" y="608.3" font-family="Liberation Sans" font-size="42.0" font-weight="normal" font-style="normal" text-anchor="middle" dx="8.4">30°</text>
<text x="1071.7" y="608.3" font-family="Liberation Sans" font-size="42.0" font-weight="normal" font-style="normal" text-anchor="middle" dx="8.4">60°</text>
<text x="1235.5" y="608.3" font-family="Liberation Sans" font-size="42.0" font-weight="normal" font-style="normal" text-anchor="middle" dx="8.4">90°</text>
<text x="1296.0" y="608.3" font-family="Liberation Sans" font-size="42.0" font-weight="normal" font-style="normal" text-anchor="middle" dx="8.4">0°</text>
<text x="1459.8" y="608.3" font-family="Liberation Sans" font-size="42.0" font-weight="normal" font-style="normal" text-anchor="middle" dx="8.4">30°</text>
<text x="1623.7" y="608.3" font-family="Liberation Sans" font-size="42.0" font-weight="normal" font-style="normal" text-anchor="middle" dx="8.4">60°</text>
<text x="1787.5" y="608.3" font-family="Liberation Sans" font-size="42.0" font-weight="normal" font-style="normal" text-anchor="middle" dx="8.4">90°</text>
<text x="1848.0" y="608.3" font-family="Liberation Sans" font-size="42.0" font-weight="normal" font-style="normal" text-anchor="middle" dx="8.4">0°</text>
<text x="2011.8" y="608.3" font-family="Liberation Sans" font-size="42.0" font-weight="normal" font-style="normal" text-anchor="middle" dx="8.4">30°</text>
<text x="2175.7" y="608.3" font-family="Liberation Sans" font-size="42.0" font-weight="normal" font-style="normal" text-anchor="middle" dx="8.4">60°</text>
<text x="2339.5" y="608.3" font-family="Liberation Sans" font-size="42.0" font-weight="normal" font-style="normal" text-anchor="middle" dx="8.4">90°</text>
<text x="192.0" y="1165.8" font-family="Liberation Sans" font-size="42.0" font-weight="normal" font-style="normal" text-anchor="middle" >0</text>
<text x="437.8" y="1165.8" font-family="Liberation Sans" font-size="42.0" font-weight="normal" font-style="normal" text-anchor="middle" >0.5</text>
<text x="683.5" y="1165.8" font-family="Liberation Sans" font-size="42.0" font-weight="normal" font-style="normal" text-anchor="middle" >1</text>
<text x="744.0" y="1165.8" font-family="Liberation Sans" font-size="42.0" font-weight="normal" font-style="normal" text-anchor="middle" >0</text>
<text x="989.8" y="1165.8" font-family="Liberation Sans" font-size="42.0" font-weight="normal" font-style="normal" text-anchor="middle" >0.5</text>
<text x="1235.5" y="1165.8" font-family="Liberation Sans" font-size="42.0" font-weight="normal" font-style="normal" text-anchor="middle" >1</text>
<text x="1296.0" y="1165.8" font-family="Liberation Sans" font-size="42.0" font-weight="normal" font-style="normal" text-anchor="middle" >0</text>
<text x="1541.8" y="1165.8" font-family="Liberation Sans" font-size="42.0" font-weight="normal" font-style="normal" text-anchor="middle" >0.5</text>
<text x="1787.5" y="1165.8" font-family="Liberation Sans" font-size="42.0" font-weight="normal" font-style="normal" text-anchor="middle" >1</text>
<text x="1848.0" y="1165.8" font-family="Liberation Sans" font-size="42.0" font-weight="normal" font-style="normal" text-anchor="middle" >0</text>
<text x="2093.8" y="1165.8" font-family="Liberation Sans" font-size="42.0" font-weight="normal" font-style="normal" text-anchor="middle" >0.5</text>
<text x="2339.5" y="1165.8" font-family="Liberation Sans" font-size="42.0" font-weight="normal" font-style="normal" text-anchor="middle" >1</text>
<text x="290.3" y="1723.5" font-family="Liberation Sans" font-size="42.0" font-weight="normal" font-style="normal" text-anchor="middle" dx="8.4">72°</text>
<text x="486.9" y="1723.5" font-family="Liberation Sans" font-size="42.0" font-weight="normal" font-style="normal" text-anchor="middle" dx="8.4">74°</text>
<text x="683.5" y="1723.5" font-family="Liberation Sans" font-size="42.0" font-weight="normal" font-style="normal" text-anchor="middle" dx="8.4">76°</text>
<text x="842.3" y="1723.5" font-family="Liberation Sans" font-size="42.0" font-weight="normal" font-style="normal" text-anchor="middle" dx="8.4">72°</text>
<text x="1038.9" y="1723.5" font-family="Liberation Sans" font-size="42.0" font-weight="normal" font-style="normal" text-anchor="middle" dx="8.4">74°</text>
<text x="1235.5" y="1723.5" font-family="Liberation Sans" font-size="42.0" font-weight="normal" font-style="normal" text-anchor="middle" dx="8.4">76°</text>
<text x="1394.3" y="1723.5" font-family="Liberation Sans" font-size="42.0" font-weight="normal" font-style="normal" text-anchor="middle" dx="8.4">72°</text>
<text x="1590.9" y="1723.5" font-family="Liberation Sans" font-size="42.0" font-weight="normal" font-style="normal" text-anchor="middle" dx="8.4">74°</text>
<text x="1787.5" y="1723.5" font-family="Liberation Sans" font-size="42.0" font-weight="normal" font-style="normal" text-anchor="middle" dx="8.4">76°</text>
<text x="1946.3" y="1723.5" font-family="Liberation Sans" font-size="42.0" font-weight="normal" font-style="normal" text-anchor="middle" dx="8.4">72°</text>
<text x="2142.9" y="1723.5" font-family="Liberation Sans" font-size="42.0" font-weight="normal" font-style="normal" text-anchor="middle" dx="8.4">74°</text>
<text x="2339.5" y="1723.5" font-family="Liberation Sans" font-size="42.0" font-weight="normal" font-style="normal" text-anchor="middle" dx="8.4">76°</text>
<text x="0.0" y="0.0" font-family="Liberation Sans" font-size="42.0" font-weight="normal" font-style="normal" text-anchor="start" transform="translate(73.0,532.1) rotate(-90)">Relative Density (<tspan font-style="italic">s</tspan>)</text>
<text x="0.0" y="0.0" font-family="Liberation Sans" font-size="42.0" font-weight="normal" font-style="normal" text-anchor="start" transform="translate(74.9,1034.8) rotate(-90)">Tilt Angle (<tspan font-family="Liberation Serif">θ</tspan>)</text>
<text x="0.0" y="0.0" font-family="Liberation Sans" font-size="42.0" font-weight="normal" font-style="normal" text-anchor="start" transform="translate(74.9,1592.8) rotate(-90)">Tilt Angle (<tspan font-family="Liberation Serif">θ</tspan>)</text>
<text x="1948.5" y="646.4" font-family="Liberation Sans" font-size="42.0" font-weight="normal" font-style="normal" text-anchor="start" >Base Angle (<tspan font-family="Liberation Serif">ϕ</tspan>)</text>
<text x="1912.4" y="1202.2" font-family="Liberation Sans" font-size="42.0" font-weight="normal" font-style="normal" text-anchor="start" >Relative Density (<tspan font-style="italic">s</tspan>)</text>
<text x="1948.0" y="1761.4" font-family="Liberation Sans" font-size="42.0" font-weight="normal" font-style="normal" text-anchor="start" >Base Angle (<tspan font-family="Liberation Serif">ϕ</tspan>)</text>
<text x="213.5" y="202.0" font-family="Liberation Sans" font-size="42.0" font-weight="normal" font-style="normal" text-anchor="start" ><tspan font-family="Liberation Serif">θ</tspan> = 65°</text>
<text x="765.5" y="202.0" font-family="Liberation Sans" font-size="42.0" font-weight="normal" font-style="normal" text-anchor="start" ><tspan font-family="Liberation Serif">θ</tspan> = 90°</text>
<text x="1317.5" y="202.0" font-family="Liberation Sans" font-size="42.0" font-weight="normal" font-style="normal" text-anchor="start" ><tspan font-family="Liberation Serif">θ</tspan> = 91°</text>
<text x="1869.5" y="202.0" font-family="Liberation Sans" font-size="42.0" font-weight="normal" font-style="normal" text-anchor="start" ><tspan font-family="Liberation Serif">θ</tspan> = 160°</text>
<text x="485.5" y="760.3" font-family="Liberation Sans" font-size="42.0" font-weight="normal" font-style="normal" text-anchor="start" ><tspan font-family="Liberation Serif">ϕ</tspan> = 73°</text>
<text x="1037.5" y="760.3" font-family="Liberation Sans" font-size="42.0" font-weight="normal" font-style="normal" text-anchor="start" ><tspan font-family="Liberation Serif">ϕ</tspan> = 74°</text>
<text x="1552.5" y="760.3" font-family="Liberation Sans" font-size="42.0" font-weight="normal" font-style="normal" text-anchor="start" ><tspan font-family="Liberation Serif">ϕ</tspan> = 74.194°</text>
<text x="2107.7" y="760.3" font-family="Liberation Sans" font-size="42.0" font-weight="normal" font-style="normal" text-anchor="start" ><tspan font-family="Liberation Serif">ϕ</tspan> = 74.330°</text>
<text x="215.0" y="1348.8" font-family="Liberation Sans" font-size="42.0" font-weight="normal" font-style="normal" text-anchor="start" ><tspan font-style="italic">s</tspan> = 0.460</text>
<text x="767.0" y="1348.8" font-family="Liberation Sans" font-size="42.0" font-weight="normal" font-style="normal" text-anchor="start" ><tspan font-style="italic">s</tspan> = 0.499</text>
<text x="1319.0" y="1348.8" font-family="Liberation Sans" font-size="42.0" font-weight="normal" font-style="normal" text-anchor="start" ><tspan font-style="italic">s</tspan> = 0.500</text>
<text x="1871.0" y="1348.8" font-family="Liberation Sans" font-size="42.0" font-weight="normal" font-style="normal" text-anchor="start" ><tspan font-style="italic">s</tspan> = 0.510</text>
<text x="230.5" y="543.5" font-family="Liberation Sans" font-size="51.0" font-weight="bold" font-style="normal" text-anchor="start" >A</text>
<text x="782.5" y="543.5" font-family="Liberation Sans" font-size="51.0" font-weight="bold" font-style="normal" text-anchor="start" >B</text>
<text x="1334.5" y="543.5" font-family="Liberation Sans" font-size="51.0" font-weight="bold" font-style="normal" text-anchor="start" >C</text>
<text x="1886.5" y="543.5" font-family="Liberation Sans" font-size="51.0" font-weight="bold" font-style="normal" text-anchor="start" >D</text>
<text x="230.5" y="1101.0" font-family="Liberation Sans" font-size="51.0" font-weight="bold" font-style="normal" text-anchor="start" >E</text>
<text x="782.5" y="1101.0" font-family="Liberation Sans" font-size="51.0" font-weight="bold" font-style="normal" text-anchor="start" >F</text>
<text x="1334.5" y="1101.0" font-family="Liberation Sans" font-size="51.0" font-weight="bold" font-style="normal" text-anchor="start" >G</text>
<text x="1886.5" y="1101.0" font-family="Liberation Sans" font-size="51.0" font-weight="bold" font-style="normal" text-anchor="start" >H</text>
<text x="230.5" y="1659.0" font-family="Liberation Sans" font-size="51.0" font-weight="bold" font-style="normal" text-anchor="start" >I</text>
<text x="782.5" y="1659.0" font-family="Liberation Sans" font-size="51.0" font-weight="bold" font-style="normal" text-anchor="start" >J</text>
<text x="1334.5" y="1659.0" font-family="Liberation Sans" font-size="51.0" font-weight="bold" font-style="normal" text-anchor="start" >K</text>
<text x="1886.5" y="1659.0" font-family="Liberation Sans" font-size="51.0" font-weight="bold" font-style="normal" text-anchor="start" >L</text>
<text x="1073.0" y="1460.0" font-family="Liberation Sans" font-size="42.0" font-weight="normal" font-style="italic" text-anchor="start" >c</text>
<text x="968.0" y="1497.0" font-family="Liberation Sans" font-size="42.0" font-weight="normal" font-style="italic" text-anchor="start" >d</text>
<text x="1096.0" y="1584.5" font-family="Liberation Sans" font-size="42.0" font-weight="normal" font-style="italic" text-anchor="start" >b</text>
<text x="1007.0" y="1639.0" font-family="Liberation Sans" font-size="42.0" font-weight="normal" font-style="italic" text-anchor="start" >a</text>
</svg></body></html>
